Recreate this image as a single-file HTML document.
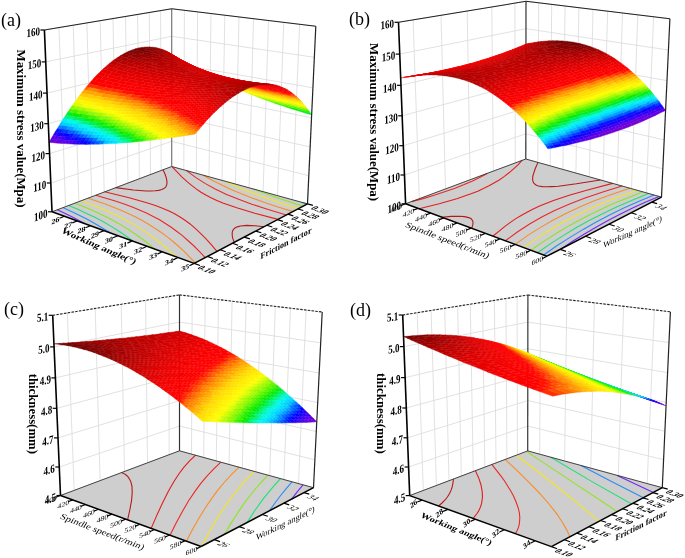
<!DOCTYPE html>
<html><head><meta charset="utf-8"><style>
html,body{margin:0;padding:0;background:#fff;width:685px;height:558px;overflow:hidden}
svg{display:block;will-change:transform}
text{font-family:"Liberation Serif",serif}
.tl{font-weight:bold}
.tt{font-weight:bold}
.tv{font-weight:bold}
.pl{}
.k0{fill:#8000c8;stroke:#8000c8}.k1{fill:#7700d0;stroke:#7700d0}.k2{fill:#6e00d8;stroke:#6e00d8}.k3{fill:#6600e0;stroke:#6600e0}.k4{fill:#5d00e8;stroke:#5d00e8}.k5{fill:#4e00ee;stroke:#4e00ee}.k6{fill:#3c00f2;stroke:#3c00f2}.k7{fill:#2a00f6;stroke:#2a00f6}.k8{fill:#1800fa;stroke:#1800fa}.k9{fill:#0600fe;stroke:#0600fe}.k10{fill:#0016ff;stroke:#0016ff}.k11{fill:#0039ff;stroke:#0039ff}.k12{fill:#005cff;stroke:#005cff}.k13{fill:#007eff;stroke:#007eff}.k14{fill:#00a1ff;stroke:#00a1ff}.k15{fill:#00c4ff;stroke:#00c4ff}.k16{fill:#00d4fd;stroke:#00d4fd}.k17{fill:#00e2fa;stroke:#00e2fa}.k18{fill:#00f0f7;stroke:#00f0f7}.k19{fill:#00f9e7;stroke:#00f9e7}.k20{fill:#00f6b7;stroke:#00f6b7}.k21{fill:#00f386;stroke:#00f386}.k22{fill:#00f056;stroke:#00f056}.k23{fill:#00ed25;stroke:#00ed25}.k24{fill:#08ec00;stroke:#08ec00}.k25{fill:#28ef00;stroke:#28ef00}.k26{fill:#49f200;stroke:#49f200}.k27{fill:#69f500;stroke:#69f500}.k28{fill:#89f800;stroke:#89f800}.k29{fill:#a4f900;stroke:#a4f900}.k30{fill:#bffb00;stroke:#bffb00}.k31{fill:#dafd00;stroke:#dafd00}.k32{fill:#f4fe00;stroke:#f4fe00}.k33{fill:#fffb00;stroke:#fffb00}.k34{fill:#fff400;stroke:#fff400}.k35{fill:#ffed00;stroke:#ffed00}.k36{fill:#ffe600;stroke:#ffe600}.k37{fill:#ffdf00;stroke:#ffdf00}.k38{fill:#ffd800;stroke:#ffd800}.k39{fill:#ffc900;stroke:#ffc900}.k40{fill:#ffb800;stroke:#ffb800}.k41{fill:#ffa700;stroke:#ffa700}.k42{fill:#ff9600;stroke:#ff9600}.k43{fill:#ff8500;stroke:#ff8500}.k44{fill:#ff6a00;stroke:#ff6a00}.k45{fill:#ff4c00;stroke:#ff4c00}.k46{fill:#ff2e00;stroke:#ff2e00}.k47{fill:#ff1000;stroke:#ff1000}.k48{fill:#fe0000;stroke:#fe0000}.k49{fill:#fd0000;stroke:#fd0000}.k50{fill:#fc0000;stroke:#fc0000}.k51{fill:#fa0000;stroke:#fa0000}.k52{fill:#f70000;stroke:#f70000}.k53{fill:#f40000;stroke:#f40000}.k54{fill:#f10000;stroke:#f10000}.k55{fill:#ed0000;stroke:#ed0000}.k56{fill:#e90000;stroke:#e90000}.k57{fill:#e40000;stroke:#e40000}.k58{fill:#de0000;stroke:#de0000}.k59{fill:#d90000;stroke:#d90000}.k60{fill:#d30000;stroke:#d30000}.k61{fill:#cc0000;stroke:#cc0000}.k62{fill:#c50000;stroke:#c50000}.k63{fill:#be0000;stroke:#be0000}.k64{fill:#b80000;stroke:#b80000}.k65{fill:#b00000;stroke:#b00000}.k66{fill:#a70000;stroke:#a70000}.k67{fill:#9e0000;stroke:#9e0000}.k68{fill:#950000;stroke:#950000}.k69{fill:#8b0000;stroke:#8b0000}.k70{fill:#810000;stroke:#810000}.k71{fill:#780000;stroke:#780000}.k72{fill:#6e0000;stroke:#6e0000}
</style></head><body>
<svg width="685" height="558" viewBox="0 0 685 558">
<g><line x1="52" y1="211.8" x2="171.7" y2="166.5" stroke="#d9d9d9" stroke-width="0.8"/><line x1="171.7" y1="166.5" x2="307.5" y2="203.9" stroke="#d9d9d9" stroke-width="0.8"/><line x1="50.8" y1="183" x2="171.7" y2="141.3" stroke="#d9d9d9" stroke-width="0.8"/><line x1="171.7" y1="141.3" x2="308.8" y2="175.7" stroke="#d9d9d9" stroke-width="0.8"/><line x1="49.5" y1="153.6" x2="171.7" y2="115.7" stroke="#d9d9d9" stroke-width="0.8"/><line x1="171.7" y1="115.7" x2="310.2" y2="147" stroke="#d9d9d9" stroke-width="0.8"/><line x1="48.3" y1="123.7" x2="171.7" y2="89.7" stroke="#d9d9d9" stroke-width="0.8"/><line x1="171.7" y1="89.7" x2="311.5" y2="117.7" stroke="#d9d9d9" stroke-width="0.8"/><line x1="47" y1="93.1" x2="171.7" y2="63.2" stroke="#d9d9d9" stroke-width="0.8"/><line x1="171.7" y1="63.2" x2="312.9" y2="87.8" stroke="#d9d9d9" stroke-width="0.8"/><line x1="45.7" y1="61.9" x2="171.7" y2="36.3" stroke="#d9d9d9" stroke-width="0.8"/><line x1="171.7" y1="36.3" x2="314.4" y2="57.3" stroke="#d9d9d9" stroke-width="0.8"/><line x1="44.4" y1="30" x2="171.7" y2="8.8" stroke="#d9d9d9" stroke-width="0.8"/><line x1="171.7" y1="8.8" x2="315.8" y2="26.2" stroke="#d9d9d9" stroke-width="0.8"/><line x1="65.6" y1="206.6" x2="59" y2="27.6" stroke="#d9d9d9" stroke-width="0.8"/><line x1="78.9" y1="201.6" x2="73.2" y2="25.2" stroke="#d9d9d9" stroke-width="0.8"/><line x1="91.7" y1="196.7" x2="86.9" y2="22.9" stroke="#d9d9d9" stroke-width="0.8"/><line x1="104.2" y1="192" x2="100.2" y2="20.7" stroke="#d9d9d9" stroke-width="0.8"/><line x1="116.3" y1="187.4" x2="113" y2="18.6" stroke="#d9d9d9" stroke-width="0.8"/><line x1="128" y1="183" x2="125.5" y2="16.5" stroke="#d9d9d9" stroke-width="0.8"/><line x1="139.4" y1="178.7" x2="137.6" y2="14.5" stroke="#d9d9d9" stroke-width="0.8"/><line x1="150.5" y1="174.5" x2="149.3" y2="12.5" stroke="#d9d9d9" stroke-width="0.8"/><line x1="161.2" y1="170.4" x2="160.6" y2="10.7" stroke="#d9d9d9" stroke-width="0.8"/><line x1="183.8" y1="169.8" x2="184.4" y2="10.4" stroke="#d9d9d9" stroke-width="0.8"/><line x1="196.3" y1="173.2" x2="197.6" y2="11.9" stroke="#d9d9d9" stroke-width="0.8"/><line x1="209" y1="176.7" x2="211" y2="13.6" stroke="#d9d9d9" stroke-width="0.8"/><line x1="222" y1="180.3" x2="224.8" y2="15.2" stroke="#d9d9d9" stroke-width="0.8"/><line x1="235.4" y1="184" x2="239" y2="17" stroke="#d9d9d9" stroke-width="0.8"/><line x1="249.1" y1="187.8" x2="253.5" y2="18.7" stroke="#d9d9d9" stroke-width="0.8"/><line x1="263.1" y1="191.7" x2="268.5" y2="20.5" stroke="#d9d9d9" stroke-width="0.8"/><line x1="277.5" y1="195.6" x2="283.8" y2="22.4" stroke="#d9d9d9" stroke-width="0.8"/><line x1="292.3" y1="199.7" x2="299.6" y2="24.3" stroke="#d9d9d9" stroke-width="0.8"/></g>
<path d="M52 211.8L194.2 263.4L307.5 203.9L171.7 166.5Z" fill="#cecece"/>
<g transform="scale(.2)" fill="none" stroke-width="5.5"><path d="M423 1118l-66-36-70-33" stroke="#7328fa"/><path d="M551 1164l-54-33-58-33-61-31-64-29" stroke="#288cfa"/><path d="M666 1206l-36-26-35-24-39-24-39-23-40-21-44-21-44-21-46-19" stroke="#1ee178"/><path d="M1509 1012l27 8" stroke="#1ee178"/><path d="M774 1246l-44-37-45-33-46-31-47-28-51-28-53-25-56-25-58-23" stroke="#8ce61e"/><path d="M1267 945l114 42 134 44" stroke="#8ce61e"/><path d="M880 1284l-51-47-51-41-53-38-55-35-59-32-64-31-67-29-74-27" stroke="#f5e61e"/><path d="M1123 905l76 35 85 33 96 34 112 37" stroke="#f5e61e"/><path d="M977 1314l-58-58-28-26-29-25-29-23-30-22-31-20-31-20-32-19-33-17-68-32-78-31-89-30" stroke="#fa8c28"/><path d="M1016 876l45 25 45 23 49 23 49 21 56 22 63 22 67 23 75 23" stroke="#fa8c28"/><path d="M1026 1288l-27-29-29-29-28-25-30-27-29-22-27-20-31-20-29-18-30-16-34-17-35-15-36-15-40-15-45-15-97-29" stroke="#eb2828"/><path d="M931 852l47 35 47 30 51 28 54 26 60 24 69 26 78 25 95 29" stroke="#eb2828"/><path d="M1085 1257l-31-36-26-29-28-28-24-22-24-21-27-20-25-16-27-16-28-14-33-14-35-13-39-13-92-26-123-30" stroke="#e11e1e"/><path d="M860 833l49 51 25 23 24 20 21 16 26 18 24 14 26 14 29 13 30 13 70 24 90 27 116 31" stroke="#e11e1e"/><path d="M815 849l10 21 6 18 3 14 1 13-2 11-5 10-9 7-10 5-15 4-18 2-22 1-24 0-63-5-89-12" stroke="#b41919"/><path d="M1171 1212l-5-14-4-14-1-11 0-9 2-9 3-6 7-8 8-5 10-3 12-3 30-3 42 2 45 5" stroke="#b41919"/></g>
<line x1="52" y1="211.8" x2="171.7" y2="166.5" stroke="#333" stroke-width="0.9"/>
<line x1="171.7" y1="166.5" x2="307.5" y2="203.9" stroke="#333" stroke-width="0.9"/>
<line x1="171.7" y1="166.5" x2="171.7" y2="8.8" stroke="#777" stroke-width="1.2"/>
<g transform="scale(.2)" stroke-width="2" stroke-linejoin="round"><path class="k58" d="M850 266l15 9 8 5-15-9zM856 270l15 9 9 5-15-9zM862 274l16 10 9 4-16-9zM869 279l16 9 9 5-16-9zM875 284l17 8 9 5-16-9zM882 288l17 9 9 4-16-9zM888 293l18 8 10 5-17-9z"/><path class="k59" d="M841 261l15 9 9 5-15-9zM847 265l15 9 9 5-15-9zM853 270l16 9 9 5-16-10zM859 275l16 9 10 4-16-9zM865 279l17 9 10 4-17-8z"/><path class="k56" d="M865 275l15 9 8 6-15-10zM871 279l16 9 8 6-15-10zM878 284l16 9 9 5-16-10zM916 306l18 8 9 5-17-9z"/><path class="k61" d="M832 256l15 9 9 5-15-9zM838 261l15 9 9 4-15-9zM844 266l15 9 10 4-16-9zM849 271l16 8 10 5-16-9zM855 276l17 8 10 4-17-9zM861 281l17 8 10 4-16-9z"/><path class="k55" d="M880 284l15 10 9 5-16-9zM887 288l16 10 8 5-16-9zM894 293l16 9 9 5-16-9zM901 297l17 9 9 5-17-9zM908 301l18 9 9 5-17-9z"/><path class="k62" d="M823 252l15 9 9 4-15-9zM828 257l16 9 9 4-15-9zM834 262l15 9 10 4-15-9zM839 267l16 9 10 3-16-8zM845 273l16 8 11 3-17-8z"/><path class="k53" d="M895 294l16 9 9 6-16-10zM903 298l16 9 9 6-17-10zM935 315l18 9 9 6-18-10zM943 319l18 9 10 5-18-9z"/><path class="k63" d="M813 248l15 9 10 4-15-9zM818 253l16 9 10 4-16-9zM824 259l15 8 10 4-15-9zM829 264l16 9 10 3-16-9zM834 270l16 8 11 3-16-8z"/><path class="k52" d="M911 303l17 10 8 5-16-9zM919 307l17 9 8 6-16-9zM927 311l17 9 9 6-17-10z"/><path class="k65" d="M804 245l14 8 10 4-15-9zM808 250l16 9 10 3-16-9zM806 260l16 8 12 2-16-8z"/><path class="k50" d="M928 313l16 9 9 6-17-10zM962 330l18 9 9 6-19-10zM971 333l18 9 9 6-18-9z"/><path class="k66" d="M793 242l15 8 10 3-14-8zM798 248l15 8 11 3-16-9zM802 254l16 8 11 2-16-8z"/><path class="k49" d="M944 322l17 10 9 6-17-10zM953 326l17 9 9 6-18-9z"/><path class="k57" d="M885 288l16 9 9 5-16-9zM892 292l16 9 10 5-17-9zM899 297l17 9 10 4-18-9z"/><path class="k54" d="M910 302l17 9 9 5-17-9zM918 306l17 9 9 5-17-9zM926 310l17 9 10 5-18-9z"/><path class="k51" d="M936 316l17 10 8 6-17-10zM944 320l18 10 8 5-17-9zM953 324l18 9 9 6-18-9z"/><path class="k67" d="M783 239l15 9 10 2-15-8zM787 245l15 9 11 2-15-8zM790 252l16 8 12 2-16-8zM778 251l16 7 12 2-16-8z"/><path class="k47" d="M961 332l18 9 8 6-17-9zM998 348l19 9 9 7-19-10z"/><path class="k68" d="M772 237l15 8 11 3-15-9zM775 244l15 8 12 2-15-9z"/><path class="k46" d="M979 341l18 10 8 6-18-10zM989 345l18 9 9 6-19-9z"/><path class="k64" d="M813 256l16 8 10 3-15-8zM818 262l16 8 11 3-16-9z"/><path class="k48" d="M970 335l19 10 8 6-18-10zM980 339l18 9 9 6-18-9z"/><path class="k45" d="M997 351l19 9 8 7-19-10zM1007 354l19 10 9 6-19-10z"/><path class="k69" d="M760 236l15 8 12 1-15-8zM763 243l15 8 12 1-15-8zM750 243l16 7 12 1-15-8z"/><path class="k43" d="M1016 360l19 10 8 7-19-10z"/><path class="k70" d="M748 235l15 8 12 1-15-8zM735 235l15 8 13 0-15-8z"/><path class="k60" d="M872 284l16 9 11 4-17-9z"/><path class="k42" d="M1035 370l19 10 8 7-19-10z"/><path class="k44" d="M1026 364l20 9 8 7-19-10z"/><path class="k41" d="M1054 380l20 10 9 6-21-9z"/><path class="k71" d="M722 236l15 7 13 0-15-8zM708 237l15 8 14-2-15-7zM693 240l15 7 15-2-15-8zM708 247l15 7 15-2-15-7zM677 244l15 7 16-4-15-7zM692 251l15 7 16-4-15-7zM660 250l15 6 17-5-15-7z"/><path class="k57" d="M906 301l17 9 11 4-18-8zM913 306l18 9 11 4-19-9zM939 319l19 8 11 4-19-8z"/><path class="k60" d="M878 289l17 9 11 3-18-8zM884 295l18 8 11 3-18-8zM891 300l18 8 11 3-18-8z"/><path class="k54" d="M934 314l18 9 9 5-18-9zM960 327l20 9 10 5-20-9zM969 331l20 9 10 5-19-9z"/><path class="k62" d="M850 278l17 8 11 3-17-8zM856 284l17 8 11 3-17-9zM861 290l18 8 12 2-18-8z"/><path class="k52" d="M961 328l19 9 9 5-18-9zM970 332l20 9 9 5-19-9zM980 336l19 9 10 5-19-9z"/><path class="k64" d="M822 268l17 8 11 2-16-8zM827 274l17 8 12 2-17-8zM831 281l17 7 13 2-17-8z"/><path class="k49" d="M989 342l19 10 9 5-19-9zM999 346l20 9 9 6-20-9zM1030 359l21 8 9 6-21-9z"/><path class="k66" d="M794 258l16 8 12 2-16-8zM798 265l16 8 13 1-17-8zM801 273l17 7 13 1-17-8zM787 273l17 8 14-1-17-7z"/><path class="k46" d="M1017 357l20 10 9 6-20-9zM1028 361l21 9 8 6-20-9zM1060 373l22 9 9 7-22-10z"/><path class="k68" d="M766 250l15 8 13 0-16-7zM768 258l16 7 14 0-17-7zM754 259l16 7 14-1-16-7z"/><path class="k43" d="M1046 373l20 10 8 7-20-10zM1057 376l21 10 9 6-21-9z"/><path class="k39" d="M1074 390l21 9 8 7-20-10zM1108 402l22 10 8 7-21-10z"/><path class="k70" d="M737 243l15 8 14-1-16-7zM723 245l15 7 14-1-15-8zM723 254l16 7 15-2-16-7zM707 258l16 7 16-4-16-7zM675 256l15 7 17-5-15-7z"/><path class="k58" d="M895 298l18 8 10 4-17-9zM920 311l19 8 11 4-19-8z"/><path class="k56" d="M923 310l19 9 10 4-18-9zM931 315l19 8 10 4-18-8z"/><path class="k61" d="M867 286l17 9 11 3-17-9zM873 292l18 8 11 3-18-8zM879 298l18 7 12 3-18-8z"/><path class="k53" d="M952 323l18 9 10 5-19-9z"/><path class="k63" d="M839 276l17 8 11 2-17-8zM844 282l17 8 12 2-17-8zM848 288l18 8 13 2-18-8z"/><path class="k50" d="M980 337l19 9 9 6-19-10zM1009 350l21 9 9 5-20-9z"/><path class="k65" d="M810 266l17 8 12 2-17-8zM814 273l17 8 13 1-17-8zM818 280l17 8 13 0-17-7z"/><path class="k47" d="M1008 352l20 9 9 6-20-10zM1039 364l21 9 9 6-20-9z"/><path class="k67" d="M781 258l17 7 12 1-16-8zM784 265l17 8 13 0-16-8zM770 266l17 7 14 0-17-8z"/><path class="k44" d="M1037 367l20 9 9 7-20-10zM1069 379l22 10 9 6-22-9z"/><path class="k41" d="M1066 383l21 9 8 7-21-9zM1100 395l22 10 8 7-22-10z"/><path class="k69" d="M752 251l16 7 13 0-15-8zM738 252l16 7 14-1-16-7zM739 261l16 7 15-2-16-7z"/><path class="k38" d="M1095 399l22 10 8 8-22-11zM1130 412l22 9 8 7-22-9z"/><path class="k55" d="M942 319l18 8 10 5-18-9zM950 323l19 8 11 5-20-9z"/><path class="k40" d="M1087 392l21 10 9 7-22-10z"/><path class="k37" d="M1117 409l21 10 8 7-21-9z"/><path class="k59" d="M902 303l18 8 11 4-18-9zM909 308l19 8 11 3-19-8z"/><path class="k51" d="M990 341l19 9 10 5-20-9zM999 345l21 8 10 6-21-9z"/><path class="k48" d="M1019 355l20 9 10 6-21-9z"/><path class="k45" d="M1049 370l20 9 9 7-21-10z"/><path class="k42" d="M1078 386l22 9 8 7-21-10z"/><path class="k36" d="M1138 419l22 9 8 8-22-10z"/><path class="k35" d="M1160 428l21 9 8 8-21-9z"/><path class="k43" d="M1091 389l22 9 9 7-22-10zM1125 400l22 8 9 7-22-8z"/><path class="k71" d="M641 257l15 7 19-8-15-6z"/><path class="k40" d="M1122 405l21 9 9 7-22-9zM1156 415l21 8 9 8-22-9z"/><path class="k37" d="M1152 421l21 9 8 7-21-9zM1186 431l21 8 8 7-21-8z"/><path class="k68" d="M755 268l17 7 15-2-17-7zM739 271l17 7 16-3-17-7zM722 276l17 7 17-5-17-7zM601 279l15 6 20-12-15-6zM688 276l16 7 18-7-16-6zM652 279l15 6 21-9-16-6zM616 285l15 5 21-11-16-6zM704 283l17 6 18-6-17-7zM667 285l17 6 20-8-16-7z"/><path class="k33" d="M1181 437l21 9 8 8-21-9zM1236 454l21 8 8 9-21-8z"/><path class="k69" d="M723 265l16 6 16-3-16-7zM706 270l16 6 17-5-16-6zM672 270l16 6 18-6-16-7zM636 273l16 6 20-9-16-6z"/><path class="k70" d="M690 263l16 7 17-5-16-7zM656 264l16 6 18-7-15-7zM621 267l15 6 20-9-15-7z"/><path class="k58" d="M928 316l19 8 11 3-19-8zM935 321l20 8 12 3-20-8z"/><path class="k56" d="M958 327l20 9 11 4-20-9zM967 332l20 8 12 4-21-8z"/><path class="k60" d="M897 305l19 8 12 3-19-8zM903 311l20 8 12 2-19-8z"/><path class="k53" d="M989 340l20 8 11 5-21-8zM1020 352l22 9 10 4-21-8z"/><path class="k62" d="M866 296l19 8 12 1-18-7zM871 302l19 8 13 1-18-7z"/><path class="k50" d="M1020 353l21 9 10 5-21-8zM1052 365l22 9 10 5-21-8z"/><path class="k64" d="M835 288l18 7 13 1-18-8zM839 295l19 7 13 0-18-7zM824 296l19 7 15-1-19-7z"/><path class="k48" d="M1051 367l21 9 10 6-22-9zM1063 371l21 8 10 6-22-9z"/><path class="k45" d="M1082 382l22 9 9 7-22-9zM1116 393l21 9 10 6-22-8z"/><path class="k66" d="M804 281l17 7 14 0-17-8zM789 282l17 7 15-1-17-7zM773 285l18 7 15-3-17-7zM791 292l18 6 15-2-18-7zM756 289l18 6 17-3-18-7z"/><path class="k42" d="M1113 398l21 9 9 7-21-9zM1147 408l21 8 9 7-21-8z"/><path class="k39" d="M1143 414l21 8 9 8-21-9zM1177 423l21 8 9 8-21-8z"/><path class="k67" d="M772 275l17 7 15-1-17-8zM756 278l17 7 16-3-17-7zM739 283l17 6 17-4-17-7zM582 291l15 6 19-12-15-6zM631 290l16 6 20-11-15-6zM721 289l17 6 18-6-17-6z"/><path class="k36" d="M1173 430l21 8 8 8-21-9zM1207 439l21 8 8 7-21-8z"/><path class="k32" d="M1202 446l21 8 8 9-21-9zM1223 454l21 9 8 8-21-8z"/><path class="k57" d="M947 324l20 8 11 4-20-9zM955 329l21 8 11 3-20-8z"/><path class="k59" d="M916 313l19 8 12 3-19-8zM923 319l20 7 12 3-20-8z"/><path class="k54" d="M978 336l21 8 10 4-20-8zM999 344l21 8 11 5-22-9z"/><path class="k61" d="M885 304l18 7 13 2-19-8zM890 310l20 7 13 2-20-8z"/><path class="k52" d="M1009 348l22 9 10 5-21-9z"/><path class="k63" d="M853 295l18 7 14 2-19-8zM858 302l18 7 14 1-19-8z"/><path class="k49" d="M1041 362l22 9 9 5-21-9z"/><path class="k47" d="M1072 376l22 9 10 6-22-9zM1084 379l22 8 10 6-22-8z"/><path class="k65" d="M821 288l18 7 14 0-18-7zM806 289l18 7 15-1-18-7z"/><path class="k44" d="M1104 391l21 9 9 7-21-9z"/><path class="k41" d="M1134 407l22 8 8 7-21-8z"/><path class="k38" d="M1164 422l22 9 8 7-21-8z"/><path class="k35" d="M1194 438l21 8 8 8-21-8z"/><path class="k51" d="M1031 357l21 8 11 6-22-9z"/><path class="k46" d="M1094 385l22 8 9 7-21-9z"/><path class="k31" d="M1244 463l21 8 7 8-20-8z"/><path class="k34" d="M1215 446l21 8 8 9-21-9z"/><path class="k55" d="M987 340l22 8 11 4-21-8z"/><path class="k30" d="M1265 471l20 7 8 9-21-8z"/><path class="k29" d="M1285 478l21 8 8 9-21-8z"/><path class="k32" d="M1257 462l20 8 8 8-20-7z"/><path class="k56" d="M976 337l21 7 12 4-22-8zM997 344l22 8 11 4-21-8zM1007 349l22 7 12 4-22-8z"/><path class="k58" d="M943 326l20 8 13 3-21-8zM963 334l22 7 12 3-21-7zM972 339l22 7 13 3-22-8z"/><path class="k54" d="M1009 348l21 8 12 5-22-9zM1041 360l22 7 11 4-22-7z"/><path class="k35" d="M1228 447l20 7 9 8-21-8z"/><path class="k60" d="M910 317l20 7 13 2-20-7zM930 324l20 8 13 2-20-8zM937 331l21 7 14 1-22-7z"/><path class="k52" d="M1042 361l22 8 10 5-22-9zM1052 364l22 7 11 5-21-7zM1074 371l22 8 11 5-22-8z"/><path class="k38" d="M1198 431l21 8 9 8-21-8z"/><path class="k49" d="M1074 374l22 8 10 5-22-8zM1107 384l21 7 11 6-22-8z"/><path class="k66" d="M597 297l15 5 19-12-15-5zM774 295l18 7 17-4-18-6zM738 295l17 6 19-6-18-6zM612 302l16 6 19-12-16-6zM700 297l17 6 21-8-17-6zM663 302l17 5 20-10-16-6zM755 301l18 6 19-5-18-7zM717 303l18 6 20-8-17-6z"/><path class="k41" d="M1168 416l21 8 9 7-21-8z"/><path class="k46" d="M1106 387l22 8 9 7-21-9zM1128 395l21 8 10 6-22-7z"/><path class="k44" d="M1137 402l22 7 9 7-21-8zM1170 410l21 7 10 7-21-7z"/><path class="k62" d="M876 309l20 7 14 1-20-7zM881 317l20 6 15 0-20-7zM578 327l15 5 17-12-16-5z"/><path class="k64" d="M843 303l19 7 14-1-18-7zM827 305l19 6 16-1-19-7zM594 315l16 5 18-12-16-6zM810 308l19 6 17-3-19-6zM610 320l17 5 17-12-16-5z"/><path class="k65" d="M564 304l15 5 18-12-15-6zM809 298l18 7 16-2-19-7zM579 309l15 6 18-13-15-5zM792 302l18 6 17-3-18-7zM628 308l16 5 19-11-16-6zM680 307l17 6 20-10-17-6zM773 307l19 6 18-5-18-6zM644 313l17 5 19-11-17-5zM735 309l18 6 20-8-18-6z"/><path class="k67" d="M684 291l16 6 21-8-17-6zM647 296l16 6 21-11-17-6z"/><path class="k28" d="M1306 486l21 7 7 9-20-7zM1327 493l20 7 8 10-21-8z"/><path class="k31" d="M1277 470l21 7 8 9-21-8zM1298 477l21 7 8 9-21-7z"/><path class="k34" d="M1248 454l21 8 8 8-20-8zM1269 462l21 7 8 8-21-7z"/><path class="k37" d="M1219 439l21 7 8 8-20-7zM1240 446l21 8 8 8-21-8z"/><path class="k40" d="M1189 424l21 7 9 8-21-8z"/><path class="k43" d="M1159 409l21 8 9 7-21-8z"/><path class="k53" d="M1030 356l22 8 12 5-22-8z"/><path class="k51" d="M1064 369l21 7 11 6-22-8z"/><path class="k48" d="M1096 382l21 7 11 6-22-8zM1117 389l22 8 10 6-21-8z"/><path class="k61" d="M896 316l20 7 14 1-20-7zM916 323l21 8 13 1-20-8zM531 331l15 5 16-14-15-5zM546 336l15 5 17-14-16-5zM901 323l21 7 15 1-21-8z"/><path class="k63" d="M862 310l19 7 15-1-20-7zM547 317l15 5 17-13-15-5zM562 322l16 5 16-12-15-6zM846 311l19 7 16-1-19-7z"/><path class="k39" d="M1210 431l21 8 9 7-21-7zM1231 439l21 7 9 8-21-8z"/><path class="k42" d="M1180 417l21 7 9 7-21-7zM1201 424l21 7 9 8-21-8z"/><path class="k45" d="M1149 403l21 7 10 7-21-8z"/><path class="k50" d="M1085 376l22 8 10 5-21-7z"/><path class="k57" d="M985 341l22 8 12 3-22-8z"/><path class="k55" d="M1019 352l22 8 11 4-22-8z"/><path class="k59" d="M950 332l22 7 13 2-22-7zM515 345l16 4 15-13-15-5z"/><path class="k27" d="M1347 500l20 7 8 10-20-7z"/><path class="k30" d="M1319 484l20 7 8 9-20-7z"/><path class="k33" d="M1290 469l21 7 8 8-21-7z"/><path class="k36" d="M1261 454l20 7 9 8-21-7z"/><path class="k47" d="M1139 397l21 7 10 6-21-7z"/><path class="k26" d="M1367 507l21 7 7 10-20-7z"/><path class="k29" d="M1339 491l21 7 7 9-20-7zM1360 498l20 7 8 9-21-7z"/><path class="k63" d="M865 318l21 7 15-2-20-6zM627 325l16 5 18-12-17-5zM849 321l20 6 17-2-21-7zM643 330l17 5 18-11-17-6zM869 327l20 6 17-2-20-6zM696 329l18 5 19-10-18-6zM830 325l20 6 19-4-20-6z"/><path class="k32" d="M1311 476l20 7 8 8-20-7zM1331 483l21 6 8 9-21-7z"/><path class="k35" d="M1281 461l21 6 9 9-21-7zM1302 467l21 7 8 9-20-7z"/><path class="k65" d="M697 313l18 5 20-9-18-6zM753 315l19 5 20-7-19-6z"/><path class="k64" d="M829 314l20 7 16-3-19-7zM661 318l17 6 19-11-17-6zM792 313l19 6 18-5-19-6zM715 318l18 6 20-9-18-6zM678 324l18 5 19-11-18-5zM811 319l19 6 19-4-20-7zM772 320l19 6 20-7-19-6zM733 324l18 5 21-9-19-5zM791 326l19 6 20-7-19-6z"/><path class="k38" d="M1252 446l21 7 8 8-20-7z"/><path class="k41" d="M1222 431l21 7 9 8-21-7z"/><path class="k44" d="M1191 417l21 7 10 7-21-7z"/><path class="k57" d="M501 359l15 4 15-14-16-4zM994 346l22 7 13 3-22-7zM516 363l15 5 15-14-15-5zM1016 353l22 7 12 3-21-7zM531 368l16 4 15-13-16-5z"/><path class="k46" d="M1160 404l21 7 10 6-21-7zM1181 411l21 7 10 6-21-7z"/><path class="k26" d="M1388 514l20 7 8 9-21-6z"/><path class="k59" d="M531 349l15 5 15-13-15-5zM958 338l22 7 14 1-22-7zM546 354l16 5 15-14-16-4zM980 345l22 6 14 2-22-7z"/><path class="k49" d="M1128 391l22 7 10 6-21-7z"/><path class="k51" d="M1096 379l21 7 11 5-21-7zM459 403l15 4 13-15-15-4z"/><path class="k61" d="M561 341l16 4 16-13-15-5zM922 330l21 7 15 1-21-7zM626 342l18 5 16-12-17-5z"/><path class="k62" d="M593 332l17 5 17-12-17-5zM886 325l20 6 16-1-21-7zM610 337l16 5 17-12-16-5zM906 331l22 6 15 0-21-7zM660 335l18 5 18-11-18-5z"/><path class="k53" d="M1063 367l21 7 12 5-22-8zM1084 374l22 7 11 5-21-7zM472 388l15 4 14-14-15-5zM487 392l16 4 14-14-16-4z"/><path class="k55" d="M1029 356l21 7 13 4-22-7zM486 373l15 5 15-15-15-4zM1050 363l22 7 12 4-21-7zM501 378l16 4 14-14-15-5z"/><path class="k37" d="M1273 453l20 6 9 8-21-6zM1293 459l21 7 9 8-21-7z"/><path class="k40" d="M1243 438l21 7 9 8-21-7zM1264 445l20 6 9 8-20-6z"/><path class="k25" d="M1408 521l21 6 7 10-20-7zM1429 527l20 7 7 10-20-7z"/><path class="k43" d="M1212 424l21 7 10 7-21-7z"/><path class="k28" d="M1380 505l21 6 7 10-20-7zM1401 511l20 7 8 9-21-6z"/><path class="k48" d="M1150 398l21 7 10 6-21-7z"/><path class="k60" d="M577 345l17 5 16-13-17-5zM943 337l22 7 15 1-22-7zM594 350l16 5 16-13-16-5z"/><path class="k50" d="M1117 386l22 6 11 6-22-7zM1139 392l21 7 11 6-21-7z"/><path class="k31" d="M1352 489l20 7 8 9-20-7zM1372 496l21 6 8 9-21-6z"/><path class="k34" d="M1323 474l20 7 9 8-21-6zM1343 481l21 6 8 9-20-7z"/><path class="k42" d="M1233 431l21 6 10 8-21-7zM1254 437l21 7 9 7-20-6z"/><path class="k45" d="M1202 418l21 6 10 7-21-7z"/><path class="k47" d="M1171 405l21 6 10 7-21-7z"/><path class="k58" d="M562 359l16 4 16-13-17-5zM1002 351l22 7 14 2-22-7z"/><path class="k52" d="M1106 381l21 6 12 5-22-6z"/><path class="k36" d="M1314 466l21 6 8 9-20-7z"/><path class="k54" d="M1072 370l22 7 12 4-22-7z"/><path class="k24" d="M1449 534l21 6 7 10-21-6z"/><path class="k56" d="M1038 360l21 7 13 3-22-7z"/><path class="k39" d="M1284 451l21 7 9 8-21-7z"/><path class="k27" d="M1421 518l21 6 7 10-20-7z"/><path class="k60" d="M965 344l22 6 15 1-22-6zM610 355l17 4 17-12-18-5zM950 344l22 6 15 0-22-6zM972 350l22 6 15 0-22-6z"/><path class="k55" d="M517 382l16 4 14-14-16-4zM1081 373l21 6 13 4-21-6z"/><path class="k64" d="M751 329l19 6 21-9-19-6z"/><path class="k61" d="M928 337l22 7 15 0-22-7zM644 347l17 5 17-12-18-5zM661 352l18 4 17-11-18-5zM933 345l22 6 17-1-22-6zM715 350l19 4 17-10-19-5z"/><path class="k30" d="M1393 502l20 6 8 10-20-7zM1413 508l21 6 8 10-21-6z"/><path class="k44" d="M1223 424l21 6 10 7-21-6zM1244 430l21 6 10 8-21-7zM420 449l15 3 13-15-15-4z"/><path class="k48" d="M446 418l15 4 13-15-15-4zM461 422l15 4 13-15-15-4zM476 426l16 3 13-14-16-4zM1202 411l21 6 11 7-21-7z"/><path class="k56" d="M547 372l16 4 15-13-16-4zM1059 367l22 6 13 4-22-7zM563 376l17 5 15-14-17-4zM580 381l17 4 15-13-17-5z"/><path class="k62" d="M889 333l22 6 17-2-22-6zM678 340l18 5 18-11-18-5zM911 339l22 6 17-1-22-7zM696 345l19 5 17-11-18-5zM871 337l22 6 18-4-22-6zM751 344l20 5 19-9-20-5z"/><path class="k47" d="M1192 411l21 6 10 7-21-6z"/><path class="k33" d="M1364 487l20 6 9 9-21-6zM1384 493l21 6 8 9-20-6z"/><path class="k63" d="M714 334l18 5 19-10-18-5zM850 331l21 6 18-4-20-6zM810 332l20 5 20-6-20-6zM770 335l20 5 20-8-19-6zM732 339l19 5 19-9-19-6zM830 337l21 6 20-6-21-6zM790 340l20 5 20-8-20-5z"/><path class="k58" d="M578 363l17 4 15-12-16-5zM595 367l17 5 15-13-17-4zM612 372l18 4 15-12-18-5z"/><path class="k49" d="M1160 399l21 6 11 6-21-6zM1181 405l21 6 11 6-21-6z"/><path class="k50" d="M474 407l15 4 14-15-16-4zM489 411l16 4 14-15-16-4zM505 415l16 3 14-14-16-4z"/><path class="k24" d="M1470 540l20 6 7 10-20-6z"/><path class="k36" d="M1335 472l20 6 9 9-21-6z"/><path class="k52" d="M1127 387l21 7 12 5-21-7zM503 396l16 4 14-14-16-4zM519 400l16 4 14-14-16-4z"/><path class="k54" d="M1094 377l21 6 12 4-21-6zM533 386l16 4 14-14-16-4zM549 390l17 4 14-13-17-5z"/><path class="k39" d="M1305 458l21 6 9 8-21-6zM396 480l15 3 12-15-15-4z"/><path class="k27" d="M1442 524l20 6 8 10-21-6z"/><path class="k46" d="M433 433l15 4 13-15-15-4zM1213 417l21 7 10 6-21-6zM448 437l15 4 13-15-15-4zM1234 424l21 5 10 7-21-6z"/><path class="k41" d="M1275 444l21 6 9 8-21-7zM1296 450l20 6 10 8-21-6zM408 464l15 4 12-16-15-3z"/><path class="k57" d="M1024 358l22 6 13 3-21-7zM1046 364l21 6 14 3-22-6z"/><path class="k59" d="M987 350l22 6 15 2-22-7zM627 359l18 5 16-12-17-5zM1009 356l22 6 15 2-22-6zM645 364l18 4 16-12-18-4z"/><path class="k23" d="M1490 546l20 6 8 11-21-7zM1510 552l21 6 7 11-20-6z"/><path class="k35" d="M1355 478l21 6 8 9-20-6zM1376 484l21 6 8 9-21-6z"/><path class="k26" d="M1462 530l20 6 8 10-20-6zM1482 536l21 6 7 10-20-6z"/><path class="k51" d="M1148 394l22 6 11 5-21-6zM1170 400l21 6 11 5-21-6z"/><path class="k38" d="M1326 464l20 6 9 8-20-6zM1346 470l21 6 9 8-21-6z"/><path class="k53" d="M1115 383l21 6 12 5-21-7z"/><path class="k29" d="M1434 514l20 6 8 10-20-6zM1454 520l21 6 7 10-20-6z"/><path class="k43" d="M1265 436l21 6 10 8-21-6zM435 452l16 4 12-15-15-4z"/><path class="k32" d="M1405 499l21 6 8 9-21-6z"/><path class="k40" d="M1316 456l21 6 9 8-20-6z"/><path class="k60" d="M679 356l19 5 17-11-19-5zM994 356l22 6 15 0-22-6zM698 361l19 4 17-11-19-4zM977 357l22 5 17 0-22-6zM717 365l19 5 17-11-19-5z"/><path class="k53" d="M1136 389l22 6 12 5-22-6z"/><path class="k23" d="M1531 558l20 6 7 10-20-5z"/><path class="k32" d="M1426 505l20 6 8 9-20-6z"/><path class="k62" d="M893 343l22 5 18-3-22-6zM851 343l22 5 20-5-22-6zM810 345l21 5 20-7-21-6zM771 349l20 5 19-9-20-5zM915 348l22 6 18-3-22-6zM873 348l22 6 20-6-22-5zM831 350l21 5 21-7-22-5zM791 354l21 5 19-9-21-5z"/><path class="k46" d="M463 441l16 3 13-15-16-3zM1255 429l21 6 10 7-21-6zM479 444l16 3 13-14-16-4zM495 447l17 4 13-15-17-3z"/><path class="k43" d="M1286 442l21 6 9 8-20-6zM451 456l16 3 12-15-16-3zM1307 448l20 6 10 8-21-6zM467 459l16 3 12-15-16-3z"/><path class="k52" d="M535 404l17 4 14-14-17-4zM1158 395l21 5 12 6-21-6zM552 408l17 4 14-14-17-4zM1179 400l21 6 12 5-21-5zM569 412l17 3 14-13-17-4z"/><path class="k55" d="M1102 379l22 6 12 4-21-6z"/><path class="k41" d="M423 468l15 3 13-15-16-4zM438 471l16 3 13-15-16-3zM454 474l16 3 13-15-16-3z"/><path class="k35" d="M1397 490l20 6 9 9-21-6z"/><path class="k26" d="M1503 542l20 6 8 10-21-6zM339 560l15 3 11-16-15-3z"/><path class="k36" d="M384 496l15 3 12-16-15-3zM399 499l15 3 12-16-15-3z"/><path class="k57" d="M1067 370l22 6 13 3-21-6zM630 376l18 4 15-12-18-4zM648 380l18 4 16-12-19-4z"/><path class="k54" d="M566 394l17 4 14-13-17-4zM1124 385l21 5 13 5-22-6zM583 398l17 4 15-13-18-4zM1145 390l21 6 13 4-21-5z"/><path class="k48" d="M492 429l16 4 13-15-16-3zM1223 417l21 6 11 6-21-5zM1244 423l21 5 11 7-21-6zM508 433l17 3 13-14-17-4z"/><path class="k37" d="M1367 476l21 5 9 9-21-6zM1388 481l20 6 9 9-20-6zM1408 487l21 5 9 9-21-5z"/><path class="k58" d="M1031 362l22 6 14 2-21-6zM1053 368l22 6 14 2-22-6z"/><path class="k29" d="M1475 526l20 6 8 10-21-6z"/><path class="k56" d="M597 385l18 4 15-13-18-4zM1089 376l21 5 14 4-22-6zM615 389l18 4 15-13-18-4zM1110 381l22 6 13 3-21-5z"/><path class="k50" d="M1191 406l21 5 11 6-21-6zM521 418l17 4 14-14-17-4zM1212 411l21 6 11 6-21-6zM538 422l17 4 14-14-17-4z"/><path class="k40" d="M1337 462l21 5 9 9-21-6zM1358 467l21 6 9 8-21-5z"/><path class="k34" d="M372 512l15 3 12-16-15-3zM1417 496l21 5 8 10-20-6zM387 515l16 3 11-16-15-3zM1438 501l20 6 9 9-21-5z"/><path class="k39" d="M411 483l15 3 12-15-15-3zM426 486l16 3 12-15-16-3z"/><path class="k31" d="M1446 511l21 5 8 10-21-6zM361 528l15 3 11-16-15-3zM1467 516l20 6 8 10-20-6zM376 531l15 2 12-15-16-3z"/><path class="k59" d="M663 368l19 4 16-11-19-5zM1016 362l22 5 15 1-22-6zM682 372l19 5 16-12-19-4z"/><path class="k61" d="M955 351l22 6 17-1-22-6zM734 354l19 5 18-10-20-5zM753 359l21 5 17-10-20-5zM937 354l22 5 18-2-22-6z"/><path class="k25" d="M1523 548l21 5 7 11-20-6z"/><path class="k45" d="M1276 435l21 6 10 7-21-6zM1297 441l20 5 10 8-20-6z"/><path class="k28" d="M1495 532l21 5 7 11-20-6zM350 544l15 3 11-16-15-3zM1516 537l20 6 8 10-21-5z"/><path class="k42" d="M1327 454l21 5 10 8-21-5z"/><path class="k47" d="M1265 428l21 6 11 7-21-6z"/><path class="k36" d="M414 502l16 3 12-16-16-3zM1429 492l21 5 8 10-20-6zM430 505l16 3 12-16-16-3zM1450 497l20 6 9 9-21-5zM1470 503l21 5 9 9-21-5z"/><path class="k31" d="M1487 522l21 5 8 10-21-5zM1508 527l21 6 7 10-20-6zM391 533l16 3 12-16-16-2z"/><path class="k39" d="M1379 473l20 5 9 9-20-6zM442 489l16 3 12-15-16-3zM1399 478l21 5 9 9-21-5zM458 492l17 3 12-15-17-3zM1420 483l21 5 9 9-21-5z"/><path class="k54" d="M600 402l18 4 15-13-18-4zM1166 396l21 5 13 5-21-6zM618 406l19 3 14-12-18-4z"/><path class="k49" d="M1233 417l21 5 11 6-21-5zM1254 422l21 5 11 7-21-6zM1275 427l21 5 11 7-21-5z"/><path class="k23" d="M328 577l15 2 11-16-15-3zM343 579l15 3 11-17-15-2z"/><path class="k48" d="M525 436l17 4 13-14-17-4zM542 440l18 3 13-14-18-3z"/><path class="k57" d="M1075 374l21 5 14 2-21-5zM666 384l19 4 16-11-19-5zM1096 379l21 5 15 3-22-6zM685 388l20 4 15-11-19-4zM1117 384l22 5 14 3-21-5z"/><path class="k34" d="M1458 507l21 5 8 10-20-6zM403 518l16 2 11-15-16-3zM419 520l16 3 11-15-16-3z"/><path class="k42" d="M1348 459l21 5 10 9-21-6zM1369 464l21 6 9 8-20-5z"/><path class="k62" d="M895 354l22 5 20-5-22-6zM852 355l23 5 20-6-22-6zM812 359l22 5 18-9-21-5zM917 359l22 5 20-5-22-5zM875 360l22 5 20-6-22-5z"/><path class="k29" d="M365 547l15 2 11-16-15-2zM380 549l16 3 11-16-16-3z"/><path class="k44" d="M483 462l16 3 13-14-17-4zM1338 451l21 5 10 8-21-5zM499 465l17 3 13-14-17-3zM1359 456l21 5 10 9-21-6z"/><path class="k56" d="M633 393l18 4 15-13-18-4zM1132 387l21 5 13 4-21-6zM651 397l19 3 15-12-19-4z"/><path class="k52" d="M1200 406l21 5 12 6-21-6zM586 415l18 4 14-13-18-4zM604 419l19 3 14-13-19-3z"/><path class="k59" d="M1038 367l21 5 16 2-22-6zM701 377l19 4 16-11-19-5zM1059 372l22 5 15 2-21-5zM720 381l21 4 16-11-21-4z"/><path class="k45" d="M1317 446l21 5 10 8-21-5z"/><path class="k21" d="M317 593l15 3 11-17-15-2zM332 596l15 2 11-16-15-3z"/><path class="k50" d="M555 426l18 3 13-14-17-3zM573 429l18 3 13-13-18-4z"/><path class="k60" d="M999 362l22 5 17 0-22-5zM736 370l21 4 17-10-21-5zM1021 367l22 5 16 0-21-5zM757 374l21 4 16-10-20-4z"/><path class="k47" d="M1286 434l21 5 10 7-20-5zM1307 439l21 5 10 7-21-5z"/><path class="k26" d="M354 563l15 2 11-16-15-2zM369 565l16 3 11-16-16-3z"/><path class="k46" d="M512 451l17 3 13-14-17-4zM529 454l18 3 13-14-18-3z"/><path class="k61" d="M774 364l20 4 18-9-21-5zM959 359l22 5 18-2-22-5zM834 364l22 4 19-8-23-5zM794 368l22 5 18-9-22-5zM981 364l22 5 18-2-22-5z"/><path class="k18" d="M306 610l15 2 11-16-15-3zM321 612l16 2 10-16-15-2z"/><path class="k41" d="M470 477l17 3 12-15-16-3zM1390 470l20 5 10 8-21-5zM487 480l17 3 12-15-17-3z"/><path class="k33" d="M1479 512l21 5 8 10-21-5zM1500 517l20 6 9 10-21-6z"/><path class="k15" d="M296 627l15 2 10-17-15-2z"/><path class="k51" d="M1221 411l21 5 12 6-21-5zM1242 416l21 5 12 6-21-5z"/><path class="k53" d="M1187 401l22 5 12 5-21-5z"/><path class="k13" d="M286 644l14 2 11-17-15-2z"/><path class="k55" d="M1153 392l21 5 13 4-21-5z"/><path class="k10" d="M275 660l15 2 10-16-14-2z"/><path class="k32" d="M407 536l16 3 12-16-16-3z"/><path class="k37" d="M446 508l17 2 12-15-17-3z"/><path class="k24" d="M358 582l16 2 11-16-16-3zM374 584l16 2 11-16-16-2z"/><path class="k7" d="M265 677l15 2 10-17-15-2z"/><path class="k54" d="M637 409l19 4 14-13-19-3zM656 413l20 3 14-12-20-4z"/><path class="k16" d="M311 629l15 2 11-17-16-2zM326 631l16 2 10-17-15-2z"/><path class="k48" d="M560 443l18 3 13-14-18-3zM578 446l18 3 13-13-18-4zM1317 437l21 5 11 7-21-5z"/><path class="k39" d="M1441 488l20 5 9 10-20-6zM475 495l17 3 12-15-17-3zM492 498l17 3 13-15-18-3z"/><path class="k29" d="M396 552l16 2 11-15-16-3zM412 554l17 3 11-16-17-2z"/><path class="k58" d="M1081 377l21 5 15 2-21-5zM1102 382l22 5 15 2-22-5z"/><path class="k46" d="M1328 444l21 5 10 7-21-5zM547 457l18 3 13-14-18-3zM1349 449l20 5 11 7-21-5zM565 460l18 3 13-14-18-3zM1369 454l21 4 11 8-21-5z"/><path class="k53" d="M1209 406l21 5 12 5-21-5zM1230 411l21 4 12 6-21-5zM1251 415l21 5 12 6-21-5z"/><path class="k61" d="M939 364l22 4 20-4-22-5zM856 368l22 5 19-8-22-5zM1003 369l22 5 18-2-22-5zM816 373l22 4 18-9-22-4zM961 368l22 5 20-4-22-5zM919 370l22 4 20-6-22-4zM878 373l22 4 19-7-22-5zM838 377l23 4 17-8-22-5z"/><path class="k44" d="M516 468l18 3 13-14-18-3zM1380 461l21 5 9 9-20-5zM534 471l18 3 13-14-18-3zM1401 466l20 5 10 9-21-5z"/><path class="k4" d="M255 694l15 2 10-17-15-2z"/><path class="k34" d="M435 523l16 3 12-16-17-2zM451 526l17 2 12-15-17-3z"/><path class="k56" d="M670 400l20 4 15-12-20-4zM690 404l20 4 15-12-20-4z"/><path class="k21" d="M347 598l16 2 11-16-16-2z"/><path class="k13" d="M300 646l16 1 10-16-15-2zM316 647l15 2 11-16-16-2z"/><path class="k41" d="M1410 475l21 5 10 8-21-5zM1431 480l21 4 9 9-20-5zM1452 484l21 5 9 9-21-5z"/><path class="k50" d="M591 432l18 4 14-14-19-3zM609 436l19 3 14-13-19-4z"/><path class="k49" d="M1296 432l21 5 11 7-21-5z"/><path class="k55" d="M1174 397l21 5 14 4-22-5zM1195 402l21 4 14 5-21-5z"/><path class="k60" d="M1043 372l21 5 17 0-22-5zM778 378l21 4 17-9-22-5zM1064 377l22 4 16 1-21-5zM1025 374l21 4 18-1-21-5zM799 382l22 4 17-9-22-4z"/><path class="k2" d="M245 712l15 1 10-17-15-2zM260 713l15 2 10-17-15-2z"/><path class="k36" d="M1491 508l21 5 8 10-20-6z"/><path class="k57" d="M705 392l20 4 16-11-21-4zM1139 389l21 4 14 4-21-5zM725 396l21 4 16-11-21-4zM1160 393l21 5 14 4-21-5z"/><path class="k62" d="M897 365l22 5 20-6-22-5z"/><path class="k27" d="M385 568l16 2 11-16-16-2zM401 570l16 2 12-15-17-3z"/><path class="k10" d="M290 662l15 2 11-17-16-1z"/><path class="k19" d="M337 614l15 2 11-16-16-2zM352 616l16 2 11-16-16-2z"/><path class="k59" d="M741 385l21 4 16-11-21-4zM762 389l21 4 16-11-21-4z"/><path class="k32" d="M423 539l17 2 11-15-16-3zM440 541l17 2 11-15-17-2z"/><path class="k51" d="M1263 421l21 5 12 6-21-5zM1284 426l21 4 12 7-21-5z"/><path class="k52" d="M623 422l19 4 14-13-19-4zM642 426l20 3 14-13-20-3z"/><path class="k42" d="M504 483l18 3 12-15-18-3zM522 486l18 3 12-15-18-3z"/><path class="k37" d="M463 510l17 3 12-15-17-3zM480 513l18 2 11-14-17-3z"/><path class="k38" d="M1461 493l21 5 9 10-21-5zM1482 498l21 5 9 10-21-5z"/><path class="k8" d="M280 679l15 2 10-17-15-2zM295 681l16 1 10-16-16-2z"/><path class="k5" d="M270 696l15 2 10-17-15-2z"/><path class="k22" d="M363 600l16 2 11-16-16-2z"/><path class="k11" d="M305 664l16 2 10-17-15-2z"/><path class="k24" d="M390 586l16 2 11-16-16-2z"/><path class="k58" d="M1124 387l21 4 15 2-21-4zM1145 391l21 4 15 3-21-5zM1166 395l21 4 15 3-21-4z"/><path class="k48" d="M1338 442l20 4 11 8-20-5zM596 449l19 3 13-13-19-3zM1358 446l21 5 11 7-21-4zM1379 451l21 4 11 8-21-5z"/><path class="k16" d="M342 633l16 1 10-16-16-2z"/><path class="k54" d="M676 416l20 4 14-12-20-4zM696 420l21 3 14-12-21-3zM1259 415l21 4 13 5-21-4z"/><path class="k43" d="M1421 471l21 5 10 8-21-4zM1442 476l21 4 10 9-21-5zM1463 480l21 4 10 10-21-5z"/><path class="k30" d="M429 557l17 2 11-16-17-2zM446 559l17 2 11-16-17-2z"/><path class="k55" d="M1216 406l22 5 13 4-21-4zM1238 411l21 4 13 5-21-5z"/><path class="k61" d="M983 373l22 4 20-3-22-5zM941 374l22 4 20-5-22-5zM900 377l23 4 18-7-22-4zM861 381l22 4 17-8-22-4zM1005 377l22 4 19-3-21-4zM963 378l22 4 20-5-22-4zM923 381l21 4 19-7-22-4zM883 385l22 4 18-8-23-4zM1027 381l21 4 20-3-22-4z"/><path class="k5" d="M285 698l16 1 10-17-16-1z"/><path class="k44" d="M552 474l19 3 12-14-18-3zM571 477l19 3 12-14-19-3z"/><path class="k35" d="M468 528l18 2 12-15-18-2zM486 530l18 3 12-15-18-3z"/><path class="k40" d="M509 501l18 2 13-14-18-3zM527 503l19 2 12-14-18-2z"/><path class="k22" d="M379 602l17 2 10-16-16-2zM396 604l17 2 10-16-17-2z"/><path class="k51" d="M1305 430l21 5 12 7-21-5zM648 442l20 3 14-13-20-3z"/><path class="k59" d="M1086 381l21 5 17 1-22-5zM783 393l22 3 16-10-22-4zM1107 386l21 4 17 1-21-4zM805 396l23 4 16-10-23-4z"/><path class="k14" d="M331 649l16 2 11-17-16-1zM347 651l17 1 10-16-16-2z"/><path class="k56" d="M710 408l21 3 15-11-21-4zM1181 398l21 4 14 4-21-4zM1202 402l22 4 14 5-22-5zM731 411l22 4 15-12-22-3z"/><path class="k46" d="M1390 458l21 5 10 8-20-5zM583 463l19 3 13-14-19-3zM1411 463l21 4 10 9-21-5zM1432 467l21 4 10 9-21-4z"/><path class="k3" d="M275 715l16 1 10-17-16-1zM291 716l16 1 10-17-16-1z"/><path class="k50" d="M628 439l20 3 14-13-20-3zM1326 435l21 4 11 7-20-4zM1347 439l21 4 11 8-21-5z"/><path class="k41" d="M1473 489l21 5 9 9-21-5z"/><path class="k27" d="M417 572l17 2 12-15-17-2z"/><path class="k53" d="M1272 420l21 4 12 6-21-4zM682 432l21 3 14-12-21-3z"/><path class="k11" d="M321 666l16 1 10-16-16-2z"/><path class="k57" d="M746 400l22 3 15-10-21-4zM768 403l22 4 15-11-22-3z"/><path class="k19" d="M368 618l17 2 11-16-17-2z"/><path class="k60" d="M1046 378l22 4 18-1-22-4zM821 386l23 4 17-9-23-4zM1068 382l21 4 18 0-21-5zM844 390l22 4 17-9-22-4z"/><path class="k32" d="M457 543l17 2 12-15-18-2z"/><path class="k37" d="M498 515l18 3 11-15-18-2z"/><path class="k42" d="M540 489l18 2 13-14-19-3zM558 491l19 2 13-13-19-3z"/><path class="k52" d="M662 429l20 3 14-12-20-4zM1293 424l21 5 12 6-21-5z"/><path class="k9" d="M311 682l16 2 10-17-16-1zM327 684l16 1 11-16-17-2z"/><path class="k25" d="M406 588l17 2 11-16-17-2zM423 590l18 2 11-16-18-2z"/><path class="k17" d="M358 634l16 2 11-16-17-2zM374 636l17 2 11-16-17-2z"/><path class="k49" d="M615 452l20 3 13-13-20-3z"/><path class="k6" d="M301 699l16 1 10-16-16-2z"/><path class="k28" d="M434 574l18 2 11-15-17-2z"/><path class="k12" d="M337 667l17 2 10-17-17-1z"/><path class="k20" d="M385 620l17 2 11-16-17-2z"/><path class="k33" d="M474 545l18 3 12-15-18-3z"/><path class="k47" d="M602 466l20 2 13-13-20-3z"/><path class="k38" d="M516 518l18 2 12-15-19-2z"/><path class="k59" d="M1128 390l22 4 16 1-21-4zM1150 394l21 3 16 2-21-4zM828 400l22 3 16-9-22-4zM1171 397l21 4 17 2-22-4zM850 403l22 3 16-9-22-3z"/><path class="k56" d="M1224 406l21 4 14 5-21-4zM753 415l22 3 15-11-22-4zM1245 410l21 4 14 5-21-4zM775 418l23 3 14-11-22-3zM1266 414l21 4 14 5-21-4z"/><path class="k31" d="M463 561l18 2 11-15-18-3zM481 563l18 1 12-15-19-1z"/><path class="k52" d="M1314 429l21 4 12 6-21-4zM1335 433l21 4 12 6-21-4zM1356 437l21 3 12 7-21-4z"/><path class="k49" d="M635 455l20 3 13-13-20-3zM655 458l21 2 13-12-21-3zM676 460l22 3 13-13-22-2z"/><path class="k7" d="M317 700l16 2 10-17-16-1zM333 702l17 1 10-17-17-1z"/><path class="k48" d="M1400 455l21 4 11 8-21-4zM1421 459l21 4 11 8-21-4zM1442 463l21 4 11 9-21-5z"/><path class="k54" d="M717 423l21 3 15-11-22-4zM1280 419l21 4 13 6-21-5zM1301 423l21 4 13 6-21-4zM1322 427l21 3 13 7-21-4z"/><path class="k36" d="M504 533l18 2 12-15-18-2zM522 535l19 2 12-15-19-2z"/><path class="k45" d="M590 480l19 2 13-14-20-2zM1453 471l21 5 10 8-21-4zM609 482l21 2 12-13-20-3z"/><path class="k23" d="M413 606l17 1 11-15-18-2zM430 607l18 2 11-16-18-1z"/><path class="k15" d="M364 652l17 2 10-16-17-2z"/><path class="k40" d="M546 505l19 3 12-15-19-2z"/><path class="k4" d="M307 717l16 1 10-16-16-2z"/><path class="k60" d="M1089 386l22 4 17 0-21-4zM866 394l22 3 17-8-22-4zM1111 390l21 3 18 1-22-4zM888 397l22 3 17-8-22-3zM1132 393l21 4 18 0-21-3z"/><path class="k61" d="M985 382l22 3 20-4-22-4zM944 385l22 3 19-6-22-4zM1048 385l22 3 19-2-21-4zM905 389l22 3 17-7-21-4zM1007 385l21 4 20-4-21-4zM966 388l22 3 19-6-22-3zM1070 388l21 3 20-1-22-4zM927 392l22 3 17-7-22-3zM1028 389l22 3 20-4-22-3z"/><path class="k58" d="M1187 399l22 4 15 3-22-4zM790 407l22 3 16-10-23-4zM1209 403l21 4 15 3-21-4zM812 410l23 3 15-10-22-3zM1230 407l21 3 15 4-21-4z"/><path class="k50" d="M1368 443l21 4 11 8-21-4zM1389 447l21 4 11 8-21-4zM1410 451l21 4 11 8-21-4z"/><path class="k28" d="M452 576l18 2 11-15-18-2z"/><path class="k51" d="M668 445l21 3 14-13-21-3zM689 448l22 2 14-12-22-3z"/><path class="k12" d="M354 669l16 1 11-16-17-2z"/><path class="k21" d="M402 622l17 1 11-16-17-1zM419 623l18 2 11-16-18-2z"/><path class="k33" d="M492 548l19 1 11-14-18-2z"/><path class="k47" d="M622 468l20 3 13-13-20-3zM642 471l21 2 13-13-21-2z"/><path class="k38" d="M534 520l19 2 12-14-19-3z"/><path class="k43" d="M577 493l20 3 12-14-19-2zM597 496l20 2 13-14-21-2z"/><path class="k10" d="M343 685l17 1 10-16-16-1z"/><path class="k26" d="M441 592l18 1 11-15-18-2zM459 593l18 2 11-15-18-2z"/><path class="k53" d="M703 435l22 3 13-12-21-3zM725 438l22 3 14-12-23-3z"/><path class="k18" d="M391 638l18 1 10-16-17-1z"/><path class="k55" d="M738 426l23 3 14-11-22-3z"/><path class="k16" d="M381 654l17 1 11-16-18-1z"/><path class="k41" d="M565 508l20 2 12-14-20-3z"/><path class="k5" d="M323 718l17 1 10-16-17-1z"/><path class="k29" d="M470 578l18 2 11-16-18-1z"/><path class="k13" d="M370 670l18 1 10-16-17-1z"/><path class="k34" d="M511 549l19 2 11-14-19-2z"/><path class="k39" d="M553 522l20 2 12-14-20-2z"/><path class="k11" d="M360 686l18 1 10-16-18-1z"/><path class="k19" d="M409 639l17 1 11-15-18-2z"/><path class="k32" d="M499 564l19 2 12-15-19-2z"/><path class="k8" d="M350 703l17 1 11-17-18-1z"/><path class="k24" d="M448 609l18 1 11-15-18-2z"/><path class="k16" d="M398 655l18 1 10-16-17-1z"/><path class="k36" d="M541 537l20 1 12-14-20-2z"/><path class="k52" d="M1377 440l21 4 12 7-21-4zM711 450l22 3 14-12-22-3zM1398 444l21 4 12 7-21-4zM1419 448l21 3 12 8-21-4zM733 453l23 2 13-12-22-2z"/><path class="k55" d="M761 429l22 3 15-11-23-3zM783 432l23 2 14-10-22-3z"/><path class="k45" d="M630 484l20 3 13-14-21-2z"/><path class="k41" d="M585 510l20 2 12-14-20-2z"/><path class="k56" d="M1287 418l21 4 14 5-21-4zM1308 422l21 3 14 5-21-3zM1329 425l21 3 14 6-21-4zM806 434l22 3 14-11-22-2zM1350 428l22 4 13 6-21-4z"/><path class="k5" d="M340 719l17 1 10-16-17-1z"/><path class="k59" d="M1192 401l22 3 16 3-21-4zM872 406l22 3 16-9-22-3zM1214 404l21 4 16 2-21-3zM894 409l22 3 16-9-22-3zM1235 408l21 3 16 3-21-4z"/><path class="k29" d="M488 580l19 1 11-15-19-2z"/><path class="k57" d="M798 421l22 3 15-11-23-3zM820 424l22 2 15-10-22-3zM842 426l22 2 15-9-22-3z"/><path class="k14" d="M388 671l18 1 10-16-18-1z"/><path class="k50" d="M1431 455l21 4 11 8-21-4zM698 463l22 2 13-12-22-3zM720 465l22 2 14-12-23-2z"/><path class="k61" d="M988 391l22 3 18-5-21-4zM1091 391l22 4 19-2-21-3zM949 395l22 3 17-7-22-3zM1113 395l21 3 19-1-21-4zM971 398l21 3 18-7-22-3zM1134 398l21 3 20-1-22-3zM1196 403l21 3 18 2-21-4zM992 401l22 3 17-7-21-3z"/><path class="k22" d="M437 625l18 1 11-16-18-1zM455 626l19 1 11-16-19-1z"/><path class="k54" d="M1343 430l21 4 13 6-21-3zM1364 434l21 4 13 6-21-4zM769 443l23 3 14-12-23-2zM1385 438l21 3 13 7-21-4z"/><path class="k34" d="M530 551l19 2 12-15-20-1z"/><path class="k58" d="M1251 410l21 4 15 4-21-4zM835 413l22 3 15-10-22-3zM1272 414l21 3 15 5-21-4zM857 416l22 3 15-10-22-3zM1293 417l21 3 15 5-21-3z"/><path class="k48" d="M663 473l22 3 13-13-22-3zM685 476l22 2 13-13-22-2z"/><path class="k39" d="M573 524l20 2 12-14-20-2z"/><path class="k44" d="M617 498l21 2 12-13-20-3zM638 500l22 2 12-13-22-2z"/><path class="k11" d="M378 687l17 1 11-16-18-1z"/><path class="k60" d="M910 400l22 3 17-8-22-3zM1153 397l22 3 17 1-21-4zM1175 400l21 3 18 1-22-3zM932 403l22 3 17-8-22-3z"/><path class="k27" d="M477 595l19 1 11-15-19-1z"/><path class="k19" d="M426 640l19 1 10-15-18-1z"/><path class="k53" d="M747 441l22 2 14-11-22-3z"/><path class="k62" d="M1050 392l21 3 20-4-21-3zM1010 394l21 3 19-5-22-3zM1071 395l22 3 20-3-22-4zM1031 397l22 3 18-5-21-3z"/><path class="k32" d="M518 566l20 2 11-15-19-2z"/><path class="k9" d="M367 704l18 0 10-16-17-1z"/><path class="k17" d="M416 656l18 1 11-16-19-1z"/><path class="k25" d="M466 610l19 1 11-15-19-1zM485 611l20 1 11-15-20-1z"/><path class="k37" d="M561 538l20 2 12-14-20-2z"/><path class="k46" d="M650 487l22 2 13-13-22-3zM672 489l22 1 13-12-22-2z"/><path class="k42" d="M605 512l21 2 12-14-21-2zM626 514l21 1 13-13-22-2z"/><path class="k6" d="M357 720l18 1 10-17-18 0z"/><path class="k30" d="M507 581l20 1 11-14-20-2z"/><path class="k15" d="M406 672l18 1 10-16-18-1z"/><path class="k35" d="M549 553l21 1 11-14-20-2z"/><path class="k40" d="M593 526l21 1 12-13-21-2z"/><path class="k12" d="M395 688l19 1 10-16-18-1z"/><path class="k28" d="M496 596l20 1 11-15-20-1z"/><path class="k20" d="M445 641l19 1 10-15-19-1z"/><path class="k10" d="M385 704l18 1 11-16-19-1z"/><path class="k33" d="M538 568l20 1 12-15-21-1z"/><path class="k18" d="M434 657l19 1 11-16-19-1z"/><path class="k38" d="M581 540l21 2 12-15-21-1z"/><path class="k7" d="M375 721l18 0 10-16-18-1z"/><path class="k31" d="M527 582l20 2 11-15-20-1zM547 584l21 1 11-15-21-1z"/><path class="k15" d="M424 673l19 1 10-16-19-1zM452 690l20 0 10-16-20 0z"/><path class="k23" d="M474 627l20 1 11-16-20-1z"/><path class="k59" d="M879 419l22 2 15-9-22-3zM1256 411l21 3 16 3-21-3zM901 421l22 2 15-9-22-2zM923 423l21 2 16-9-22-2z"/><path class="k61" d="M954 406l22 2 16-7-21-3zM1217 406l22 3 17 2-21-3zM976 408l21 3 17-7-22-3zM1239 409l21 3 17 2-21-3zM997 411l22 2 16-7-21-2zM1260 412l21 2 18 3-22-3z"/><path class="k52" d="M756 455l22 2 14-11-23-3z"/><path class="k54" d="M1406 441l22 3 12 7-21-3zM792 446l22 2 14-11-22-3z"/><path class="k62" d="M1093 398l21 3 20-3-21-3zM1155 401l22 3 19-1-21-3zM1053 400l21 3 19-5-22-3zM1014 404l21 2 18-6-22-3zM1114 401l22 2 19-2-21-3zM1177 404l21 2 19 0-21-3zM1074 403l22 2 18-4-21-3zM1035 406l22 2 17-5-21-3zM1136 403l21 3 20-2-22-3zM1198 406l21 3 20 0-22-3zM1096 405l21 2 19-4-22-2z"/><path class="k60" d="M916 412l22 2 16-8-22-3zM1277 414l22 3 15 3-21-3zM938 414l22 2 16-8-22-2zM1299 417l21 3 16 3-22-3zM960 416l21 2 16-7-21-3zM1320 420l21 2 16 4-21-3z"/><path class="k35" d="M570 554l20 2 12-14-21-2z"/><path class="k13" d="M414 689l19 0 10-15-19-1z"/><path class="k49" d="M707 478l22 2 13-13-22-2zM729 480l23 1 13-12-23-2z"/><path class="k40" d="M614 527l21 2 12-14-21-1z"/><path class="k58" d="M1314 420l22 3 14 5-21-3zM1336 423l21 3 15 6-22-4zM1357 426l21 3 15 6-21-3zM886 431l22 1 15-9-22-2zM1378 429l22 3 14 6-21-3z"/><path class="k28" d="M516 597l20 1 11-14-20-2z"/><path class="k45" d="M660 502l22 2 12-14-22-1zM682 504l22 1 13-13-23-2z"/><path class="k21" d="M464 642l19 1 11-15-20-1z"/><path class="k56" d="M1372 432l21 3 13 6-21-3zM828 437l22 2 14-11-22-2zM1393 435l21 3 14 6-22-3zM850 439l22 2 14-10-22-3z"/><path class="k10" d="M403 705l19 0 11-16-19 0z"/><path class="k33" d="M558 569l21 1 11-14-20-2z"/><path class="k18" d="M453 658l20 1 10-16-19-1z"/><path class="k51" d="M742 467l23 2 13-12-22-2zM765 469l22 2 13-12-22-2z"/><path class="k26" d="M505 612l20 1 11-15-20-1z"/><path class="k38" d="M602 542l22 1 11-14-21-2z"/><path class="k8" d="M393 721l19 0 10-16-19 0z"/><path class="k47" d="M694 490l23 2 12-12-22-2z"/><path class="k43" d="M647 515l23 2 12-13-22-2zM670 517l22 1 12-13-22-1z"/><path class="k57" d="M864 428l22 3 15-10-22-2z"/><path class="k16" d="M443 674l19 0 11-15-20-1z"/><path class="k24" d="M494 628l20 0 11-15-20-1z"/><path class="k53" d="M778 457l22 2 14-11-22-2zM800 459l22 2 14-11-22-2z"/><path class="k36" d="M590 556l22 1 12-14-22-1z"/><path class="k14" d="M433 689l19 1 10-16-19 0z"/><path class="k41" d="M635 529l23 1 12-13-23-2z"/><path class="k55" d="M814 448l22 2 14-11-22-2zM836 450l22 1 14-10-22-2z"/><path class="k29" d="M536 598l21 1 11-14-21-1z"/><path class="k22" d="M483 643l20 1 11-16-20 0z"/><path class="k11" d="M422 705l20 1 10-16-19-1z"/><path class="k34" d="M579 570l22 1 11-14-22-1z"/><path class="k19" d="M473 659l20 0 10-15-20-1z"/><path class="k27" d="M525 613l21 1 11-15-21-1z"/><path class="k39" d="M624 543l22 1 12-14-23-1z"/><path class="k9" d="M412 721l20 1 10-16-20-1z"/><path class="k48" d="M717 492l22 2 13-13-23-1z"/><path class="k32" d="M568 585l21 0 12-14-22-1z"/><path class="k17" d="M462 674l20 0 11-15-20 0z"/><path class="k25" d="M514 628l21 1 11-15-21-1z"/><path class="k37" d="M612 557l22 1 12-14-22-1z"/><path class="k50" d="M752 481l22 2 13-12-22-2z"/><path class="k42" d="M658 530l22 1 12-13-22-1z"/><path class="k46" d="M704 505l23 1 12-12-22-2z"/><path class="k30" d="M557 599l21 1 11-15-21 0zM589 615l23 0 11-14-23-1z"/><path class="k62" d="M1057 408l22 2 17-5-22-2zM1219 409l22 2 19 1-21-3zM1019 413l22 2 16-7-22-2zM1241 411l21 2 19 1-21-2zM1303 417l21 2 17 3-21-2zM1041 415l21 2 17-7-22-2zM1324 419l22 2 17 4-22-3zM1062 417l22 1 16-6-21-2zM1025 422l21 2 16-7-21-2zM1346 421l21 3 17 3-21-2z"/><path class="k23" d="M503 644l21 0 11-15-21-1zM524 644l22 0 10-15-21 0z"/><path class="k63" d="M1157 406l21 2 20-2-21-2zM1117 407l22 2 18-3-21-3zM1178 408l22 2 19-1-21-3zM1079 410l21 2 17-5-21-2zM1139 409l21 2 18-3-21-2zM1200 410l21 2 20-1-22-2zM1100 412l22 2 17-5-22-2zM1262 413l22 2 19 2-22-3zM1160 411l22 2 18-3-22-2zM1221 412l22 2 19-1-21-2zM1284 415l21 3 19 1-21-2zM1122 414l21 2 17-5-21-2z"/><path class="k57" d="M872 441l22 1 14-10-22-1zM894 442l21 2 15-10-22-2zM901 454l22 1 14-10-22-1z"/><path class="k12" d="M442 706l20 0 10-16-20 0z"/><path class="k58" d="M908 432l22 2 14-9-21-2zM915 444l22 1 14-9-21-2z"/><path class="k52" d="M787 471l22 1 13-11-22-2zM809 472l22 1 13-11-22-1z"/><path class="k35" d="M601 571l22 1 11-14-22-1z"/><path class="k61" d="M981 418l22 2 16-7-22-2zM1281 414l22 3 17 3-21-3zM1003 420l22 2 16-7-22-2zM988 429l21 1 16-8-22-2z"/><path class="k60" d="M944 425l22 2 15-9-21-2zM1341 422l22 3 15 4-21-3zM1363 425l21 2 16 5-22-3zM966 427l22 2 15-9-22-2z"/><path class="k20" d="M493 659l21 0 10-15-21 0z"/><path class="k28" d="M546 614l21 1 11-15-21-1z"/><path class="k40" d="M646 544l22 1 12-14-22-1zM668 545l23 1 11-14-22-1z"/><path class="k48" d="M739 494l22 1 13-12-22-2z"/><path class="k10" d="M432 722l20-1 10-15-20 0z"/><path class="k44" d="M692 518l22 1 13-13-23-1z"/><path class="k54" d="M822 461l22 1 14-11-22-1zM844 462l22 1 14-10-22-2z"/><path class="k33" d="M589 585l23 1 11-14-22-1z"/><path class="k18" d="M482 674l21 1 11-16-21 0z"/><path class="k26" d="M535 629l21 0 11-14-21-1z"/><path class="k56" d="M858 451l22 2 14-11-22-1zM880 453l21 1 14-10-21-2z"/><path class="k50" d="M774 483l22 1 13-12-22-1z"/><path class="k38" d="M634 558l23 1 11-14-22-1z"/><path class="k16" d="M472 690l21 0 10-15-21-1z"/><path class="k46" d="M727 506l22 1 12-12-22-1zM737 520l22 1 12-13-22-1z"/><path class="k42" d="M680 531l22 1 12-13-22-1z"/><path class="k31" d="M578 600l22 0 12-14-23-1z"/><path class="k59" d="M930 434l21 2 15-9-22-2zM951 436l22 1 15-8-22-2z"/><path class="k13" d="M462 706l21 0 10-16-21 0z"/><path class="k36" d="M623 572l22 0 12-13-23-1z"/><path class="k49" d="M761 495l22 1 13-12-22-1zM783 496l22 1 13-12-22-1z"/><path class="k21" d="M514 659l21 0 11-15-22 0z"/><path class="k29" d="M567 615l22 0 11-15-22 0z"/><path class="k45" d="M714 519l23 1 12-13-22-1z"/><path class="k11" d="M452 721l20 0 11-15-21 0z"/><path class="k34" d="M612 586l22 0 11-14-22 0z"/><path class="k19" d="M503 675l22 0 10-16-21 0z"/><path class="k51" d="M796 484l22 1 13-12-22-1z"/><path class="k27" d="M556 629l23 1 10-15-22 0z"/><path class="k39" d="M657 559l22 0 12-13-23-1z"/><path class="k47" d="M749 507l22 1 12-12-22-1z"/><path class="k43" d="M702 532l23 1 12-13-23-1z"/><path class="k17" d="M493 690l21 0 11-15-22 0z"/><path class="k53" d="M831 473l22 1 13-11-22-1z"/><path class="k32" d="M600 600l23 1 11-15-22 0z"/><path class="k24" d="M546 644l22 0 11-14-23-1z"/><path class="k15" d="M483 706l21-1 10-15-21 0z"/><path class="k37" d="M645 572l23 1 11-14-22 0z"/><path class="k55" d="M866 463l22 1 13-10-21-1z"/><path class="k41" d="M691 546l22 0 12-13-23-1z"/><path class="k22" d="M535 659l22 0 11-15-22 0z"/><path class="k63" d="M1084 418l21 2 17-6-22-2zM1305 418l22 1 19 2-22-2zM1105 420l22 1 16-5-21-2zM1089 426l22 2 16-7-22-1zM1111 428l22 1 15-6-21-2zM1074 434l22 1 15-7-22-2z"/><path class="k12" d="M472 721l22 0 10-16-21 1z"/><path class="k52" d="M818 485l22 1 13-12-22-1zM840 486l22 0 13-11-22-1zM849 498l22 0 13-11-22-1z"/><path class="k58" d="M937 445l22 1 14-9-22-1zM945 456l22 1 14-9-22-2zM967 457l21 1 14-10-21 0z"/><path class="k64" d="M1182 413l21 2 18-3-21-2zM1243 414l21 2 20-1-22-2zM1143 416l22 2 17-5-22-2zM1203 415l22 2 18-3-22-2zM1264 416l22 2 19 0-21-3zM1327 419l21 2 19 3-21-3zM1165 418l21 1 17-4-21-2zM1127 421l21 2 17-5-22-2zM1225 417l21 1 18-2-21-2zM1286 418l22 1 19 0-22-1zM1186 419l22 1 17-3-22-2zM1148 423l22 1 16-5-21-1z"/><path class="k62" d="M1046 424l22 1 16-7-22-1zM1068 425l21 1 16-6-21-2zM1053 433l21 1 15-8-21-1z"/><path class="k35" d="M634 586l22 1 12-14-23-1zM667 601l22-1 11-14-22 1z"/><path class="k60" d="M973 437l22 2 14-9-21-1zM995 439l21 1 15-9-22-1zM1002 448l22 1 14-8-22-1z"/><path class="k20" d="M525 675l22-1 10-15-22 0zM559 689l22-1 10-15-22 1z"/><path class="k61" d="M1009 430l22 1 15-7-21-2zM1031 431l22 2 15-8-22-1zM1016 440l22 1 15-8-22-2zM1038 441l22 0 14-7-21-1z"/><path class="k28" d="M579 630l22-1 11-14-23 0z"/><path class="k48" d="M771 508l22 1 12-12-22-1zM803 522l21 0 13-12-22-1z"/><path class="k39" d="M679 559l22 0 12-13-22 0z"/><path class="k44" d="M725 533l22 0 12-12-22-1z"/><path class="k54" d="M853 474l22 1 13-11-22-1zM875 475l21 1 14-11-22-1z"/><path class="k18" d="M514 690l22-1 11-15-22 1z"/><path class="k33" d="M623 601l22 0 11-14-22-1z"/><path class="k26" d="M568 644l22 0 11-15-22 1z"/><path class="k56" d="M888 464l22 1 13-10-22-1zM910 465l21 1 14-10-22-1z"/><path class="k50" d="M805 497l22 0 13-11-22-1z"/><path class="k38" d="M668 573l22 0 11-14-22 0zM690 573l22 0 11-13-22-1z"/><path class="k16" d="M504 705l22 0 10-16-22 1z"/><path class="k46" d="M759 521l22 0 12-12-22-1z"/><path class="k57" d="M923 455l22 1 14-10-22-1zM931 466l22 1 14-10-22-1z"/><path class="k42" d="M713 546l22 0 12-13-22 0z"/><path class="k31" d="M612 615l22 0 11-14-22 0z"/><path class="k59" d="M959 446l22 2 14-9-22-2zM981 448l21 0 14-8-21-1z"/><path class="k23" d="M557 659l23 0 10-15-22 0z"/><path class="k13" d="M494 721l22-1 10-15-22 0z"/><path class="k36" d="M656 587l22 0 12-14-22 0z"/><path class="k49" d="M793 509l22 0 12-12-22 0zM815 509l22 1 12-12-22-1z"/><path class="k21" d="M547 674l22 0 11-15-23 0z"/><path class="k40" d="M701 559l22 1 12-14-22 0z"/><path class="k29" d="M601 629l22 0 11-14-22 0z"/><path class="k45" d="M747 533l22 1 12-13-22 0zM769 534l22 0 12-12-22-1z"/><path class="k34" d="M645 601l22 0 11-14-22 0z"/><path class="k51" d="M827 497l22 1 13-12-22 0z"/><path class="k19" d="M536 689l23 0 10-15-22 0z"/><path class="k27" d="M590 644l22 0 11-15-22 0z"/><path class="k47" d="M781 521l22 1 12-13-22 0z"/><path class="k43" d="M735 546l22 1 12-13-22-1z"/><path class="k53" d="M862 486l22 1 12-11-21-1z"/><path class="k17" d="M526 705l22-1 11-15-23 0z"/><path class="k32" d="M634 615l22 0 11-14-22 0z"/><path class="k25" d="M580 659l22-1 10-14-22 0z"/><path class="k55" d="M896 476l22 1 13-11-21-1z"/><path class="k37" d="M678 587l22-1 12-13-22 0z"/><path class="k15" d="M516 720l22-1 10-15-22 1z"/><path class="k41" d="M723 560l22 0 12-13-22-1z"/><path class="k65" d="M1246 418l22 2 18-2-22-2zM1308 419l21 2 19 0-21-2z"/><path class="k30" d="M623 629l22 0 11-14-22 0z"/><path class="k22" d="M569 674l22-1 11-15-22 1z"/><path class="k65" d="M1208 420l21 2 17-4-21-1zM1268 420l22 1 18-2-22-1zM1170 424l21 1 17-5-22-1zM1229 422l22 1 17-3-22-2zM1191 425l22 1 16-4-21-2zM1176 430l22 1 15-5-22-1zM1161 437l22 0 15-6-22-1z"/><path class="k28" d="M612 644l23-1 10-14-22 0zM646 657l22-1 10-15-21 1z"/><path class="k39" d="M712 573l22 0 11-13-22 0zM722 586l22 0 12-14-22 1z"/><path class="k44" d="M757 547l22 0 12-13-22 0zM789 559l22-1 11-12-21 0z"/><path class="k54" d="M884 487l21 0 13-10-22-1zM905 487l22 1 13-11-22 0zM914 499l22-1 13-10-22 0z"/><path class="k33" d="M656 615l22-1 11-14-22 1zM689 627l22-1 11-13-22 0z"/><path class="k18" d="M548 704l23-1 10-15-22 1z"/><path class="k56" d="M918 477l22 0 13-10-22-1zM940 477l22 0 13-10-22 0zM949 488l21 0 13-11-21 0z"/><path class="k50" d="M837 510l21 0 13-12-22 0zM846 522l22-1 12-11-22 0zM868 521l22 0 12-11-22 0z"/><path class="k26" d="M602 658l22 0 11-15-23 1zM635 671l22-1 11-14-22 1z"/><path class="k38" d="M700 586l22 0 12-13-22 0zM733 599l22-1 11-13-22 1z"/><path class="k46" d="M791 534l21 0 12-12-21 0zM801 546l21 0 12-12-22 0zM822 546l22-1 12-12-22 1z"/><path class="k57" d="M953 467l22 0 13-9-21-1zM962 477l21 0 13-9-21-1z"/><path class="k42" d="M745 560l22-1 12-12-22 0zM777 572l22-1 12-13-22 1z"/><path class="k64" d="M1133 429l21 1 16-6-22-1zM1154 430l22 0 15-5-21-1zM1118 435l21 1 15-6-21-1zM1139 436l22 1 15-7-22 0z"/><path class="k16" d="M538 719l22-1 11-15-23 1z"/><path class="k59" d="M988 458l22 0 14-9-22-1zM996 468l22 0 14-9-22-1z"/><path class="k63" d="M1096 435l22 0 15-6-22-1zM1081 442l22 1 15-8-22 0zM1103 443l22 0 14-7-21-1z"/><path class="k31" d="M645 629l22-1 11-14-22 1z"/><path class="k52" d="M871 498l22 0 12-11-21 0zM880 510l22 0 12-11-21-1z"/><path class="k24" d="M591 673l22-1 11-14-22 0z"/><path class="k61" d="M1024 449l21 1 15-9-22 0zM1045 450l22 0 14-8-21-1z"/><path class="k62" d="M1060 441l21 1 15-7-22-1zM1067 450l22 1 14-8-22-1z"/><path class="k36" d="M689 600l22 0 11-14-22 0z"/><path class="k49" d="M824 522l22 0 12-12-21 0z"/><path class="k66" d="M1290 421l21 1 18-1-21-2zM1251 423l22 1 17-3-22-1zM1213 426l22 1 16-4-22-1zM1273 424l21 1 17-3-21-1zM1235 427l22 1 16-4-22-1zM1198 431l21 1 16-5-22-1z"/><path class="k40" d="M734 573l22-1 11-13-22 1zM744 586l22-1 11-13-21 0z"/><path class="k45" d="M779 547l22-1 11-12-21 0z"/><path class="k22" d="M581 688l22-1 10-15-22 1z"/><path class="k29" d="M635 643l22-1 10-14-22 1z"/><path class="k51" d="M858 510l22 0 13-12-22 0z"/><path class="k34" d="M678 614l22-1 11-13-22 0z"/><path class="k58" d="M975 467l21 1 14-10-22 0zM983 477l22 1 13-10-22 0z"/><path class="k19" d="M571 703l22-1 10-15-22 1zM582 717l22-2 11-15-22 2z"/><path class="k27" d="M624 658l22-1 11-15-22 1z"/><path class="k47" d="M812 534l22 0 12-12-22 0z"/><path class="k60" d="M1010 458l22 1 13-9-21-1zM1032 459l21 0 14-9-22 0z"/><path class="k43" d="M767 559l22 0 12-13-22 1z"/><path class="k53" d="M893 498l21 1 13-11-22-1z"/><path class="k17" d="M560 718l22-1 11-15-22 1z"/><path class="k32" d="M667 628l22-1 11-14-22 1z"/><path class="k25" d="M613 672l22-1 11-14-22 1z"/><path class="k55" d="M927 488l22 0 13-11-22 0z"/><path class="k37" d="M711 600l22-1 11-13-22 0z"/><path class="k41" d="M756 572l21 0 12-13-22 0z"/><path class="k30" d="M657 642l21-1 11-14-22 1z"/><path class="k23" d="M603 687l22-1 10-15-22 1z"/><path class="k35" d="M700 613l22 0 11-14-22 1z"/><path class="k48" d="M834 534l22-1 12-12-22 1z"/><path class="k21" d="M593 702l22-2 10-14-22 1z"/><path class="k60" d="M1018 468l22 0 13-9-21 0zM1040 468l22 0 13-9-22 0zM1048 477l22 0 13-9-21 0z"/><path class="k53" d="M902 510l22-1 12-11-22 1zM924 509l21 0 13-11-22 0zM933 520l22-1 12-11-22 1z"/><path class="k31" d="M678 641l22-1 11-14-22 1z"/><path class="k64" d="M1125 443l21 1 15-7-22-1zM1146 444l22 0 15-7-22 0zM1132 451l22 0 14-7-22 0z"/><path class="k61" d="M1053 459l22 0 14-8-22-1zM1062 468l21 0 14-9-22 0zM1070 477l22-1 13-8-22 0z"/><path class="k63" d="M1089 451l21 0 15-8-22 0zM1110 451l22 0 14-7-21-1zM1097 459l22 0 13-8-22 0zM1119 459l21 0 14-8-22 0z"/><path class="k24" d="M625 686l22-2 10-14-22 1z"/><path class="k67" d="M1257 428l21 0 16-3-21-1zM1241 432l22 1 15-5-21 0zM1226 438l22 0 15-5-22-1z"/><path class="k49" d="M856 533l22 0 12-12-22 0zM888 544l21-1 12-11-22 0z"/><path class="k36" d="M722 613l22-1 11-14-22 1zM755 624l21-1 11-14-21 1z"/><path class="k55" d="M936 498l22 0 12-10-21 0zM967 508l22 0 12-11-22 1z"/><path class="k45" d="M811 558l21 0 12-13-22 1zM843 569l21-1 12-12-22 1z"/><path class="k41" d="M766 585l22-1 11-13-22 1zM798 596l22-1 11-13-21 1z"/><path class="k29" d="M668 656l22-2 10-14-22 1z"/><path class="k22" d="M615 700l21-1 11-15-22 2z"/><path class="k57" d="M970 488l22 0 13-10-22-1zM1001 497l22 0 13-10-22 0z"/><path class="k66" d="M1219 432l22 0 16-4-22-1zM1204 438l22 0 15-6-22 0zM1190 444l22 0 14-6-22 0zM1212 444l22 0 14-6-22 0z"/><path class="k51" d="M890 521l21 0 13-12-22 1zM899 532l22 0 12-12-22 1z"/><path class="k34" d="M711 626l22-1 11-13-22 1z"/><path class="k59" d="M1005 478l22-1 13-9-22 0zM1027 477l21 0 14-9-22 0zM1036 487l21-1 13-9-22 0z"/><path class="k65" d="M1183 437l21 1 15-6-21-1zM1168 444l22 0 14-6-21-1zM1154 451l22 0 14-7-22 0z"/><path class="k47" d="M844 545l22 0 12-12-22 0zM854 557l22-1 12-12-22 1z"/><path class="k20" d="M604 715l22-1 10-15-21 1z"/><path class="k39" d="M755 598l22-1 11-13-22 1zM787 609l22-1 11-13-22 1z"/><path class="k27" d="M657 670l22-2 11-14-22 2zM669 683l21-2 11-14-22 1z"/><path class="k43" d="M799 571l22-1 11-12-21 0zM810 583l21-1 12-13-22 1z"/><path class="k62" d="M1075 459l22 0 13-8-21 0zM1083 468l22 0 14-9-22 0z"/><path class="k32" d="M700 640l22-1 11-14-22 1zM711 653l22-2 11-13-22 1z"/><path class="k50" d="M878 533l21-1 12-11-21 0z"/><path class="k56" d="M958 498l21 0 13-10-22 0zM979 498l22-1 13-10-22 1z"/><path class="k25" d="M647 684l22-1 10-15-22 2zM658 697l22-2 10-14-21 2z"/><path class="k37" d="M744 612l22-2 11-13-22 1z"/><path class="k46" d="M832 558l22-1 12-12-22 0z"/><path class="k42" d="M788 584l22-1 11-13-22 1z"/><path class="k58" d="M992 488l22-1 13-10-22 1zM1014 487l22 0 12-10-21 0z"/><path class="k30" d="M690 654l21-1 11-14-22 1zM701 667l22-2 10-14-22 2z"/><path class="k52" d="M911 521l22-1 12-11-21 0zM921 532l22-1 12-12-22 1z"/><path class="k23" d="M636 699l22-2 11-14-22 1zM648 712l22-2 10-15-22 2z"/><path class="k35" d="M733 625l22-1 11-14-22 2zM744 638l22-2 10-13-21 1z"/><path class="k48" d="M866 545l22-1 11-12-21 1zM876 556l22-1 11-12-21 1z"/><path class="k40" d="M777 597l21-1 12-13-22 1z"/><path class="k54" d="M945 509l22-1 12-10-21 0z"/><path class="k44" d="M821 570l22-1 11-12-22 1zM831 582l22-1 11-13-21 1z"/><path class="k28" d="M679 668l22-1 10-14-21 1zM690 681l22-2 11-14-22 2z"/><path class="k21" d="M626 714l22-2 10-15-22 2z"/><path class="k33" d="M722 639l22-1 11-14-22 1z"/><path class="k38" d="M766 610l21-1 11-13-21 1z"/><path class="k54" d="M955 519l22 0 12-11-22 0zM965 530l21-1 12-11-21 1zM997 538l21-1 12-11-22 1z"/><path class="k65" d="M1176 451l22 0 14-7-22 0zM1162 459l22-1 14-7-22 0zM1171 466l22 0 13-8-22 0z"/><path class="k63" d="M1105 468l22-1 13-8-21 0zM1127 467l22 0 13-8-22 0zM1114 476l22-1 13-8-22 0zM1136 475l22-1 13-8-22 1zM1123 484l22-1 13-9-22 1z"/><path class="k64" d="M1140 459l22 0 14-8-22 0zM1149 467l22-1 13-8-22 1zM1158 474l22 0 13-8-22 0zM1145 483l22-1 13-8-22 0z"/><path class="k33" d="M733 651l22-1 11-14-22 2zM777 673l22-2 10-14-21 2z"/><path class="k50" d="M909 543l22-1 12-11-22 1zM919 554l22-1 12-12-22 1zM930 564l22-1 11-12-22 2z"/><path class="k56" d="M989 508l22-1 12-10-22 0zM998 518l22-1 12-11-21 1zM1008 527l22-1 12-11-22 2z"/><path class="k26" d="M680 695l22-1 10-15-22 2z"/><path class="k38" d="M776 623l22-2 11-13-22 1zM809 633l22-2 11-13-22 1z"/><path class="k46" d="M864 568l22-1 12-12-22 1zM875 579l22-1 11-12-22 1zM885 590l22-1 11-13-21 2z"/><path class="k42" d="M820 595l22-2 11-12-22 1zM831 606l22-1 11-13-22 1z"/><path class="k58" d="M1023 497l22-1 12-10-21 1zM1032 506l22-1 13-10-22 1zM1042 515l22-1 12-10-22 1z"/><path class="k53" d="M943 531l22-1 12-11-22 0zM975 540l22-2 11-11-22 2z"/><path class="k31" d="M723 665l21-2 11-13-22 1z"/><path class="k60" d="M1057 486l22 0 13-10-22 1zM1067 495l22-1 12-9-22 1zM1076 504l22-1 13-10-22 1z"/><path class="k24" d="M670 710l21-2 11-14-22 1z"/><path class="k62" d="M1092 476l22 0 13-9-22 1zM1101 485l22-1 13-9-22 1zM1111 493l22-1 12-9-22 1z"/><path class="k66" d="M1198 451l22 0 14-7-22 0zM1184 458l22 0 14-7-22 0z"/><path class="k49" d="M898 555l21-1 12-12-22 1zM908 566l22-2 11-11-22 1z"/><path class="k36" d="M766 636l21-2 11-13-22 2z"/><path class="k55" d="M977 519l21-1 13-11-22 1zM986 529l22-2 12-10-22 1z"/><path class="k40" d="M809 608l22-2 11-13-22 2zM820 619l22-1 11-13-22 1zM831 631l22-2 10-13-21 2z"/><path class="k45" d="M853 581l22-2 11-12-22 1z"/><path class="k29" d="M712 679l22-2 10-14-21 2zM723 691l22-2 11-14-22 2z"/><path class="k57" d="M1011 507l21-1 13-10-22 1zM1020 517l22-2 12-10-22 1z"/><path class="k51" d="M931 542l22-1 12-11-22 1zM941 553l22-2 12-11-22 1z"/><path class="k34" d="M755 650l22-2 10-14-21 2zM766 661l22-2 10-13-21 2z"/><path class="k47" d="M886 567l22-1 11-12-21 1zM897 578l21-2 12-12-22 2z"/><path class="k59" d="M1045 496l22-1 12-9-22 0zM1054 505l22-1 13-10-22 1z"/><path class="k39" d="M798 621l22-2 11-13-22 2z"/><path class="k27" d="M702 694l21-3 11-14-22 2zM713 706l22-3 10-14-22 2z"/><path class="k43" d="M842 593l22-1 11-13-22 2zM853 605l21-2 11-13-21 2z"/><path class="k61" d="M1079 486l22-1 13-9-22 0zM1089 494l22-1 12-9-22 1z"/><path class="k32" d="M744 663l22-2 11-13-22 2zM756 675l21-2 11-14-22 2z"/><path class="k25" d="M691 708l22-2 10-15-21 3z"/><path class="k37" d="M787 634l22-1 11-14-22 2zM798 646l22-2 11-13-22 2z"/><path class="k30" d="M734 677l22-2 10-14-22 2zM745 689l22-2 10-14-21 2z"/><path class="k52" d="M953 541l22-1 11-11-21 1zM963 551l22-1 12-12-22 2z"/><path class="k35" d="M777 648l21-2 11-13-22 1zM788 659l21-2 11-13-22 2z"/><path class="k44" d="M864 592l21-2 12-12-22 1zM874 603l22-2 11-12-22 1z"/><path class="k41" d="M842 618l21-2 11-13-21 2z"/><path class="k48" d="M918 576l22-1 12-12-22 1z"/><path class="k28" d="M735 703l21-2 11-14-22 2z"/><path class="k51" d="M952 563l21-2 12-11-22 1zM995 580l22-2 11-11-22 2zM1006 590l22-3 11-11-22 2z"/><path class="k57" d="M1030 526l22-1 12-11-22 1zM1040 535l22-1 12-11-22 2z"/><path class="k38" d="M820 644l22-2 11-13-22 2zM864 663l22-3 11-13-22 3zM876 674l22-3 10-14-22 3z"/><path class="k47" d="M907 589l22-2 11-12-22 1zM951 607l22-3 11-12-22 3zM962 617l22-3 11-12-22 2z"/><path class="k42" d="M863 616l22-2 11-13-22 2zM874 626l22-2 11-13-22 3zM885 637l22-3 11-12-22 2z"/><path class="k59" d="M1064 514l22-1 12-10-22 1zM1074 523l22-2 12-10-22 2zM1085 532l22-2 11-10-22 1z"/><path class="k53" d="M985 550l22-2 11-11-21 1zM995 559l22-2 12-11-22 2zM1006 569l22-2 11-12-22 2zM1017 578l22-2 11-12-22 3z"/><path class="k31" d="M767 687l22-3 10-13-22 2zM778 698l22-2 10-14-21 2z"/><path class="k61" d="M1098 503l22-1 13-10-22 1zM1108 511l22-1 12-10-22 2z"/><path class="k36" d="M809 657l22-2 11-13-22 2zM821 668l21-2 11-14-22 3z"/><path class="k49" d="M940 575l22-2 11-12-21 2zM951 585l22-2 11-12-22 2zM962 595l22-3 11-12-22 3zM973 604l22-2 11-12-22 2z"/><path class="k63" d="M1133 492l22-1 12-9-22 1z"/><path class="k41" d="M853 629l21-3 11-12-22 2zM897 647l22-2 10-13-22 2zM908 657l22-3 11-12-22 3z"/><path class="k45" d="M896 601l22-2 11-12-22 2zM907 611l22-2 11-12-22 2zM918 622l22-3 11-12-22 2z"/><path class="k55" d="M1018 537l22-2 12-10-22 1zM1029 546l22-2 11-10-22 1zM1039 555l22-2 12-11-22 2zM1050 564l22-2 12-11-23 2z"/><path class="k29" d="M756 701l22-3 11-14-22 3z"/><path class="k52" d="M973 561l22-2 12-11-22 2zM984 571l22-2 11-12-22 2zM1028 587l22-2 11-12-22 3z"/><path class="k58" d="M1052 525l22-2 12-10-22 1zM1062 534l23-2 11-11-22 2zM1073 542l22-2 12-10-22 2z"/><path class="k34" d="M799 671l22-3 10-13-22 2zM810 682l22-3 10-13-21 2zM822 693l21-3 11-14-22 3z"/><path class="k48" d="M929 587l22-2 11-12-22 2zM940 597l22-2 11-12-22 2z"/><path class="k39" d="M842 642l22-3 10-13-21 3zM853 652l22-2 10-13-21 2z"/><path class="k44" d="M885 614l22-3 11-12-22 2zM929 632l22-3 11-12-22 2z"/><path class="k60" d="M1086 513l22-2 12-9-22 1zM1096 521l22-1 12-10-22 1z"/><path class="k54" d="M1007 548l22-2 11-11-22 2zM1017 557l22-2 12-11-22 2zM1028 567l22-3 11-11-22 2zM1039 576l22-3 11-11-22 2z"/><path class="k62" d="M1120 502l22-2 13-9-22 1z"/><path class="k33" d="M789 684l21-2 11-14-22 3z"/><path class="k50" d="M962 573l22-2 11-12-22 2zM973 583l22-3 11-11-22 2zM984 592l22-2 11-12-22 2zM995 602l22-3 11-12-22 3z"/><path class="k37" d="M831 655l22-3 11-13-22 3zM842 666l22-3 11-13-22 2zM854 676l22-2 10-14-22 3zM865 687l22-3 11-13-22 3z"/><path class="k46" d="M918 599l22-2 11-12-22 2zM929 609l22-2 11-12-22 2zM940 619l22-2 11-13-22 3zM951 629l22-3 11-12-22 3z"/><path class="k40" d="M864 639l21-2 11-13-22 2zM875 650l22-3 10-13-22 3zM886 660l22-3 11-12-22 2zM898 671l22-4 10-13-22 3z"/><path class="k43" d="M896 624l22-2 11-13-22 2zM907 634l22-2 11-13-22 3zM919 645l22-3 10-13-22 3z"/><path class="k32" d="M800 696l22-3 10-14-22 3z"/><path class="k56" d="M1051 544l22-2 12-10-23 2zM1061 553l23-2 11-11-22 2z"/><path class="k35" d="M832 679l22-3 10-13-22 3zM843 690l22-3 11-13-22 2z"/><path class="k48" d="M984 614l22-3 11-12-22 3zM995 623l23-3 10-12-22 3z"/><path class="k44" d="M941 642l22-3 10-13-22 3zM952 651l22-3 11-12-22 3zM964 661l22-3 11-13-23 3z"/><path class="k51" d="M1017 599l22-3 11-11-22 2z"/><path class="k38" d="M887 684l22-3 11-14-22 4z"/><path class="k47" d="M973 626l22-3 11-12-22 3zM985 636l22-3 11-13-23 3z"/><path class="k43" d="M930 654l22-3 11-12-22 3z"/><path class="k50" d="M1006 611l22-3 11-12-22 3z"/><path class="k41" d="M920 667l22-3 10-13-22 3zM931 677l22-3 11-13-22 3z"/><path class="k45" d="M963 639l22-3 10-13-22 3zM974 648l23-3 10-12-22 3z"/><path class="k39" d="M909 681l22-4 11-13-22 3z"/><path class="k42" d="M942 664l22-3 10-13-22 3zM953 674l23-4 10-12-22 3z"/></g>
<line x1="44.4" y1="30" x2="171.7" y2="8.8" stroke="#222" stroke-width="1.1"/>
<line x1="171.7" y1="8.8" x2="315.8" y2="26.2" stroke="#222" stroke-width="1.1"/>
<line x1="307.5" y1="203.9" x2="315.8" y2="26.2" stroke="#222" stroke-width="1.2"/>
<line x1="52" y1="211.8" x2="194.2" y2="263.4" stroke="#000" stroke-width="1.5"/>
<line x1="194.2" y1="263.4" x2="307.5" y2="203.9" stroke="#000" stroke-width="1.5"/>
<line x1="52" y1="211.8" x2="44.4" y2="30" stroke="#000" stroke-width="1.6"/>
<g><line x1="48" y1="211.8" x2="52" y2="211.8" stroke="#000" stroke-width="1.2"/><line x1="46.8" y1="183" x2="50.8" y2="183" stroke="#000" stroke-width="1.2"/><line x1="45.5" y1="153.6" x2="49.5" y2="153.6" stroke="#000" stroke-width="1.2"/><line x1="44.3" y1="123.7" x2="48.3" y2="123.7" stroke="#000" stroke-width="1.2"/><line x1="43" y1="93.1" x2="47" y2="93.1" stroke="#000" stroke-width="1.2"/><line x1="41.7" y1="61.9" x2="45.7" y2="61.9" stroke="#000" stroke-width="1.2"/><line x1="40.4" y1="30" x2="44.4" y2="30" stroke="#000" stroke-width="1.2"/><line x1="64.4" y1="216.3" x2="59.5" y2="218.2" stroke="#000" stroke-width="1.2"/><line x1="77.2" y1="221" x2="72.3" y2="222.9" stroke="#000" stroke-width="1.2"/><line x1="90.4" y1="225.7" x2="85.5" y2="227.7" stroke="#000" stroke-width="1.2"/><line x1="103.9" y1="230.6" x2="99" y2="232.7" stroke="#000" stroke-width="1.2"/><line x1="117.9" y1="235.7" x2="113" y2="237.8" stroke="#000" stroke-width="1.2"/><line x1="132.2" y1="240.9" x2="127.4" y2="243.1" stroke="#000" stroke-width="1.2"/><line x1="147" y1="246.3" x2="142.2" y2="248.5" stroke="#000" stroke-width="1.2"/><line x1="162.2" y1="251.8" x2="157.4" y2="254.1" stroke="#000" stroke-width="1.2"/><line x1="178" y1="257.5" x2="173.2" y2="259.9" stroke="#000" stroke-width="1.2"/><line x1="194.2" y1="263.4" x2="189.4" y2="265.8" stroke="#000" stroke-width="1.2"/><line x1="194.2" y1="263.4" x2="200" y2="265.5" stroke="#000" stroke-width="1.2"/><line x1="207.4" y1="256.4" x2="213.1" y2="258.5" stroke="#000" stroke-width="1.2"/><line x1="220.1" y1="249.8" x2="225.8" y2="251.7" stroke="#000" stroke-width="1.2"/><line x1="232.4" y1="243.3" x2="238.1" y2="245.2" stroke="#000" stroke-width="1.2"/><line x1="244.2" y1="237.1" x2="249.9" y2="238.9" stroke="#000" stroke-width="1.2"/><line x1="255.7" y1="231.1" x2="261.3" y2="232.8" stroke="#000" stroke-width="1.2"/><line x1="266.7" y1="225.3" x2="272.3" y2="227" stroke="#000" stroke-width="1.2"/><line x1="277.4" y1="219.7" x2="283" y2="221.3" stroke="#000" stroke-width="1.2"/><line x1="287.8" y1="214.2" x2="293.3" y2="215.8" stroke="#000" stroke-width="1.2"/><line x1="297.8" y1="209" x2="303.3" y2="210.5" stroke="#000" stroke-width="1.2"/><line x1="307.5" y1="203.9" x2="312.9" y2="205.4" stroke="#000" stroke-width="1.2"/></g>
<g><text transform="translate(47.5 216.8) skewY(-20) scale(0.75 1)" text-anchor="end" class="tl" style="font-size:12px">100</text><text transform="translate(46.3 188) skewY(-18.2) scale(0.75 1)" text-anchor="end" class="tl" style="font-size:12px">110</text><text transform="translate(45 158.6) skewY(-16.3) scale(0.75 1)" text-anchor="end" class="tl" style="font-size:12px">120</text><text transform="translate(43.8 128.7) skewY(-14.5) scale(0.75 1)" text-anchor="end" class="tl" style="font-size:12px">130</text><text transform="translate(42.5 98.1) skewY(-12.7) scale(0.75 1)" text-anchor="end" class="tl" style="font-size:12px">140</text><text transform="translate(41.2 66.9) skewY(-10.8) scale(0.75 1)" text-anchor="end" class="tl" style="font-size:12px">150</text><text transform="translate(39.9 35) skewY(-9) scale(0.75 1)" text-anchor="end" class="tl" style="font-size:12px">160</text><text transform="translate(55.4 220.8) rotate(-22) skewX(-25) scale(1.0 0.72)" text-anchor="middle" dominant-baseline="central" class="tl" style="font-size:9px;font-weight:bold">26</text><text transform="translate(68.2 225.5) rotate(-22) skewX(-25) scale(1.0 0.72)" text-anchor="middle" dominant-baseline="central" class="tl" style="font-size:9px;font-weight:bold">27</text><text transform="translate(81.4 230.2) rotate(-22) skewX(-25) scale(1.0 0.72)" text-anchor="middle" dominant-baseline="central" class="tl" style="font-size:9px;font-weight:bold">28</text><text transform="translate(94.9 235.1) rotate(-22) skewX(-25) scale(1.0 0.72)" text-anchor="middle" dominant-baseline="central" class="tl" style="font-size:9px;font-weight:bold">29</text><text transform="translate(108.9 240.2) rotate(-22) skewX(-25) scale(1.0 0.72)" text-anchor="middle" dominant-baseline="central" class="tl" style="font-size:9px;font-weight:bold">30</text><text transform="translate(123.2 245.4) rotate(-22) skewX(-25) scale(1.0 0.72)" text-anchor="middle" dominant-baseline="central" class="tl" style="font-size:9px;font-weight:bold">31</text><text transform="translate(138 250.8) rotate(-22) skewX(-25) scale(1.0 0.72)" text-anchor="middle" dominant-baseline="central" class="tl" style="font-size:9px;font-weight:bold">32</text><text transform="translate(153.2 256.3) rotate(-22) skewX(-25) scale(1.0 0.72)" text-anchor="middle" dominant-baseline="central" class="tl" style="font-size:9px;font-weight:bold">33</text><text transform="translate(169 262) rotate(-22) skewX(-25) scale(1.0 0.72)" text-anchor="middle" dominant-baseline="central" class="tl" style="font-size:9px;font-weight:bold">34</text><text transform="translate(185.2 267.9) rotate(-22) skewX(-25) scale(1.0 0.72)" text-anchor="middle" dominant-baseline="central" class="tl" style="font-size:9px;font-weight:bold">35</text><text transform="translate(199.2 266.9) rotate(20) skewX(-43) scale(1.0 0.8)" text-anchor="start" dominant-baseline="central" class="tv" style="font-size:9px;font-weight:bold">0.10</text><text transform="translate(212.4 259.9) rotate(20) skewX(-43) scale(1.0 0.8)" text-anchor="start" dominant-baseline="central" class="tv" style="font-size:9px;font-weight:bold">0.12</text><text transform="translate(225.1 253.3) rotate(20) skewX(-43) scale(1.0 0.8)" text-anchor="start" dominant-baseline="central" class="tv" style="font-size:9px;font-weight:bold">0.14</text><text transform="translate(237.4 246.8) rotate(20) skewX(-43) scale(1.0 0.8)" text-anchor="start" dominant-baseline="central" class="tv" style="font-size:9px;font-weight:bold">0.16</text><text transform="translate(249.2 240.6) rotate(20) skewX(-43) scale(1.0 0.8)" text-anchor="start" dominant-baseline="central" class="tv" style="font-size:9px;font-weight:bold">0.18</text><text transform="translate(260.7 234.6) rotate(20) skewX(-43) scale(1.0 0.8)" text-anchor="start" dominant-baseline="central" class="tv" style="font-size:9px;font-weight:bold">0.20</text><text transform="translate(271.7 228.8) rotate(20) skewX(-43) scale(1.0 0.8)" text-anchor="start" dominant-baseline="central" class="tv" style="font-size:9px;font-weight:bold">0.22</text><text transform="translate(282.4 223.2) rotate(20) skewX(-43) scale(1.0 0.8)" text-anchor="start" dominant-baseline="central" class="tv" style="font-size:9px;font-weight:bold">0.24</text><text transform="translate(292.8 217.7) rotate(20) skewX(-43) scale(1.0 0.8)" text-anchor="start" dominant-baseline="central" class="tv" style="font-size:9px;font-weight:bold">0.26</text><text transform="translate(302.8 212.5) rotate(20) skewX(-43) scale(1.0 0.8)" text-anchor="start" dominant-baseline="central" class="tv" style="font-size:9px;font-weight:bold">0.28</text><text transform="translate(312.5 207.4) rotate(20) skewX(-43) scale(1.0 0.8)" text-anchor="start" dominant-baseline="central" class="tv" style="font-size:9px;font-weight:bold">0.30</text><text transform="translate(20.6 128.5) rotate(90)" text-anchor="middle" dominant-baseline="central" class="tt" style="font-size:12.9px;font-weight:bold">Maximum stress value(Mpa)</text><text transform="translate(99 246) rotate(23.5) skewX(-12) scale(1 0.8)" text-anchor="middle" dominant-baseline="central" class="tt" style="font-size:10.9px;font-weight:bold">Working angle(°)</text><text transform="translate(286 243) rotate(-27.5) skewX(-27) scale(1 0.85)" text-anchor="middle" dominant-baseline="central" class="tv" style="font-size:9.2px;font-weight:bold">Friction factor</text><text x="1" y="25.5" class="pl" style="font-size:18px">(a)</text></g>
<g><line x1="405.6" y1="203.8" x2="525.8" y2="159" stroke="#d9d9d9" stroke-width="0.8"/><line x1="525.8" y1="159" x2="661.5" y2="197.1" stroke="#d9d9d9" stroke-width="0.8"/><line x1="404.5" y1="175" x2="525.8" y2="133.8" stroke="#d9d9d9" stroke-width="0.8"/><line x1="525.8" y1="133.8" x2="662.8" y2="168.8" stroke="#d9d9d9" stroke-width="0.8"/><line x1="403.3" y1="145.7" x2="525.8" y2="108.2" stroke="#d9d9d9" stroke-width="0.8"/><line x1="525.8" y1="108.2" x2="664.2" y2="139.9" stroke="#d9d9d9" stroke-width="0.8"/><line x1="402.2" y1="115.8" x2="525.9" y2="82.2" stroke="#d9d9d9" stroke-width="0.8"/><line x1="525.9" y1="82.2" x2="665.5" y2="110.6" stroke="#d9d9d9" stroke-width="0.8"/><line x1="401" y1="85.3" x2="525.9" y2="55.7" stroke="#d9d9d9" stroke-width="0.8"/><line x1="525.9" y1="55.7" x2="667" y2="80.6" stroke="#d9d9d9" stroke-width="0.8"/><line x1="399.7" y1="54.1" x2="525.9" y2="28.7" stroke="#d9d9d9" stroke-width="0.8"/><line x1="525.9" y1="28.7" x2="668.4" y2="50" stroke="#d9d9d9" stroke-width="0.8"/><line x1="398.5" y1="22.3" x2="526" y2="1.3" stroke="#d9d9d9" stroke-width="0.8"/><line x1="526" y1="1.3" x2="669.9" y2="18.8" stroke="#d9d9d9" stroke-width="0.8"/><line x1="419.3" y1="198.7" x2="413.1" y2="19.9" stroke="#d9d9d9" stroke-width="0.8"/><line x1="445.5" y1="188.9" x2="441" y2="15.3" stroke="#d9d9d9" stroke-width="0.8"/><line x1="470.1" y1="179.7" x2="467.2" y2="11" stroke="#d9d9d9" stroke-width="0.8"/><line x1="493.3" y1="171.1" x2="491.8" y2="7" stroke="#d9d9d9" stroke-width="0.8"/><line x1="515.3" y1="162.9" x2="514.9" y2="3.1" stroke="#d9d9d9" stroke-width="0.8"/><line x1="537.8" y1="162.4" x2="538.7" y2="2.9" stroke="#d9d9d9" stroke-width="0.8"/><line x1="550.2" y1="165.8" x2="551.7" y2="4.5" stroke="#d9d9d9" stroke-width="0.8"/><line x1="562.9" y1="169.4" x2="565.1" y2="6.1" stroke="#d9d9d9" stroke-width="0.8"/><line x1="575.9" y1="173.1" x2="578.9" y2="7.8" stroke="#d9d9d9" stroke-width="0.8"/><line x1="589.3" y1="176.8" x2="593" y2="9.5" stroke="#d9d9d9" stroke-width="0.8"/><line x1="603" y1="180.6" x2="607.6" y2="11.3" stroke="#d9d9d9" stroke-width="0.8"/><line x1="617" y1="184.6" x2="622.5" y2="13.1" stroke="#d9d9d9" stroke-width="0.8"/><line x1="631.5" y1="188.6" x2="637.8" y2="14.9" stroke="#d9d9d9" stroke-width="0.8"/><line x1="646.3" y1="192.8" x2="653.6" y2="16.9" stroke="#d9d9d9" stroke-width="0.8"/></g>
<path d="M405.6 203.8L546.9 256.2L661.5 197.1L525.8 159Z" fill="#cecece"/>
<g transform="scale(.2)" fill="none" stroke-width="5.5"><path d="M3295 982l-69 29-63 29-63 31-60 32-60 33-58 34-57 35-60 40" stroke="#7328fa"/><path d="M3270 975l-78 33-73 32-69 34-69 36-65 37-66 40-66 42-66 46" stroke="#288cfa"/><path d="M3243 967l-79 33-76 33-70 33-70 35-66 37-66 40-63 40-66 46" stroke="#1ee178"/><path d="M3215 959l-81 32-78 32-71 33-70 35-67 36-66 39-65 42-63 43" stroke="#8ce61e"/><path d="M3184 951l-86 31-77 31-72 31-72 35-67 35-63 37-65 42-65 45" stroke="#f5e61e"/><path d="M3149 941l-92 31-82 31-74 31-69 32-68 35-63 37-62 39-63 45" stroke="#fa8c28"/><path d="M2058 1008l57-15 56-17 52-17 49-17 46-18 42-18 38-19 38-20" stroke="#eb2828"/><path d="M3110 930l-96 30-89 30-77 30-72 31-65 33-63 36-63 41-58 43" stroke="#eb2828"/><path d="M2095 1044l101-25 88-25 71-25 34-13 28-13 28-14 27-15 24-14 26-18 23-18 23-20 22-20 21-23" stroke="#e11e1e"/><path d="M3063 917l-125 33-92 26-82 28-69 27-29 14-31 16-27 15-29 17-27 19-29 21-59 48" stroke="#e11e1e"/><path d="M3002 900l-120 19-90 12-34 2-25 1-21-1-20-3-12-5-10-8-5-9-2-13 1-14 5-17 8-23 13-29" stroke="#b41919"/><path d="M2209 1086l47-4 40-1 27 2 20 5 7 2 7 5 3 4 4 7 1 8-1 8-2 9-3 11" stroke="#b41919"/></g>
<line x1="405.6" y1="203.8" x2="525.8" y2="159" stroke="#333" stroke-width="0.9"/>
<line x1="525.8" y1="159" x2="661.5" y2="197.1" stroke="#333" stroke-width="0.9"/>
<line x1="525.8" y1="159" x2="526" y2="1.3" stroke="#333" stroke-width="1.2"/>
<g transform="scale(.2)" stroke-width="2" stroke-linejoin="round"><path class="k59" d="M2617 226l15-3 12-6-14 3zM2604 234l16-3 14-5-16 3zM2590 243l16-2 15-6-16 2zM2574 253l16-2 17-7-17 3zM2556 259l17-2 17-6-16 2zM2554 264l17-2 19-7-17 2z"/><path class="k61" d="M2632 223l15-3 13-5-16 2zM2634 226l16-3 13-6-16 3zM2620 231l16-2 14-6-16 3zM2621 235l17-3 14-6-16 3zM2606 241l17-3 15-6-17 3zM2607 244l17-2 16-6-17 2zM2590 251l18-2 16-7-17 2zM2590 255l18-2 18-6-18 2z"/><path class="k58" d="M2603 232l15-3 14-6-15 3zM2589 237l15-3 14-5-15 3zM2590 240l15-3 15-6-16 3zM2575 246l15-3 15-6-15 3zM2574 249l16-2 16-6-16 2zM2558 256l16-3 16-6-16 2zM2538 266l16-2 19-7-17 2z"/><path class="k62" d="M2647 220l16-3 13-5-16 3zM2636 229l16-3 14-5-16 2zM2623 238l17-2 15-6-17 2zM2608 249l18-2 16-6-18 1z"/><path class="k60" d="M2618 229l16-3 13-6-15 3zM2605 237l16-2 15-6-16 2zM2590 247l17-3 16-6-17 3zM2573 257l17-2 18-6-18 2z"/><path class="k64" d="M2663 217l16-2 13-6-16 3zM2666 221l17-2 14-6-18 2zM2652 226l17-2 14-5-17 2zM2655 230l18-1 14-6-18 1zM2642 241l19-1 16-7-19 2zM2645 246l20-1 16-6-20 1z"/><path class="k57" d="M2575 243l15-3 14-6-15 3zM2559 252l15-3 16-6-15 3zM2540 262l16-3 18-6-16 3zM2518 273l16-2 20-7-16 2z"/><path class="k63" d="M2650 223l16-2 13-6-16 2zM2638 232l17-2 14-6-17 2zM2640 236l18-1 15-6-18 1zM2624 242l18-1 16-6-18 1zM2626 247l19-1 16-6-19 1z"/><path class="k65" d="M2679 215l18-2 12-6-17 2zM2669 224l18-1 14-6-18 2zM2673 229l19-2 14-6-19 2zM2658 235l19-2 15-6-19 2zM2661 240l20-1 16-6-20 0z"/><path class="k56" d="M2560 249l15-3 15-6-15 3zM2542 258l16-2 16-7-15 3zM2525 265l15-3 18-6-16 2zM2522 269l16-3 18-7-16 3zM2502 275l16-2 20-7-16 3z"/><path class="k66" d="M2697 213l18-2 12-5-18 1zM2683 219l18-2 14-6-18 2zM2687 223l19-2 14-5-19 1zM2677 233l20 0 15-6-20 0zM2681 239l22 0 16-6-22 0z"/><path class="k55" d="M2544 255l15-3 16-6-15 3zM2527 261l15-3 17-6-15 3zM2506 271l16-2 18-7-15 3zM2481 282l16-2 21-7-16 2z"/><path class="k68" d="M2715 211l19-1 12-6-19 2zM2720 216l20-1 14-6-20 1zM2727 221l21 0 14-6-22 0zM2712 227l22 0 14-6-21 0zM2734 227l24 1 14-6-24-1z"/><path class="k67" d="M2701 217l19-1 14-6-19 1zM2706 221l21 0 13-6-20 1zM2692 227l20 0 15-6-21 0zM2697 233l22 0 15-6-22 0z"/><path class="k69" d="M2734 210l20-1 13-5-21 0zM2740 215l22 0 13-6-21 0zM2748 221l24 1 14-6-24-1z"/><path class="k54" d="M2510 268l15-3 17-7-15 3zM2486 278l16-3 20-6-16 2zM2465 285l16-3 21-7-16 3z"/><path class="k70" d="M2754 209l21 0 13-5-21 0zM2762 215l24 1 13-6-24-1zM2772 222l26 2 14-6-26-2z"/><path class="k53" d="M2491 274l15-3 19-6-15 3zM2471 281l15-3 20-7-15 3z"/><path class="k71" d="M2775 209l24 1 13-5-24-1zM2799 210l26 3 13-6-26-2zM2786 216l26 2 13-5-26-3zM2812 218l30 5 13-6-30-4z"/><path class="k52" d="M2450 288l15-3 21-7-15 3z"/><path class="k72" d="M2825 213l30 4 13-6-30-4z"/><path class="k51" d="M2427 296l15-3 23-8-15 3z"/><path class="k68" d="M2719 233l24 1 15-6-24-1zM2743 234l26 2 15-6-26-2zM2727 240l26 2 16-6-26-2zM2753 242l31 5 15-7-30-4zM2926 244l21 8 13-5-21-8zM2888 242l24 8 14-6-24-7zM2784 247l32 6 15-6-32-7zM2831 247l28 7 15-6-28-7zM2874 248l24 8 14-6-24-8z"/><path class="k63" d="M2608 253l19-1 18-6-19 1zM2609 259l20-1 18-6-20 0zM2609 265l22 0 20-7-22 0zM2588 272l22 0 21-7-22 0zM3015 272l16 9 13-6-16-9z"/><path class="k71" d="M2855 217l33 7 12-6-32-7zM2842 223l32 6 14-5-33-7zM2888 224l27 7 12-6-27-7z"/><path class="k61" d="M2571 262l19-2 18-7-18 2zM2570 267l19-1 20-7-19 1zM2549 274l19-1 21-7-19 1zM2545 280l20 0 23-8-20 1z"/><path class="k69" d="M2758 228l26 2 14-6-26-2zM2784 230l30 4 15-6-31-4zM2769 236l30 4 15-6-30-4zM2814 234l32 7 15-6-32-7zM2861 235l27 7 14-5-28-8zM2939 239l21 8 13-6-22-8zM2902 237l24 7 13-5-24-8zM2799 240l32 7 15-6-32-7zM2846 241l28 7 14-6-27-7z"/><path class="k53" d="M2442 293l16-3 23-8-16 3zM2405 306l16-3 28-8-16 3zM2373 315l16-3 32-9-16 3z"/><path class="k59" d="M2534 271l18-2 19-7-17 2zM2531 276l18-2 21-7-18 2zM2508 283l18-1 23-8-18 2zM2501 289l19-1 25-8-19 2z"/><path class="k70" d="M2798 224l31 4 13-5-30-5zM2829 228l32 7 13-6-32-6zM2874 229l28 8 13-6-27-7zM2915 231l24 8 12-6-24-8z"/><path class="k57" d="M2497 280l16-2 21-7-16 2zM2490 285l18-2 23-7-18 2zM2465 293l18-2 25-8-18 2z"/><path class="k51" d="M2402 303l15-3 25-7-15 3zM2358 318l15-3 32-9-16 3z"/><path class="k65" d="M2665 245l22 0 16-6-22 0zM2647 252l22 0 18-7-22 0zM2651 258l23 1 19-6-24-1zM2967 261l18 8 13-6-18-8z"/><path class="k64" d="M2627 252l20 0 18-7-20 1zM2629 258l22 0 18-6-22 0zM2998 263l17 9 13-6-17-8zM2631 265l24 1 19-7-23-1zM2985 269l17 9 13-6-17-9z"/><path class="k67" d="M2703 239l24 1 16-6-24-1zM2710 246l27 3 16-7-26-2zM2960 247l20 8 13-6-20-8zM2737 249l30 4 17-6-31-5zM2947 252l20 9 13-6-20-8zM2912 250l22 8 13-6-21-8zM2719 255l31 5 17-7-30-4zM2767 253l32 7 17-7-32-6zM2898 256l21 8 15-6-22-8zM2816 253l27 8 16-7-28-7zM2859 254l24 8 15-6-24-8z"/><path class="k55" d="M2458 290l16-3 23-7-16 2zM2449 295l16-2 25-8-16 2zM2421 303l16-2 28-8-16 2z"/><path class="k62" d="M2590 260l19-1 18-7-19 1zM2589 266l20-1 20-7-20 1zM2568 273l20-1 21-7-20 1z"/><path class="k60" d="M2552 269l18-2 20-7-19 2zM2526 282l19-2 23-7-19 1z"/><path class="k52" d="M2417 300l16-2 25-8-16 3zM2389 309l16-3 28-8-16 2z"/><path class="k58" d="M2513 278l18-2 21-7-18 2zM2483 291l18-2 25-7-18 1z"/><path class="k56" d="M2474 287l16-2 23-7-16 2zM2437 301l18-2 28-8-18 2z"/><path class="k66" d="M2687 245l23 1 17-6-24-1zM2669 252l24 1 17-7-23-1zM2693 253l26 2 18-6-27-3zM2980 255l18 8 13-5-18-9zM2674 259l27 3 18-7-26-2zM2934 258l19 9 14-6-20-9z"/><path class="k50" d="M2374 312l15-3 28-9-15 3zM2343 320l15-2 31-9-15 3z"/><path class="k54" d="M2433 298l16-3 25-8-16 3z"/><path class="k49" d="M2310 329l15-3 33-8-15 2z"/><path class="k61" d="M3031 281l16 9 12-6-15-9zM2520 288l20 0 25-8-20 0zM2989 284l16 9 13-6-16-9zM2975 290l16 9 14-6-16-9zM2512 296l22 0 28-8-22 0zM2927 294l18 8 15-6-17-9z"/><path class="k51" d="M2325 326l16-2 32-9-15 3zM2296 334l16-3 29-7-16 2zM3088 333l12 10 13-6-12-10zM2269 340l15-3 28-6-16 3z"/><path class="k65" d="M2953 267l19 8 13-6-18-8zM2655 266l26 3 20-7-27-3zM2919 264l20 9 14-6-19-9zM2905 270l19 9 15-6-20-9zM2634 274l26 2 21-7-26-3zM2867 268l22 9 16-7-22-8zM2851 275l22 8 16-6-22-9zM2660 276l31 4 21-7-31-4zM2810 274l24 7 17-6-24-8zM2712 273l32 7 20-7-33-7z"/><path class="k54" d="M2389 312l17-2 31-9-16 2zM3088 318l13 9 12-6-12-9zM2357 321l17-2 32-9-17 2zM3049 320l13 10 13-6-13-10zM2328 328l16-2 30-7-17 2z"/><path class="k64" d="M2610 272l24 2 21-8-24-1zM2939 273l19 8 14-6-19-8zM2889 277l20 8 15-6-19-9zM2611 281l26 2 23-7-26-2zM2873 283l20 8 16-6-20-8zM2834 281l22 9 17-7-22-8z"/><path class="k66" d="M2701 262l30 4 19-6-31-5zM2883 262l22 8 14-6-21-8zM2681 269l31 4 19-7-30-4zM2731 266l33 7 18-7-32-6zM2827 267l24 8 16-7-24-7zM2782 266l28 8 17-7-28-7zM2764 273l27 7 19-6-28-8z"/><path class="k62" d="M3002 278l16 9 13-6-16-9zM2565 280l22 0 23-8-22 0zM2958 281l17 9 14-6-17-9zM2540 288l22 0 25-8-22 0zM2943 287l17 9 15-6-17-9z"/><path class="k58" d="M2455 299l18-1 28-9-18 2zM3020 302l15 9 13-6-14-9z"/><path class="k59" d="M3047 290l14 9 13-6-15-9zM2473 298l19-1 28-9-19 1zM3034 296l14 9 13-6-14-9zM2991 299l15 9 14-6-15-9zM2441 307l19-2 32-8-19 1zM2976 305l16 9 14-6-15-9z"/><path class="k67" d="M2750 260l32 6 17-6-32-7zM2843 261l24 7 16-6-24-8zM2799 260l28 7 16-6-27-8z"/><path class="k63" d="M2972 275l17 9 13-6-17-9zM2587 280l24 1 23-7-24-2zM2924 279l19 8 15-6-19-8zM2562 288l24 1 25-8-24-1zM2909 285l18 9 16-7-19-8z"/><path class="k49" d="M2281 336l15-2 29-8-15 3zM2254 343l15-3 27-6-15 2zM3100 343l12 9 13-6-12-9zM2228 349l15-3 26-6-15 3z"/><path class="k60" d="M3018 287l16 9 13-6-16-9zM3005 293l15 9 14-6-16-9zM2492 297l20-1 28-8-20 0zM2960 296l16 9 15-6-16-9z"/><path class="k57" d="M3061 299l14 9 12-5-13-10zM3048 305l14 9 13-6-14-9zM2423 308l18-1 32-9-18 1zM3006 308l15 9 14-6-15-9zM2391 317l18-2 32-8-18 1z"/><path class="k53" d="M2341 324l16-3 32-9-16 3zM3075 324l13 9 13-6-13-9zM3062 330l13 9 13-6-13-9z"/><path class="k56" d="M2406 310l17-2 32-9-18 2zM3075 308l13 10 13-6-14-9zM3035 311l14 9 13-6-14-9zM3021 317l14 9 14-6-14-9z"/><path class="k52" d="M3101 327l12 10 13-6-13-10zM2312 331l16-3 29-7-16 3z"/><path class="k55" d="M3062 314l13 10 13-6-13-10zM2374 319l17-2 32-9-17 2z"/><path class="k50" d="M3113 337l12 9 13-6-12-9z"/><path class="k48" d="M3125 346l12 10 12-6-11-10z"/><path class="k46" d="M3137 356l11 10 12-6-11-10z"/><path class="k44" d="M3148 366l11 9 12-6-11-9z"/><path class="k42" d="M3159 375l10 10 12-6-10-10z"/><path class="k47" d="M3112 352l12 10 13-6-12-10z"/><path class="k40" d="M3169 385l10 10 13-6-11-10z"/><path class="k51" d="M3075 339l12 10 13-6-12-10zM2243 346l16-3 25-6-15 3zM3033 342l13 9 15-6-13-9zM2219 351l16-2 24-6-16 3z"/><path class="k45" d="M3124 362l11 10 13-6-11-10zM3111 368l11 10 13-6-11-10z"/><path class="k65" d="M2791 280l25 8 18-7-24-7zM2691 280l32 7 21-7-32-7zM2744 280l28 7 19-7-27-7z"/><path class="k60" d="M2460 305l21 0 31-9-20 1zM2945 302l16 9 15-6-16-9zM2894 307l17 8 17-6-17-9z"/><path class="k52" d="M2284 337l16-2 28-7-16 3zM3048 336l13 9 14-6-13-9zM2259 343l16-2 25-6-16 2z"/><path class="k64" d="M2637 283l31 5 23-8-31-4zM2816 288l21 8 19-6-22-9zM2772 287l24 8 20-7-25-8zM2723 287l28 7 21-7-28-7zM2668 288l33 7 22-8-32-7zM2612 291l31 5 25-8-31-5z"/><path class="k62" d="M2893 291l18 9 16-6-18-9zM2534 296l24 1 28-8-24-1zM2875 298l19 9 17-7-18-9zM2837 296l20 9 18-7-19-8zM2503 305l24 1 31-9-24-1z"/><path class="k38" d="M3179 395l10 10 13-6-10-10z"/><path class="k54" d="M3035 326l13 10 14-6-13-10zM2300 335l17-2 27-7-16 2zM2275 341l17-2 25-6-17 2z"/><path class="k63" d="M2586 289l26 2 25-8-26-2zM2856 290l19 8 18-7-20-8zM2558 297l27 3 27-9-26-2zM2796 295l22 8 19-7-21-8z"/><path class="k57" d="M2992 314l14 9 15-6-15-9zM2362 324l18-1 29-8-18 2zM2945 318l15 9 16-7-15-9z"/><path class="k43" d="M3135 372l11 9 13-6-11-9zM3122 378l11 9 13-6-11-9z"/><path class="k49" d="M3087 349l12 9 13-6-12-9zM2204 354l15-3 24-5-15 3zM2181 359l15-3 23-5-15 3z"/><path class="k35" d="M3189 405l10 10 12-6-9-10zM3177 411l9 10 13-6-10-10z"/><path class="k55" d="M2344 326l18-2 29-7-17 2zM3006 323l14 10 15-7-14-9zM2991 330l14 9 15-6-14-10zM2317 333l17-2 28-7-18 2z"/><path class="k41" d="M3146 381l10 10 13-6-10-10zM3133 387l10 10 13-6-10-10z"/><path class="k33" d="M3199 415l10 10 12-6-10-10zM3186 421l10 10 13-6-10-10z"/><path class="k47" d="M3099 358l12 10 13-6-12-10z"/><path class="k58" d="M2409 315l19-1 32-9-19 2zM2961 311l15 9 16-6-16-9zM2380 323l19-1 29-8-19 1z"/><path class="k61" d="M2911 300l17 9 17-7-18-8zM2481 305l22 0 31-9-22 0z"/><path class="k31" d="M3209 425l9 10 12-6-9-10zM3196 431l9 10 13-6-9-10z"/><path class="k39" d="M3156 391l11 10 12-6-10-10zM3143 397l10 10 14-6-11-10z"/><path class="k50" d="M3061 345l12 10 14-6-12-10zM3046 351l13 10 14-6-12-10z"/><path class="k29" d="M3218 435l9 10 12-6-9-10z"/><path class="k37" d="M3167 401l10 10 12-6-10-10z"/><path class="k53" d="M3020 333l13 9 15-6-13-10zM3005 339l13 9 15-6-13-9z"/><path class="k27" d="M3227 445l9 10 12-6-9-10z"/><path class="k48" d="M3073 355l12 9 14-6-12-9zM3059 361l12 10 14-7-12-9z"/><path class="k56" d="M2976 320l15 10 15-7-14-9zM2960 327l15 9 16-6-15-10z"/><path class="k59" d="M2928 309l17 9 16-7-16-9zM2428 314l21 0 32-9-21 0z"/><path class="k25" d="M3236 455l8 10 13-6-9-10z"/><path class="k22" d="M3244 465l9 10 12-6-8-10z"/><path class="k46" d="M3085 364l12 10 14-6-12-10z"/><path class="k20" d="M3253 475l8 11 12-6-8-11z"/><path class="k18" d="M3261 486l9 10 12-6-9-10z"/><path class="k44" d="M3097 374l11 10 14-6-11-10z"/><path class="k28" d="M3205 441l9 10 13-6-9-10z"/><path class="k36" d="M3153 407l10 10 14-6-10-10z"/><path class="k16" d="M3270 496l8 10 12-6-8-10z"/><path class="k26" d="M3214 451l9 10 13-6-9-10z"/><path class="k13" d="M3278 506l8 10 12-6-8-10z"/><path class="k42" d="M3108 384l11 10 14-7-11-9z"/><path class="k34" d="M3163 417l10 10 13-6-9-10z"/><path class="k11" d="M3286 516l7 11 12-6-7-11z"/><path class="k24" d="M3223 461l9 10 12-6-8-10z"/><path class="k61" d="M2857 305l19 8 18-6-19-9zM2838 312l18 8 20-7-19-8zM2471 314l23 1 33-9-24-1zM2797 311l20 8 21-7-20-9z"/><path class="k9" d="M3293 527l8 10 12-6-8-10z"/><path class="k59" d="M2911 315l17 9 17-6-17-9zM2399 322l20-1 30-7-21 0zM2856 320l18 9 19-7-17-9z"/><path class="k64" d="M2751 294l24 8 21-7-24-8zM2701 295l27 7 23-8-28-7zM2643 296l33 6 25-7-33-7z"/><path class="k32" d="M3173 427l10 10 13-6-10-10zM3159 433l10 10 14-6-10-10z"/><path class="k40" d="M3119 394l10 9 14-6-10-10zM3104 400l11 10 14-7-10-9z"/><path class="k22" d="M3232 471l8 11 13-7-9-10z"/><path class="k7" d="M3301 537l7 10 12-6-7-10z"/><path class="k51" d="M3018 348l13 10 15-7-13-9zM2196 356l16-2 23-5-16 2zM2174 361l16-3 22-4-16 2z"/><path class="k52" d="M2235 349l16-3 24-5-16 2zM2989 345l13 10 16-7-13-9zM2212 354l16-3 23-5-16 3zM2972 352l13 10 17-7-13-10z"/><path class="k46" d="M3071 371l11 9 15-6-12-10z"/><path class="k20" d="M3240 482l9 10 12-6-8-11z"/><path class="k4" d="M3308 547l8 11 12-6-8-11zM3296 554l7 10 13-6-8-11z"/><path class="k30" d="M3183 437l9 10 13-6-9-10zM3169 443l9 10 14-6-9-10z"/><path class="k38" d="M3129 403l11 10 13-6-10-10zM3115 410l10 10 15-7-11-10z"/><path class="k17" d="M3249 492l8 10 13-6-9-10zM3236 498l8 10 13-6-8-10z"/><path class="k54" d="M2975 336l14 9 16-6-14-9zM2251 346l16-2 25-5-17 2zM2958 343l14 9 17-7-14-9z"/><path class="k60" d="M2449 314l22 0 32-9-22 0zM2876 313l17 9 18-7-17-8z"/><path class="k56" d="M2334 331l19-2 27-6-18 1zM2909 331l16 9 18-6-15-10zM2309 337l18-2 26-6-19 2z"/><path class="k62" d="M2818 303l20 9 19-7-20-9z"/><path class="k28" d="M3192 447l9 10 13-6-9-10z"/><path class="k44" d="M3082 380l11 10 15-6-11-10z"/><path class="k49" d="M3031 358l12 9 16-6-13-10zM2159 363l15-2 22-5-15 3zM3015 364l12 10 16-7-12-9z"/><path class="k15" d="M3257 502l8 10 13-6-8-10zM3244 508l8 11 13-7-8-10z"/><path class="k57" d="M2928 324l15 10 17-7-15-9z"/><path class="k36" d="M3140 413l10 10 13-6-10-10z"/><path class="k63" d="M2585 300l30 4 28-8-31-5zM2775 302l22 9 21-8-22-8zM2527 306l26 3 32-9-27-3zM2728 302l25 8 22-8-24-8zM2676 302l27 8 25-8-27-7zM2615 304l33 7 28-9-33-6z"/><path class="k26" d="M3201 457l9 10 13-6-9-10z"/><path class="k13" d="M3265 512l8 11 13-7-8-10z"/><path class="k42" d="M3093 390l11 10 15-6-11-10z"/><path class="k34" d="M3150 423l9 10 14-6-10-10z"/><path class="k55" d="M2292 339l17-2 25-6-17 2zM2943 334l15 9 17-7-15-9zM2267 344l18-2 24-5-17 2z"/><path class="k11" d="M3273 523l8 10 12-6-7-11z"/><path class="k24" d="M3210 467l9 11 13-7-9-10z"/><path class="k47" d="M3043 367l12 10 16-6-12-10zM3027 374l12 10 16-7-12-10z"/><path class="k8" d="M3281 533l8 10 12-6-8-10zM3268 539l8 11 13-7-8-10z"/><path class="k21" d="M3219 478l8 10 13-6-8-11zM3205 484l9 10 13-6-8-10z"/><path class="k6" d="M3289 543l7 11 12-7-7-10zM3276 550l7 10 13-6-7-11z"/><path class="k19" d="M3227 488l9 10 13-6-9-10z"/><path class="k58" d="M2893 322l16 9 19-7-17-9zM2353 329l19-1 27-6-19 1z"/><path class="k45" d="M3055 377l12 10 15-7-11-9z"/><path class="k50" d="M3002 355l13 9 16-6-13-10zM2138 368l15-3 21-4-15 2z"/><path class="k27" d="M3178 453l10 11 13-7-9-10z"/><path class="k43" d="M3067 387l11 10 15-7-11-10z"/><path class="k35" d="M3125 420l10 10 15-7-10-10z"/><path class="k12" d="M3252 519l8 10 13-6-8-11z"/><path class="k25" d="M3188 464l8 10 14-7-9-10z"/><path class="k10" d="M3260 529l8 10 13-6-8-10z"/><path class="k33" d="M3135 430l10 10 14-7-9-10z"/><path class="k41" d="M3078 397l11 9 15-6-11-10z"/><path class="k23" d="M3196 474l9 10 14-6-9-11z"/><path class="k31" d="M3145 440l10 10 14-7-10-10zM3130 446l10 10 15-6-10-10z"/><path class="k60" d="M2419 321l22 0 30-7-22 0zM2817 319l19 9 20-8-18-8zM2392 328l22 0 27-7-22 0zM2795 327l18 8 23-7-19-9z"/><path class="k39" d="M3089 406l11 10 15-6-11-10zM3073 413l11 10 16-7-11-10z"/><path class="k3" d="M3283 560l8 10 12-6-7-10zM3270 566l7 11 14-7-8-10zM3256 573l7 11 14-7-7-11z"/><path class="k19" d="M3214 494l8 10 14-6-9-10z"/><path class="k55" d="M2925 340l15 10 18-7-15-9zM2244 349l18-2 23-5-18 2z"/><path class="k54" d="M2228 351l16-2 23-5-16 2zM2206 356l16-3 22-4-16 2zM2906 347l14 10 20-7-15-10z"/><path class="k29" d="M3155 450l9 10 14-7-9-10zM3140 456l9 10 15-6-9-10z"/><path class="k62" d="M2753 310l21 8 23-7-22-9zM2494 315l27 2 32-8-26-3zM2728 318l22 8 24-8-21-8z"/><path class="k45" d="M3039 384l12 9 16-6-12-10z"/><path class="k63" d="M2553 309l31 4 31-9-30-4zM2703 310l25 8 25-8-25-8zM2648 311l28 7 27-8-27-8zM2584 313l33 7 31-9-33-7zM2521 317l31 5 32-9-31-4z"/><path class="k17" d="M3222 504l9 11 13-7-8-10z"/><path class="k50" d="M2985 362l13 9 17-7-13-9zM2117 371l15-2 21-4-15 3zM2097 375l15-3 20-3-15 2z"/><path class="k37" d="M3100 416l10 10 15-6-10-10zM3084 423l10 10 16-7-10-10z"/><path class="k52" d="M2190 358l16-2 22-5-16 3z"/><path class="k58" d="M2874 329l16 9 19-7-16-9zM2327 335l19-1 26-6-19 1zM2303 340l19-1 24-5-19 1z"/><path class="k27" d="M3164 460l9 10 15-6-10-11zM3149 466l9 11 15-7-9-10z"/><path class="k59" d="M2372 328l20 0 27-7-20 1zM2836 328l17 9 21-8-18-9zM2346 334l21-1 25-5-20 0z"/><path class="k14" d="M3231 515l8 10 13-6-8-11zM3216 521l9 11 14-7-8-10z"/><path class="k51" d="M2153 365l15-3 22-4-16 3zM2954 359l13 9 18-6-13-10zM2132 369l16-3 20-4-15 3z"/><path class="k43" d="M3051 393l11 10 16-6-11-10z"/><path class="k12" d="M3239 525l8 10 13-6-8-10zM3225 532l8 10 14-7-8-10z"/><path class="k35" d="M3110 426l10 10 15-6-10-10zM3094 433l10 10 16-7-10-10z"/><path class="k25" d="M3173 470l9 10 14-6-8-10z"/><path class="k53" d="M2940 350l14 9 18-7-14-9zM2168 362l16-2 22-4-16 2zM2920 357l14 9 20-7-14-9z"/><path class="k48" d="M2998 371l13 10 16-7-12-10zM2980 378l13 10 18-7-13-10z"/><path class="k10" d="M3247 535l7 11 14-7-8-10z"/><path class="k23" d="M3182 480l9 10 14-6-9-10z"/><path class="k33" d="M3120 436l10 10 15-6-10-10zM3104 443l10 10 16-7-10-10z"/><path class="k8" d="M3254 546l8 10 14-6-8-11z"/><path class="k41" d="M3062 403l11 10 16-7-11-9z"/><path class="k56" d="M2890 338l16 9 19-7-16-9zM2869 346l16 9 21-8-16-9z"/><path class="k5" d="M3262 556l8 10 13-6-7-10zM3248 563l8 10 14-7-8-10z"/><path class="k57" d="M2285 342l18-2 24-5-18 2zM2853 337l16 9 21-8-16-9zM2262 347l18-2 23-5-18 2z"/><path class="k21" d="M3191 490l9 11 14-7-9-10z"/><path class="k46" d="M3011 381l12 9 16-6-12-10zM2993 388l12 9 18-7-12-9z"/><path class="k61" d="M2774 318l21 9 22-8-20-8zM2441 321l24 1 29-7-23-1z"/><path class="k18" d="M3200 501l8 10 14-7-8-10zM3185 507l8 11 15-7-8-10z"/><path class="k16" d="M3208 511l8 10 15-6-9-11z"/><path class="k44" d="M3023 390l11 10 17-7-12-9z"/><path class="k49" d="M2967 368l13 10 18-7-13-9z"/><path class="k24" d="M3158 477l9 10 15-7-9-10z"/><path class="k42" d="M3034 400l12 10 16-7-11-10z"/><path class="k9" d="M3233 542l7 10 14-6-7-11z"/><path class="k22" d="M3167 487l9 10 15-7-9-10z"/><path class="k7" d="M3240 552l8 11 14-7-8-10z"/><path class="k40" d="M3046 410l11 10 16-7-11-10z"/><path class="k20" d="M3176 497l9 10 15-6-9-11z"/><path class="k30" d="M3114 453l10 10 16-7-10-10z"/><path class="k55" d="M2222 353l18-2 22-4-18 2zM2847 353l16 9 22-7-16-9zM2144 367l16-2 20-4-16 2z"/><path class="k38" d="M3057 420l10 10 17-7-11-10zM3039 427l10 10 18-7-10-10z"/><path class="k51" d="M2934 366l14 10 19-8-13-9zM2058 382l15-3 19-3-14 2zM2040 384l15-2 18-3-15 3z"/><path class="k54" d="M2184 360l17-3 21-4-16 3zM2885 355l15 9 20-7-14-10zM2164 363l16-2 21-4-17 3z"/><path class="k62" d="M2676 318l24 8 28-8-25-8zM2465 322l27 3 29-8-27-2zM2438 329l27 2 27-6-27-3zM2645 327l24 8 31-9-24-8z"/><path class="k50" d="M2078 378l14-2 20-4-15 3zM2914 373l13 10 21-7-14-10z"/><path class="k53" d="M2148 366l16-3 20-3-16 2zM2128 370l16-3 20-4-16 3zM2863 362l14 10 23-8-15-9zM2108 373l16-3 20-3-16 3z"/><path class="k52" d="M2112 372l16-2 20-4-16 3zM2900 364l14 9 20-7-14-9zM2092 376l16-3 20-3-16 2zM2073 379l16-3 19-3-16 3z"/><path class="k28" d="M3124 463l9 10 16-7-9-10zM3107 470l10 10 16-7-9-10z"/><path class="k16" d="M3193 518l9 10 14-7-8-10z"/><path class="k58" d="M2813 335l18 9 22-7-17-9zM2280 345l19-1 23-5-19 1zM2789 343l17 9 25-8-18-9zM2258 350l19-1 22-5-19 1z"/><path class="k60" d="M2750 326l20 8 25-7-21-9zM2367 333l22 1 25-6-22 0zM2722 334l20 9 28-9-20-8zM2343 339l22 0 24-5-22-1z"/><path class="k14" d="M3202 528l8 10 15-6-9-11z"/><path class="k36" d="M3067 430l11 10 16-7-10-10zM3049 437l11 10 18-7-11-10z"/><path class="k44" d="M3005 397l11 10 18-7-11-10z"/><path class="k26" d="M3133 473l10 10 15-6-9-11zM3117 480l9 10 17-7-10-10z"/><path class="k61" d="M2414 328l24 1 27-7-24-1zM2700 326l22 8 28-8-22-8zM2389 334l24 1 25-6-24-1z"/><path class="k11" d="M3210 538l8 11 15-7-8-10zM3194 545l8 11 16-7-8-11z"/><path class="k49" d="M2948 376l13 9 19-7-13-10zM2927 383l13 9 21-7-13-9z"/><path class="k24" d="M3143 483l9 11 15-7-9-10zM3126 490l9 11 17-7-9-11z"/><path class="k9" d="M3218 549l8 10 14-7-7-10zM3202 556l8 10 16-7-8-10z"/><path class="k34" d="M3078 440l10 10 16-7-10-10zM3060 447l10 10 18-7-10-10z"/><path class="k42" d="M3016 407l12 10 18-7-12-10z"/><path class="k7" d="M3226 559l7 10 15-6-8-11zM3210 566l8 10 15-7-7-10z"/><path class="k22" d="M3152 494l8 10 16-7-9-10zM3135 501l9 10 16-7-8-10z"/><path class="k63" d="M2617 320l28 7 31-9-28-7zM2552 322l33 6 32-8-33-7zM2492 325l31 4 29-7-31-5z"/><path class="k57" d="M2831 344l16 9 22-7-16-9zM2240 351l18-1 22-5-18 2zM2218 355l19-1 21-4-18 1z"/><path class="k59" d="M2322 339l21 0 24-6-21 1zM2770 334l19 9 24-8-18-8zM2299 344l21 0 23-5-21 0z"/><path class="k32" d="M3088 450l10 10 16-7-10-10zM3070 457l10 10 18-7-10-10z"/><path class="k5" d="M3233 569l8 11 15-7-8-10z"/><path class="k47" d="M2961 385l13 10 19-7-13-10zM2940 392l13 10 21-7-13-10z"/><path class="k20" d="M3160 504l9 10 16-7-9-10z"/><path class="k2" d="M3241 580l8 10 14-6-7-11zM3226 587l7 10 16-7-8-10z"/><path class="k40" d="M3028 417l11 10 18-7-11-10z"/><path class="k30" d="M3098 460l9 10 17-7-10-10z"/><path class="k56" d="M2201 357l17-2 22-4-18 2zM2180 361l18-2 20-4-17 2z"/><path class="k18" d="M3169 514l9 10 15-6-8-11z"/><path class="k45" d="M2974 395l12 9 19-7-12-9z"/><path class="k15" d="M3178 524l8 11 16-7-9-10z"/><path class="k13" d="M3186 535l8 10 16-7-8-10z"/><path class="k43" d="M2986 404l11 10 19-7-11-10z"/><path class="k41" d="M2997 414l12 10 19-7-12-10z"/><path class="k4" d="M3218 576l8 11 15-7-8-11z"/><path class="k19" d="M3144 511l9 10 16-7-9-10z"/><path class="k39" d="M3009 424l11 10 19-7-11-10z"/><path class="k17" d="M3153 521l8 10 17-7-9-10zM3135 528l9 11 17-8-8-10z"/><path class="k30" d="M3080 467l10 10 17-7-9-10z"/><path class="k56" d="M2806 352l16 9 25-8-16-9zM2160 365l18-2 20-4-18 2zM2779 361l16 9 27-9-16-9zM2141 368l17-2 20-3-18 2z"/><path class="k52" d="M2877 372l15 9 22-8-14-9zM2055 382l15-3 19-3-16 3zM2003 390l15-3 18-3-15 3z"/><path class="k15" d="M3161 531l9 11 16-7-8-11zM3144 539l8 10 18-7-9-11z"/><path class="k28" d="M3090 477l9 10 18-7-10-10z"/><path class="k38" d="M3020 434l11 10 18-7-10-10z"/><path class="k45" d="M2953 402l12 10 21-8-12-9zM2931 410l12 10 22-8-12-10z"/><path class="k13" d="M3170 542l8 10 16-7-8-10zM3152 549l8 11 18-8-8-10z"/><path class="k62" d="M2585 328l28 8 32-9-28-7zM2465 331l31 5 27-7-31-4zM2413 335l26 2 26-6-27-2zM2613 336l24 8 32-9-24-8zM2556 336l28 7 29-7-28-8zM2389 340l26 2 24-5-26-2z"/><path class="k59" d="M2742 343l19 9 28-9-19-9zM2277 349l21-1 22-4-21 0zM2216 358l19-1 21-4-19 1zM2711 352l19 9 31-9-19-9z"/><path class="k51" d="M2021 387l15-3 19-2-15 2zM2853 380l14 9 25-8-15-9z"/><path class="k25" d="M3099 487l9 10 18-7-9-10zM3080 495l10 10 18-8-9-10z"/><path class="k11" d="M3178 552l8 11 16-7-8-11z"/><path class="k50" d="M2892 381l13 10 22-8-13-10zM2867 389l14 10 24-8-13-10z"/><path class="k61" d="M2669 335l22 8 31-9-22-8zM2365 339l24 1 24-5-24-1zM2298 348l22 0 22-4-22 0zM2342 344l24 1 23-5-24-1zM2637 344l22 8 32-9-22-8z"/><path class="k35" d="M3031 444l10 10 19-7-11-10zM3010 452l11 10 20-8-10-10z"/><path class="k55" d="M2822 361l16 9 25-8-16-9zM2124 370l17-2 19-3-16 2zM2105 374l16-3 20-3-17 2z"/><path class="k8" d="M3186 563l8 10 16-7-8-10zM3168 570l8 10 18-7-8-10z"/><path class="k54" d="M2089 376l16-2 19-4-16 3zM2070 379l16-3 19-2-16 2zM2795 370l16 9 27-9-16-9zM2052 382l16-3 18-3-16 3z"/><path class="k43" d="M2965 412l12 10 20-8-11-10zM2943 420l12 9 22-7-12-10z"/><path class="k23" d="M3108 497l9 11 18-7-9-11zM3090 505l9 10 18-7-9-11z"/><path class="k63" d="M2523 329l33 7 29-8-33-6zM2439 337l31 5 26-6-31-5zM2496 336l33 6 27-6-33-7z"/><path class="k6" d="M3194 573l8 11 16-8-8-10zM3176 580l8 11 18-7-8-11z"/><path class="k33" d="M3041 454l10 10 19-7-10-10zM3021 462l10 10 20-8-10-10z"/><path class="k57" d="M2198 359l18-1 21-4-19 1zM2761 352l18 9 27-9-17-9zM2178 363l18-2 20-3-18 1z"/><path class="k21" d="M3117 508l9 10 18-7-9-10zM3099 515l9 10 18-7-9-10z"/><path class="k58" d="M2237 354l19-1 21-4-19 1z"/><path class="k60" d="M2320 344l22 0 23-5-22 0zM2691 343l20 9 31-9-20-9zM2256 353l20-1 22-4-21 1z"/><path class="k4" d="M3202 584l7 10 17-7-8-11zM3184 591l8 10 17-7-7-10z"/><path class="k48" d="M2905 391l13 9 22-8-13-9z"/><path class="k41" d="M2977 422l11 10 21-8-12-10z"/><path class="k2" d="M3209 594l8 11 16-8-7-10zM3192 601l7 11 18-7-8-11z"/><path class="k19" d="M3126 518l9 10 18-7-9-10zM3108 525l8 11 19-8-9-10z"/><path class="k31" d="M3051 464l10 10 19-7-10-10zM3031 472l10 10 20-8-10-10z"/><path class="k53" d="M2838 370l15 10 24-8-14-10zM2036 384l16-2 18-3-15 3zM2018 387l16-3 18-2-16 2z"/><path class="k29" d="M3061 474l10 10 19-7-10-10z"/><path class="k39" d="M2988 432l11 10 21-8-11-10z"/><path class="k46" d="M2918 400l13 10 22-8-13-10z"/><path class="k27" d="M3071 484l9 11 19-8-9-10z"/><path class="k37" d="M2999 442l11 10 21-8-11-10z"/><path class="k10" d="M3160 560l8 10 18-7-8-11z"/><path class="k41" d="M2955 429l11 10 22-7-11-10zM2931 438l11 10 24-9-11-10z"/><path class="k56" d="M2086 376l17-2 18-3-16 3zM2068 379l16-2 19-3-17 2zM2748 370l16 9 31-9-16-9zM2050 382l16-2 18-3-16 2z"/><path class="k48" d="M2881 399l13 9 24-8-13-9zM2854 407l13 10 27-9-13-9z"/><path class="k17" d="M3116 536l9 10 19-7-9-11z"/><path class="k57" d="M2121 371l18-2 19-3-17 2zM2730 361l18 9 31-9-18-9zM2103 374l17-2 19-3-18 2zM2084 377l18-2 18-3-17 2zM2698 369l18 9 32-8-18-9z"/><path class="k29" d="M3041 482l10 10 20-8-10-10zM3019 490l10 10 22-8-10-10z"/><path class="k15" d="M3125 546l8 11 19-8-8-10z"/><path class="k58" d="M2158 366l18-1 20-4-18 2zM2139 369l18-1 19-3-18 1zM2680 361l18 8 32-8-19-9zM2120 372l18-1 19-3-18 1zM2066 380l18-2 18-3-18 2z"/><path class="k39" d="M2966 439l11 10 22-7-11-10zM2942 448l11 10 24-9-11-10z"/><path class="k53" d="M2811 379l15 9 27-8-15-10zM2780 388l15 9 31-9-15-9z"/><path class="k12" d="M3133 557l9 10 18-7-8-11zM3113 564l9 11 20-8-9-10z"/><path class="k59" d="M2196 361l19-1 20-3-19 1zM2176 365l19-2 20-3-19 1zM2157 368l19-1 19-4-19 2z"/><path class="k46" d="M2894 408l13 10 24-8-13-10zM2867 417l13 10 27-9-13-10z"/><path class="k27" d="M3051 492l9 10 20-7-9-11zM3029 500l9 10 22-8-9-10z"/><path class="k60" d="M2235 357l21-1 20-4-20 1zM2659 352l21 9 31-9-20-9zM2215 360l20 0 21-4-21 1zM2195 363l21 0 19-3-20 0zM2630 360l21 8 29-7-21-9z"/><path class="k10" d="M3142 567l8 11 18-8-8-10zM3122 575l8 10 20-7-8-11z"/><path class="k37" d="M2977 449l11 10 22-7-11-10zM2953 458l11 10 24-9-11-10z"/><path class="k61" d="M2276 352l22 0 22-4-22 0zM2256 356l22 0 20-4-22 0zM2608 351l22 9 29-8-22-8zM2235 360l22 0 21-4-22 0z"/><path class="k55" d="M2034 384l16-2 18-3-16 3z"/><path class="k25" d="M3060 502l10 11 20-8-10-10zM3038 510l10 11 22-8-10-11z"/><path class="k8" d="M3150 578l8 10 18-8-8-10zM3130 585l8 11 20-8-8-10z"/><path class="k62" d="M2584 343l24 8 29-7-24-8zM2320 348l24 1 22-4-24-1zM2366 345l26 2 23-5-26-2zM2529 342l28 8 27-7-28-7zM2298 352l24 1 22-4-24-1zM2344 349l26 3 22-5-26-2zM2557 350l24 8 27-7-24-8zM2503 348l28 8 26-6-28-8z"/><path class="k51" d="M2826 388l14 10 27-9-14-9zM2795 397l14 10 31-9-14-10z"/><path class="k44" d="M2907 418l12 10 24-8-12-10zM2880 427l12 9 27-8-12-10z"/><path class="k6" d="M3158 588l8 11 18-8-8-11zM3138 596l8 11 20-8-8-11z"/><path class="k23" d="M3070 513l9 10 20-8-9-10zM3048 521l9 10 22-8-9-10z"/><path class="k35" d="M2988 459l11 10 22-7-11-10zM2964 468l11 10 24-9-11-10z"/><path class="k4" d="M3166 599l7 10 19-8-8-10z"/><path class="k21" d="M3079 523l9 10 20-8-9-10zM3057 531l9 10 22-8-9-10z"/><path class="k63" d="M2415 342l31 5 24-5-31-5zM2470 342l33 6 26-6-33-6zM2392 347l31 5 23-5-31-5zM2446 347l33 7 24-6-33-6z"/><path class="k1" d="M3173 609l8 11 18-8-7-11zM3154 617l7 11 20-8-8-11z"/><path class="k33" d="M2999 469l10 11 22-8-10-10zM2975 478l10 10 24-8-10-11z"/><path class="k42" d="M2919 428l12 10 24-9-12-9z"/><path class="k19" d="M3088 533l8 11 20-8-8-11z"/><path class="k49" d="M2840 398l14 9 27-8-14-10z"/><path class="k31" d="M3009 480l10 10 22-8-10-10z"/><path class="k16" d="M3096 544l9 10 20-8-9-10z"/><path class="k54" d="M2764 379l16 9 31-9-16-9z"/><path class="k14" d="M3105 554l8 10 20-7-8-11z"/><path class="k3" d="M3146 607l8 10 19-8-7-10z"/><path class="k18" d="M3066 541l9 11 21-8-8-11zM3042 550l9 10 24-8-9-11z"/><path class="k42" d="M2892 436l12 10 27-8-12-10zM2861 446l12 10 31-10-12-10z"/><path class="k62" d="M2278 356l24 1 20-4-24-1zM2216 363l22 0 19-3-22 0zM2531 356l25 8 25-6-24-8zM2257 360l24 1 21-4-24-1zM2197 366l22 0 19-3-22 0zM2507 361l25 8 24-5-25-8zM2178 369l22 0 19-3-22 0zM2121 375l21-1 18-2-21 0z"/><path class="k16" d="M3075 552l8 10 22-8-9-10zM3051 560l9 11 23-9-8-10z"/><path class="k59" d="M2102 375l18-2 18-2-18 1zM2084 378l18-2 18-3-18 2z"/><path class="k56" d="M2716 378l17 10 31-9-16-9zM2687 386l17 9 29-7-17-10z"/><path class="k31" d="M2985 488l10 10 24-8-10-10zM2958 497l10 10 27-9-10-10z"/><path class="k14" d="M3083 562l9 11 21-9-8-10zM3060 571l8 10 24-8-9-11z"/><path class="k49" d="M2809 407l14 9 31-9-14-9zM2778 416l14 9 31-9-14-9z"/><path class="k60" d="M2138 371l19-2 19-2-19 1zM2120 373l19-1 18-3-19 2zM2603 366l21 9 27-7-21-8zM2102 376l19-1 18-3-19 1zM2578 372l21 9 25-6-21-9z"/><path class="k63" d="M2322 353l27 3 21-4-26-3zM2370 352l31 4 22-4-31-5zM2423 352l33 6 23-4-33-7zM2479 354l28 7 24-5-28-8zM2302 357l26 3 21-4-27-3zM2349 356l31 4 21-4-31-4zM2238 363l24 1 19-3-24-1zM2401 356l33 7 22-5-33-6zM2281 361l27 2 20-3-26-3zM2456 358l29 8 22-5-28-7zM2328 360l31 4 21-4-31-4zM2219 366l24 1 19-3-24-1z"/><path class="k40" d="M2904 446l11 10 27-8-11-10zM2873 456l12 10 30-10-11-10z"/><path class="k29" d="M2995 498l10 10 24-8-10-10zM2968 507l10 10 27-9-10-10z"/><path class="k12" d="M3092 573l8 10 22-8-9-11zM3068 581l9 11 23-9-8-10z"/><path class="k61" d="M2581 358l22 8 27-6-22-9zM2176 367l21-1 19-3-21 0zM2157 369l21 0 19-3-21 1zM2556 364l22 8 25-6-22-8zM2139 372l21 0 18-3-21 0z"/><path class="k58" d="M2651 368l18 9 29-8-18-8zM2624 375l19 9 26-7-18-9z"/><path class="k10" d="M3100 583l8 11 22-9-8-10zM3077 592l8 10 23-8-8-11z"/><path class="k27" d="M3005 508l9 11 24-9-9-10zM2978 517l10 11 26-9-9-11z"/><path class="k54" d="M2733 388l15 9 32-9-16-9zM2704 395l16 9 28-7-15-9z"/><path class="k38" d="M2915 456l11 10 27-8-11-10zM2885 466l11 10 30-10-11-10z"/><path class="k48" d="M2823 416l13 10 31-9-13-10zM2792 425l13 10 31-9-13-10z"/><path class="k8" d="M3108 594l8 10 22-8-8-11zM3085 602l8 11 23-9-8-10z"/><path class="k25" d="M3014 519l10 10 24-8-10-11zM2988 528l9 10 27-9-10-10z"/><path class="k6" d="M3116 604l8 11 22-8-8-11z"/><path class="k3" d="M3124 615l8 10 22-8-8-10zM3101 624l8 10 23-9-8-10z"/><path class="k37" d="M2926 466l11 10 27-8-11-10zM2896 476l11 10 30-10-11-10z"/><path class="k23" d="M3024 529l9 10 24-8-9-10z"/><path class="k46" d="M2836 426l13 10 31-9-13-10zM2805 435l13 10 31-9-13-10z"/><path class="k1" d="M3132 625l8 11 21-8-7-11zM3109 634l7 11 24-9-8-11z"/><path class="k53" d="M2748 397l15 9 32-9-15-9zM2720 404l15 10 28-8-15-9z"/><path class="k57" d="M2669 377l18 9 29-8-18-9zM2643 384l17 9 27-7-18-9z"/><path class="k20" d="M3033 539l9 11 24-9-9-10zM3007 548l9 11 26-9-9-11z"/><path class="k35" d="M2937 476l11 11 27-9-11-10z"/><path class="k44" d="M2849 436l12 10 31-10-12-9z"/><path class="k33" d="M2948 487l10 10 27-9-10-10z"/><path class="k51" d="M2763 406l15 10 31-9-14-10z"/><path class="k5" d="M3093 613l8 11 23-9-8-11z"/><path class="k22" d="M2997 538l10 10 26-9-9-10z"/><path class="k35" d="M2907 486l11 10 30-9-11-11zM2876 495l11 10 31-9-11-10z"/><path class="k18" d="M3016 559l9 10 26-9-9-10zM2986 568l9 11 30-10-9-10z"/><path class="k63" d="M2380 360l33 7 21-4-33-7zM2262 364l27 2 19-3-27-2zM2160 372l22 0 18-3-22 0zM2434 363l29 7 22-4-29-8zM2200 369l24 1 19-3-24-1zM2142 374l22 0 18-2-22 0zM2413 367l28 7 22-4-29-7zM2441 374l25 8 21-4-24-8z"/><path class="k61" d="M2532 369l22 8 24-5-22-8zM2509 374l23 8 22-5-22-8z"/><path class="k16" d="M3025 569l8 11 27-9-9-11zM2995 579l8 11 30-10-8-11z"/><path class="k33" d="M2918 496l10 10 30-9-10-10zM2887 505l10 10 31-9-10-10z"/><path class="k44" d="M2818 445l12 10 31-9-12-10zM2789 453l12 9 29-7-12-10z"/><path class="k56" d="M2660 393l17 9 27-7-17-9zM2635 399l17 9 25-6-17-9zM2612 404l16 9 24-5-17-9z"/><path class="k14" d="M3033 580l9 10 26-9-8-10zM3003 590l9 10 30-10-9-10z"/><path class="k51" d="M2735 414l14 9 29-7-15-10zM2708 421l15 9 26-7-14-9z"/><path class="k62" d="M2485 366l24 8 23-5-25-8zM2463 370l24 8 22-4-24-8zM2487 378l23 9 22-5-23-8z"/><path class="k59" d="M2599 381l19 8 25-5-19-9zM2575 386l19 9 24-6-19-8zM2552 391l19 9 23-5-19-9z"/><path class="k31" d="M2928 506l10 10 30-9-10-10zM2897 515l10 11 31-10-10-10z"/><path class="k12" d="M3042 590l8 11 27-9-9-11zM3012 600l8 11 30-10-8-11z"/><path class="k42" d="M2830 455l12 10 31-9-12-10zM2801 462l12 10 29-7-12-10z"/><path class="k64" d="M2308 363l31 4 20-3-31-4zM2243 367l27 2 19-3-27-2zM2359 364l34 7 20-4-33-7zM2182 372l24 1 18-3-24-1zM2289 366l31 5 19-4-31-4zM2224 370l27 2 19-3-27-2zM2339 367l33 7 21-3-34-7zM2164 374l24 1 18-2-24-1zM2270 369l31 5 19-3-31-5zM2393 371l28 7 20-4-28-7zM2320 371l33 6 19-3-33-7z"/><path class="k10" d="M3050 601l9 10 26-9-8-10zM3020 611l9 10 30-10-9-10z"/><path class="k29" d="M2938 516l10 11 30-10-10-10zM2907 526l10 10 31-9-10-11z"/><path class="k8" d="M3059 611l8 11 26-9-8-11zM3029 621l8 11 30-10-8-11z"/><path class="k49" d="M2749 423l14 10 29-8-14-9z"/><path class="k54" d="M2677 402l16 9 27-7-16-9z"/><path class="k6" d="M3067 622l8 11 26-9-8-11zM3037 632l8 11 30-10-8-11z"/><path class="k40" d="M2842 465l12 10 31-9-12-10z"/><path class="k27" d="M2948 527l10 10 30-9-10-11zM2917 536l10 10 31-9-10-10z"/><path class="k60" d="M2554 377l21 9 24-5-21-9zM2532 382l20 9 23-5-21-9z"/><path class="k3" d="M3075 633l8 10 26-9-8-10z"/><path class="k57" d="M2618 389l17 10 25-6-17-9z"/><path class="k25" d="M2958 537l9 11 30-10-9-10zM2927 546l9 11 31-9-9-11z"/><path class="k1" d="M3083 643l7 11 26-9-7-11zM3053 654l8 10 29-10-7-11z"/><path class="k48" d="M2763 433l13 10 29-8-13-10zM2736 440l14 9 26-6-13-10z"/><path class="k39" d="M2854 475l11 10 31-9-11-10zM2825 482l11 11 29-8-11-10z"/><path class="k23" d="M2967 548l10 10 30-10-10-10zM2936 557l10 10 31-9-10-10z"/><path class="k53" d="M2693 411l15 10 27-7-15-10zM2668 417l15 9 25-5-15-10z"/><path class="k37" d="M2865 485l11 10 31-9-11-10z"/><path class="k21" d="M2977 558l9 10 30-9-9-11z"/><path class="k46" d="M2776 443l13 10 29-8-13-10zM2750 449l13 10 26-6-13-10z"/><path class="k55" d="M2652 408l16 9 25-6-16-9z"/><path class="k50" d="M2723 430l13 10 27-7-14-10z"/><path class="k58" d="M2594 395l18 9 23-5-17-10z"/><path class="k41" d="M2813 472l12 10 29-7-12-10z"/><path class="k65" d="M2206 373l27 2 18-3-27-2zM2251 372l31 5 19-3-31-5z"/><path class="k4" d="M3045 643l8 11 30-11-8-10z"/><path class="k37" d="M2836 493l12 10 28-8-11-10zM2810 499l11 11 27-7-12-10zM2786 506l11 10 24-6-11-11z"/><path class="k51" d="M2683 426l15 10 25-6-15-9z"/><path class="k61" d="M2510 387l20 8 22-4-20-9zM2488 391l21 8 21-4-20-8zM2468 394l21 9 20-4-21-8z"/><path class="k64" d="M2372 374l29 8 20-4-28-7zM2353 377l28 8 20-3-29-8zM2381 385l25 8 20-3-25-8zM2362 388l25 8 19-3-25-8z"/><path class="k21" d="M2946 567l9 11 31-10-9-10zM2918 575l9 11 28-8-9-11z"/><path class="k65" d="M2188 375l27 3 18-3-27-2zM2301 374l33 7 19-4-33-6zM2233 375l31 4 18-2-31-5zM2282 377l33 6 19-2-33-7zM2334 381l28 7 19-3-28-8zM2315 383l28 8 19-3-28-7z"/><path class="k62" d="M2466 382l22 9 22-4-23-9zM2446 386l22 8 20-3-22-9zM2448 398l21 9 20-4-21-9z"/><path class="k44" d="M2763 459l12 10 26-7-12-9z"/><path class="k35" d="M2848 503l10 10 29-8-11-10zM2821 510l11 10 26-7-10-10z"/><path class="k55" d="M2628 413l16 9 24-5-16-9zM2606 418l16 9 22-5-16-9zM2584 422l16 10 22-5-16-9z"/><path class="k63" d="M2421 378l25 8 20-4-25-8zM2401 382l25 8 20-4-25-8zM2426 390l22 8 20-4-22-8zM2406 393l23 8 19-3-22-8z"/><path class="k58" d="M2571 400l18 9 23-5-18-9zM2549 404l18 9 22-4-18-9zM2528 408l18 9 21-4-18-9z"/><path class="k19" d="M2955 578l9 10 31-9-9-11zM2927 586l9 11 28-9-9-10z"/><path class="k50" d="M2698 436l14 10 24-6-13-10zM2674 441l14 10 24-5-14-10zM2651 446l14 10 23-5-14-10z"/><path class="k17" d="M2964 588l9 11 30-9-8-11zM2936 597l9 10 28-8-9-11z"/><path class="k33" d="M2858 513l11 10 28-8-10-10zM2832 520l11 10 26-7-11-10z"/><path class="k43" d="M2775 469l12 10 26-7-12-10zM2750 475l12 10 25-6-12-10z"/><path class="k15" d="M2973 599l8 11 31-10-9-10zM2945 607l9 11 27-8-8-11z"/><path class="k59" d="M2530 395l19 9 22-4-19-9z"/><path class="k31" d="M2869 523l10 11 28-8-10-11zM2843 530l10 11 26-7-10-11z"/><path class="k53" d="M2644 422l15 10 24-6-15-9z"/><path class="k12" d="M2981 610l9 10 30-9-8-11z"/><path class="k48" d="M2712 446l13 9 25-6-14-9zM2688 451l13 10 24-6-13-9z"/><path class="k56" d="M2589 409l17 9 22-5-16-9z"/><path class="k41" d="M2787 479l12 10 26-7-12-10zM2762 485l12 10 25-6-12-10z"/><path class="k10" d="M2990 620l8 11 31-10-9-10z"/><path class="k29" d="M2879 534l10 10 28-8-10-10zM2853 541l10 10 26-7-10-10z"/><path class="k8" d="M2998 631l8 11 31-10-8-11z"/><path class="k39" d="M2799 489l11 10 26-6-11-11zM2774 495l12 11 24-7-11-10z"/><path class="k27" d="M2889 544l10 10 28-8-10-10zM2863 551l10 10 26-7-10-10z"/><path class="k46" d="M2725 455l13 10 25-6-13-10z"/><path class="k6" d="M3006 642l9 11 30-10-8-11z"/><path class="k52" d="M2659 432l15 9 24-5-15-10zM2637 437l14 9 23-5-15-9z"/><path class="k4" d="M3015 653l8 10 30-9-8-11z"/><path class="k25" d="M2899 554l9 11 28-8-9-11zM2873 561l9 11 26-7-9-11z"/><path class="k2" d="M3023 663l7 11 31-10-8-10z"/><path class="k66" d="M2215 378l31 4 18-3-31-4zM2264 379l33 7 18-3-33-6zM2246 382l33 7 18-3-33-7z"/><path class="k45" d="M2738 465l12 10 25-6-12-10zM2714 471l13 10 23-6-12-10z"/><path class="k23" d="M2908 565l10 10 28-8-10-10z"/><path class="k60" d="M2509 399l19 9 21-4-19-9zM2489 403l19 9 20-4-19-9z"/><path class="k54" d="M2622 427l15 10 22-5-15-10z"/><path class="k57" d="M2567 413l17 9 22-4-17-9zM2546 417l17 9 21-4-17-9z"/><path class="k47" d="M2701 461l13 10 24-6-13-10z"/><path class="k13" d="M2954 618l8 11 28-9-9-10z"/><path class="k11" d="M2962 629l9 10 27-8-8-11z"/><path class="k9" d="M2971 639l8 11 27-8-8-11z"/><path class="k7" d="M2979 650l8 11 28-8-9-11z"/><path class="k54" d="M2600 432l15 9 22-4-15-10zM2579 436l15 9 21-4-15-9z"/><path class="k4" d="M2987 661l8 11 28-9-8-10z"/><path class="k36" d="M2797 516l11 10 24-6-11-10zM2773 521l11 11 24-6-11-10zM2751 526l11 11 22-5-11-11z"/><path class="k23" d="M2882 572l10 11 26-8-10-10z"/><path class="k2" d="M2995 672l8 11 27-9-7-11z"/><path class="k43" d="M2727 481l12 10 23-6-12-10z"/><path class="k49" d="M2665 456l14 10 22-5-13-10zM2644 461l13 9 22-4-14-10z"/><path class="k21" d="M2892 583l9 10 26-7-9-11z"/><path class="k34" d="M2808 526l10 10 25-6-11-10zM2784 532l11 10 23-6-10-10z"/><path class="k59" d="M2508 412l18 9 20-4-18-9zM2488 415l18 10 20-4-18-9z"/><path class="k65" d="M2297 386l28 8 18-3-28-8zM2325 394l25 7 18-2-25-8zM2307 396l25 8 18-3-25-7z"/><path class="k52" d="M2615 441l15 10 21-5-14-9zM2588 459l14 10 21-4-14-10z"/><path class="k42" d="M2739 491l12 10 23-6-12-10zM2717 496l11 10 23-5-12-10zM2695 500l12 11 21-5-11-10z"/><path class="k19" d="M2901 593l9 11 26-7-9-11z"/><path class="k56" d="M2563 426l16 10 21-4-16-10zM2542 430l16 10 21-4-16-10z"/><path class="k32" d="M2818 536l10 11 25-6-10-11zM2795 542l10 10 23-5-10-11z"/><path class="k47" d="M2679 466l13 10 22-5-13-10z"/><path class="k60" d="M2469 407l19 8 20-3-19-9zM2468 419l18 9 20-3-18-10z"/><path class="k17" d="M2910 604l9 10 26-7-9-10z"/><path class="k64" d="M2343 391l25 8 19-3-25-8zM2368 399l23 8 18-3-22-8zM2350 401l23 9 18-3-23-8z"/><path class="k40" d="M2751 501l11 10 24-5-12-11zM2728 506l12 10 22-5-11-10z"/><path class="k62" d="M2429 401l20 9 20-3-21-9zM2409 404l21 9 19-3-20-9z"/><path class="k15" d="M2919 614l9 11 26-7-9-11z"/><path class="k30" d="M2828 547l10 10 25-6-10-10zM2805 552l10 11 23-6-10-10z"/><path class="k63" d="M2387 396l22 8 20-3-23-8zM2391 407l21 9 18-3-21-9z"/><path class="k51" d="M2630 451l14 10 21-5-14-10zM2609 455l14 10 21-4-14-10z"/><path class="k58" d="M2526 421l16 9 21-4-17-9zM2506 425l17 9 19-4-16-9zM2486 428l17 9 20-3-17-9z"/><path class="k13" d="M2928 625l8 11 26-7-8-11z"/><path class="k45" d="M2692 476l12 10 23-5-13-10z"/><path class="k28" d="M2838 557l10 11 25-7-10-10zM2815 563l10 10 23-5-10-11z"/><path class="k38" d="M2762 511l11 10 24-5-11-10zM2740 516l11 10 22-5-11-10z"/><path class="k11" d="M2936 636l9 11 26-8-9-10z"/><path class="k66" d="M2279 389l28 7 18-2-28-8z"/><path class="k26" d="M2848 568l10 10 24-6-9-11zM2825 573l10 11 23-6-10-10z"/><path class="k9" d="M2945 647l8 10 26-7-8-11z"/><path class="k44" d="M2704 486l13 10 22-5-12-10zM2683 490l12 10 22-4-13-10z"/><path class="k7" d="M2953 657l8 11 26-7-8-11z"/><path class="k24" d="M2858 578l9 11 25-6-10-11zM2835 584l9 11 23-6-9-11z"/><path class="k53" d="M2594 445l15 10 21-4-15-10zM2574 449l14 10 21-4-15-10z"/><path class="k61" d="M2449 410l19 9 20-4-19-8zM2430 413l19 9 19-3-19-9z"/><path class="k5" d="M2961 668l8 11 26-7-8-11zM2937 675l8 11 24-7-8-11z"/><path class="k3" d="M2969 679l8 11 26-7-8-11z"/><path class="k22" d="M2867 589l10 11 24-7-9-10zM2844 595l10 10 23-5-10-11z"/><path class="k48" d="M2657 470l13 10 22-4-13-10zM2636 475l13 9 21-4-13-10z"/><path class="k20" d="M2877 600l9 10 24-6-9-11z"/><path class="k55" d="M2558 440l16 9 20-4-15-9zM2539 443l15 10 20-4-16-9z"/><path class="k18" d="M2886 610l9 11 24-7-9-10z"/><path class="k46" d="M2670 480l13 10 21-4-12-10z"/><path class="k16" d="M2895 621l9 11 24-7-9-11z"/><path class="k14" d="M2904 632l8 10 24-6-8-11z"/><path class="k50" d="M2623 465l13 10 21-5-13-9z"/><path class="k57" d="M2523 434l16 9 19-3-16-10z"/><path class="k12" d="M2912 642l9 11 24-6-9-11z"/><path class="k10" d="M2921 653l8 11 24-7-8-10z"/><path class="k35" d="M2762 537l11 10 22-5-11-10z"/><path class="k8" d="M2929 664l8 11 24-7-8-11z"/><path class="k33" d="M2773 547l10 11 22-6-10-10zM2751 552l11 10 21-4-10-11z"/><path class="k60" d="M2449 422l18 9 19-3-18-9zM2431 436l17 10 18-3-17-9z"/><path class="k3" d="M2945 686l8 11 24-7-8-11z"/><path class="k41" d="M2707 511l11 10 22-5-12-10zM2686 515l12 10 20-4-11-10z"/><path class="k46" d="M2649 484l13 10 21-4-13-10zM2622 502l12 10 20-3-12-11z"/><path class="k20" d="M2854 605l9 11 23-6-9-10zM2820 626l9 11 21-5-9-11z"/><path class="k62" d="M2412 416l19 9 18-3-19-9zM2393 418l20 9 18-2-19-9zM2395 430l18 9 18-3-18-9z"/><path class="k65" d="M2332 404l23 8 18-2-23-9z"/><path class="k63" d="M2373 410l20 8 19-2-21-9zM2375 421l20 9 18-3-20-9z"/><path class="k31" d="M2783 558l10 10 22-5-10-11zM2762 562l10 11 21-5-10-10z"/><path class="k18" d="M2863 616l9 11 23-6-9-11zM2829 637l8 11 22-5-9-11z"/><path class="k57" d="M2503 437l16 9 20-3-16-9zM2482 452l15 10 19-3-16-9z"/><path class="k50" d="M2602 469l14 9 20-3-13-10z"/><path class="k39" d="M2718 521l12 10 21-5-11-10zM2698 525l11 10 21-4-12-10z"/><path class="k54" d="M2554 453l15 9 19-3-14-10zM2535 456l14 10 20-4-15-9z"/><path class="k45" d="M2662 494l12 11 21-5-12-10zM2642 498l12 11 20-4-12-11z"/><path class="k16" d="M2872 627l9 10 23-5-9-11z"/><path class="k29" d="M2793 568l10 11 22-6-10-10zM2772 573l10 10 21-4-10-11z"/><path class="k14" d="M2881 637l8 11 23-6-8-10z"/><path class="k37" d="M2730 531l10 10 22-4-11-11zM2709 535l11 11 20-5-10-10z"/><path class="k59" d="M2467 431l17 9 19-3-17-9zM2449 434l17 9 18-3-17-9zM2448 446l16 9 18-3-16-9z"/><path class="k27" d="M2803 579l10 10 22-5-10-11zM2782 583l9 11 22-5-10-10z"/><path class="k48" d="M2616 478l13 10 20-4-13-9z"/><path class="k12" d="M2889 648l9 11 23-6-9-11z"/><path class="k43" d="M2674 505l12 10 21-4-12-11zM2654 509l12 10 20-4-12-10z"/><path class="k56" d="M2519 446l16 10 19-3-15-10zM2500 450l16 9 19-3-16-10z"/><path class="k61" d="M2431 425l18 9 18-3-18-9zM2413 427l18 9 18-2-18-9z"/><path class="k52" d="M2569 462l14 10 19-3-14-10z"/><path class="k35" d="M2740 541l11 11 22-5-11-10z"/><path class="k25" d="M2813 589l9 11 22-5-9-11zM2791 594l10 11 21-5-9-11z"/><path class="k10" d="M2898 659l8 11 23-6-8-11z"/><path class="k64" d="M2355 412l20 9 18-3-20-8z"/><path class="k8" d="M2906 670l8 11 23-6-8-11z"/><path class="k47" d="M2629 488l13 10 20-4-13-10zM2609 492l13 10 20-4-13-10z"/><path class="k23" d="M2822 600l10 11 22-6-10-10zM2801 605l9 10 22-4-10-11z"/><path class="k58" d="M2484 440l16 10 19-4-16-9zM2466 443l16 9 18-2-16-10z"/><path class="k6" d="M2914 681l8 11 23-6-8-11z"/><path class="k51" d="M2583 472l13 10 20-4-14-9zM2563 475l14 10 19-3-13-10z"/><path class="k21" d="M2832 611l9 10 22-5-9-11z"/><path class="k4" d="M2922 692l8 11 23-6-8-11z"/><path class="k19" d="M2841 621l9 11 22-5-9-11z"/><path class="k17" d="M2850 632l9 11 22-6-9-10z"/><path class="k49" d="M2596 482l13 10 20-4-13-10zM2577 485l13 10 19-3-13-10z"/><path class="k53" d="M2549 466l14 9 20-3-14-10zM2530 469l15 10 18-4-14-9z"/><path class="k15" d="M2859 643l8 11 22-6-8-11z"/><path class="k36" d="M2720 546l10 10 21-4-11-11z"/><path class="k13" d="M2867 654l9 11 22-6-9-11z"/><path class="k42" d="M2666 519l11 10 21-4-12-10z"/><path class="k11" d="M2876 665l8 10 22-5-8-11z"/><path class="k55" d="M2516 459l14 10 19-3-14-10z"/><path class="k34" d="M2730 556l11 11 21-5-11-10z"/><path class="k9" d="M2884 675l8 11 22-5-8-11z"/><path class="k40" d="M2677 529l12 10 20-4-11-10z"/><path class="k7" d="M2892 686l9 11 21-5-8-11z"/><path class="k22" d="M2810 615l10 11 21-5-9-10z"/><path class="k32" d="M2741 567l10 10 21-4-10-11z"/><path class="k5" d="M2901 697l8 11 21-5-8-11z"/><path class="k30" d="M2751 577l10 11 21-5-10-10z"/><path class="k38" d="M2689 539l11 11 20-4-11-11z"/><path class="k44" d="M2634 512l12 10 20-3-12-10z"/><path class="k28" d="M2761 588l10 10 20-4-9-11z"/><path class="k15" d="M2837 648l9 11 21-5-8-11zM2806 667l9 11 19-4-8-11z"/><path class="k36" d="M2700 550l10 10 20-4-10-10zM2653 571l11 10 18-3-10-11z"/><path class="k48" d="M2590 495l13 10 19-3-13-10zM2571 498l13 11 19-4-13-10zM2548 514l12 10 18-2-12-11z"/><path class="k55" d="M2497 462l15 10 18-3-14-10zM2476 477l14 10 18-3-14-10z"/><path class="k60" d="M2413 439l17 9 18-2-17-10z"/><path class="k42" d="M2646 522l12 11 19-4-11-10zM2602 542l11 11 18-3-11-11z"/><path class="k52" d="M2545 479l13 9 19-3-14-10zM2526 481l14 10 18-3-13-9zM2504 497l13 10 18-3-13-10z"/><path class="k26" d="M2771 598l9 11 21-4-10-11z"/><path class="k13" d="M2846 659l9 11 21-5-9-11zM2815 678l8 11 20-4-9-11z"/><path class="k34" d="M2710 560l11 11 20-4-11-11zM2682 578l11 11 19-4-11-11z"/><path class="k11" d="M2855 670l8 10 21-5-8-10zM2823 689l8 11 20-4-8-11z"/><path class="k24" d="M2780 609l10 11 20-5-9-10z"/><path class="k46" d="M2603 505l12 11 19-4-12-10z"/><path class="k40" d="M2658 533l11 10 20-4-12-10zM2631 550l11 10 19-3-11-11z"/><path class="k57" d="M2464 455l15 10 18-3-15-10z"/><path class="k9" d="M2863 680l8 11 21-5-8-11zM2831 700l9 11 19-4-8-11z"/><path class="k32" d="M2721 571l10 10 20-4-10-10zM2693 589l10 10 19-3-10-11z"/><path class="k50" d="M2558 488l13 10 19-3-13-10zM2540 491l13 10 18-3-13-10z"/><path class="k54" d="M2512 472l14 9 19-2-15-10zM2494 474l14 10 18-3-14-9z"/><path class="k22" d="M2790 620l9 11 21-5-10-11z"/><path class="k7" d="M2871 691l9 11 21-5-9-11zM2840 711l8 12 19-5-8-11z"/><path class="k59" d="M2430 448l16 10 18-3-16-9z"/><path class="k38" d="M2669 543l11 10 20-3-11-11zM2642 560l11 11 19-4-11-10z"/><path class="k44" d="M2615 516l12 10 19-4-12-10zM2590 532l12 10 18-3-12-10z"/><path class="k5" d="M2880 702l8 11 21-5-8-11z"/><path class="k20" d="M2799 631l9 10 21-4-9-11z"/><path class="k30" d="M2731 581l10 11 20-4-10-11zM2703 599l10 11 18-4-9-10z"/><path class="k56" d="M2479 465l15 9 18-2-15-10zM2461 467l15 10 18-3-15-9z"/><path class="k18" d="M2808 641l9 11 20-4-8-11z"/><path class="k29" d="M2741 592l10 11 20-5-10-10zM2722 596l9 10 20-3-10-11z"/><path class="k37" d="M2680 553l11 11 19-4-10-10zM2661 557l11 10 19-3-11-11z"/><path class="k43" d="M2627 526l12 10 19-3-12-11zM2608 529l12 10 19-3-12-10z"/><path class="k16" d="M2817 652l9 11 20-4-9-11z"/><path class="k27" d="M2751 603l9 10 20-4-9-11zM2731 606l10 11 19-4-9-10z"/><path class="k58" d="M2446 458l15 9 18-2-15-10z"/><path class="k35" d="M2691 564l10 10 20-3-11-11zM2672 567l10 11 19-4-10-10z"/><path class="k14" d="M2826 663l8 11 21-4-9-11z"/><path class="k47" d="M2584 509l12 10 19-3-12-11zM2566 511l12 11 18-3-12-10z"/><path class="k41" d="M2639 536l11 10 19-3-11-10zM2620 539l11 11 19-4-11-10z"/><path class="k25" d="M2760 613l10 11 20-4-10-11zM2741 617l10 11 19-4-10-11z"/><path class="k12" d="M2834 674l9 11 20-5-8-10z"/><path class="k33" d="M2701 574l11 11 19-4-10-10z"/><path class="k10" d="M2843 685l8 11 20-5-8-11z"/><path class="k23" d="M2770 624l9 11 20-4-9-11zM2751 628l9 11 19-4-9-11z"/><path class="k45" d="M2596 519l12 10 19-3-12-10zM2578 522l12 10 18-3-12-10z"/><path class="k39" d="M2650 546l11 11 19-4-11-10z"/><path class="k8" d="M2851 696l8 11 21-5-9-11z"/><path class="k31" d="M2712 585l10 11 19-4-10-11z"/><path class="k49" d="M2553 501l13 10 18-2-13-11zM2535 504l13 10 18-3-13-10z"/><path class="k21" d="M2779 635l9 11 20-5-9-10zM2760 639l9 11 19-4-9-11z"/><path class="k53" d="M2508 484l14 10 18-3-14-10zM2490 487l14 10 18-3-14-10z"/><path class="k6" d="M2859 707l8 11 21-5-8-11z"/><path class="k19" d="M2788 646l9 11 20-5-9-11zM2769 650l9 10 19-3-9-11z"/><path class="k17" d="M2797 657l9 10 20-4-9-11z"/><path class="k51" d="M2522 494l13 10 18-3-13-10z"/><path class="k17" d="M2778 660l9 11 19-4-9-10zM2750 679l8 11 19-4-9-11zM2732 682l8 11 18-3-8-11zM2705 699l9 11 17-3-8-11z"/><path class="k28" d="M2713 610l9 11 19-4-10-11zM2694 613l10 11 18-3-9-11zM2668 630l9 11 18-3-9-11z"/><path class="k15" d="M2787 671l8 11 20-4-9-11zM2758 690l9 11 18-4-8-11zM2740 693l9 11 18-3-9-11zM2714 710l9 11 17-3-9-11z"/><path class="k46" d="M2560 524l12 11 18-3-12-10z"/><path class="k26" d="M2722 621l10 10 19-3-10-11zM2677 641l10 11 18-3-10-11z"/><path class="k34" d="M2664 581l10 11 19-3-11-11zM2638 598l10 11 18-3-10-11zM2621 601l10 10 17-2-10-11z"/><path class="k50" d="M2517 507l13 10 18-3-13-10z"/><path class="k40" d="M2613 553l11 10 18-3-11-10zM2589 569l11 10 17-2-11-11z"/><path class="k13" d="M2795 682l9 11 19-4-8-11zM2767 701l8 11 19-4-9-11zM2749 704l8 11 18-3-8-11zM2723 721l8 11 17-3-8-11z"/><path class="k24" d="M2732 631l9 11 19-3-9-11zM2687 652l9 11 18-3-9-11z"/><path class="k32" d="M2674 592l10 11 19-4-10-10zM2648 609l10 10 18-3-10-10zM2631 611l10 11 17-3-10-10z"/><path class="k11" d="M2804 693l8 11 19-4-8-11zM2775 712l9 11 18-4-8-11zM2757 715l9 11 18-3-9-11zM2731 732l8 12 17-3-8-12z"/><path class="k44" d="M2572 535l12 10 18-3-12-10z"/><path class="k38" d="M2624 563l11 11 18-3-11-11zM2600 579l10 11 18-3-11-10z"/><path class="k22" d="M2741 642l9 11 19-3-9-11zM2696 663l9 11 18-3-9-11z"/><path class="k9" d="M2812 704l9 12 19-5-9-11zM2784 723l8 11 18-4-8-11zM2766 726l8 12 18-4-8-11z"/><path class="k48" d="M2530 517l12 10 18-3-12-10z"/><path class="k30" d="M2684 603l10 10 19-3-10-11zM2658 619l10 11 18-3-10-11zM2641 622l9 11 18-3-10-11z"/><path class="k7" d="M2821 716l8 11 19-4-8-12z"/><path class="k20" d="M2750 653l9 11 19-4-9-10zM2705 674l9 11 18-3-9-11z"/><path class="k43" d="M2584 545l11 11 18-3-11-11zM2566 548l12 10 17-2-11-11z"/><path class="k37" d="M2635 574l11 10 18-3-11-10zM2617 577l11 10 18-3-11-10z"/><path class="k18" d="M2759 664l9 11 19-4-9-11zM2714 685l9 11 17-3-8-11z"/><path class="k47" d="M2542 527l12 10 18-2-12-11z"/><path class="k35" d="M2646 584l10 11 18-3-10-11zM2628 587l10 11 18-3-10-11z"/><path class="k16" d="M2768 675l9 11 18-4-8-11zM2723 696l8 11 18-3-9-11z"/><path class="k27" d="M2704 624l9 11 19-4-10-10zM2686 627l9 11 18-3-9-11zM2660 644l9 11 18-3-10-11z"/><path class="k41" d="M2595 556l11 10 18-3-11-10zM2578 558l11 11 17-3-11-10z"/><path class="k14" d="M2777 686l8 11 19-4-9-11zM2731 707l9 11 17-3-8-11z"/><path class="k25" d="M2713 635l10 11 18-4-9-11zM2695 638l10 11 18-3-10-11zM2669 655l10 11 17-3-9-11z"/><path class="k45" d="M2554 537l12 11 18-3-12-10z"/><path class="k33" d="M2656 595l10 11 18-3-10-11z"/><path class="k39" d="M2606 566l11 11 18-3-11-11z"/><path class="k12" d="M2785 697l9 11 18-4-8-11zM2740 718l8 11 18-3-9-11z"/><path class="k23" d="M2723 646l9 11 18-4-9-11zM2705 649l9 11 18-3-9-11zM2679 666l9 11 17-3-9-11z"/><path class="k31" d="M2666 606l10 10 18-3-10-10z"/><path class="k10" d="M2794 708l8 11 19-3-9-12zM2748 729l8 12 18-3-8-12z"/><path class="k21" d="M2732 657l9 11 18-4-9-11zM2714 660l9 11 18-3-9-11zM2688 677l9 11 17-3-9-11z"/><path class="k8" d="M2802 719l8 11 19-3-8-11z"/><path class="k29" d="M2676 616l10 11 18-3-10-11zM2650 633l10 11 17-3-9-11z"/><path class="k19" d="M2741 668l9 11 18-4-9-11zM2723 671l9 11 18-3-9-11zM2697 688l8 11 18-3-9-11z"/><path class="k36" d="M2610 590l11 11 17-3-10-11z"/></g>
<line x1="398.5" y1="22.3" x2="526" y2="1.3" stroke="#222" stroke-width="1.1"/>
<line x1="526" y1="1.3" x2="669.9" y2="18.8" stroke="#222" stroke-width="1.1"/>
<line x1="661.5" y1="197.1" x2="669.9" y2="18.8" stroke="#222" stroke-width="1.2"/>
<line x1="405.6" y1="203.8" x2="546.9" y2="256.2" stroke="#000" stroke-width="1.5"/>
<line x1="546.9" y1="256.2" x2="661.5" y2="197.1" stroke="#000" stroke-width="1.5"/>
<line x1="405.6" y1="203.8" x2="398.5" y2="22.3" stroke="#000" stroke-width="1.6"/>
<g><line x1="401.6" y1="203.8" x2="405.6" y2="203.8" stroke="#000" stroke-width="1.2"/><line x1="400.5" y1="175" x2="404.5" y2="175" stroke="#000" stroke-width="1.2"/><line x1="399.3" y1="145.7" x2="403.3" y2="145.7" stroke="#000" stroke-width="1.2"/><line x1="398.2" y1="115.8" x2="402.2" y2="115.8" stroke="#000" stroke-width="1.2"/><line x1="397" y1="85.3" x2="401" y2="85.3" stroke="#000" stroke-width="1.2"/><line x1="395.7" y1="54.1" x2="399.7" y2="54.1" stroke="#000" stroke-width="1.2"/><line x1="394.5" y1="22.3" x2="398.5" y2="22.3" stroke="#000" stroke-width="1.2"/><line x1="405.6" y1="203.8" x2="400.7" y2="205.6" stroke="#000" stroke-width="1.2"/><line x1="418" y1="208.4" x2="413.1" y2="210.3" stroke="#000" stroke-width="1.2"/><line x1="430.6" y1="213.1" x2="425.7" y2="215" stroke="#000" stroke-width="1.2"/><line x1="443.7" y1="217.9" x2="438.8" y2="219.9" stroke="#000" stroke-width="1.2"/><line x1="457.1" y1="222.9" x2="452.2" y2="225" stroke="#000" stroke-width="1.2"/><line x1="471" y1="228.1" x2="466.1" y2="230.2" stroke="#000" stroke-width="1.2"/><line x1="485.2" y1="233.4" x2="480.4" y2="235.5" stroke="#000" stroke-width="1.2"/><line x1="499.9" y1="238.8" x2="495.1" y2="241.1" stroke="#000" stroke-width="1.2"/><line x1="515.1" y1="244.4" x2="510.3" y2="246.8" stroke="#000" stroke-width="1.2"/><line x1="530.8" y1="250.2" x2="526" y2="252.6" stroke="#000" stroke-width="1.2"/><line x1="546.9" y1="256.2" x2="542.1" y2="258.7" stroke="#000" stroke-width="1.2"/><line x1="560.2" y1="249.4" x2="566" y2="251.4" stroke="#000" stroke-width="1.2"/><line x1="585.5" y1="236.3" x2="591.2" y2="238.2" stroke="#000" stroke-width="1.2"/><line x1="609" y1="224.2" x2="614.7" y2="226" stroke="#000" stroke-width="1.2"/><line x1="631.1" y1="212.8" x2="636.6" y2="214.5" stroke="#000" stroke-width="1.2"/><line x1="651.7" y1="202.2" x2="657.1" y2="203.7" stroke="#000" stroke-width="1.2"/></g>
<g><text transform="translate(401.1 208.8) skewY(-20) scale(0.75 1)" text-anchor="end" class="tl" style="font-size:12px">100</text><text transform="translate(400 180) skewY(-18.2) scale(0.75 1)" text-anchor="end" class="tl" style="font-size:12px">110</text><text transform="translate(398.8 150.7) skewY(-16.3) scale(0.75 1)" text-anchor="end" class="tl" style="font-size:12px">120</text><text transform="translate(397.7 120.8) skewY(-14.5) scale(0.75 1)" text-anchor="end" class="tl" style="font-size:12px">130</text><text transform="translate(396.5 90.3) skewY(-12.7) scale(0.75 1)" text-anchor="end" class="tl" style="font-size:12px">140</text><text transform="translate(395.2 59.1) skewY(-10.8) scale(0.75 1)" text-anchor="end" class="tl" style="font-size:12px">150</text><text transform="translate(394 27.3) skewY(-9) scale(0.75 1)" text-anchor="end" class="tl" style="font-size:12px">160</text><text transform="translate(396.1 208.3) rotate(-22) skewX(-25) scale(1.0 0.72)" text-anchor="middle" dominant-baseline="central" class="tl" style="font-size:8.5px;font-weight:normal">400</text><text transform="translate(408.5 212.9) rotate(-22) skewX(-25) scale(1.0 0.72)" text-anchor="middle" dominant-baseline="central" class="tl" style="font-size:8.5px;font-weight:normal">420</text><text transform="translate(421.1 217.6) rotate(-22) skewX(-25) scale(1.0 0.72)" text-anchor="middle" dominant-baseline="central" class="tl" style="font-size:8.5px;font-weight:normal">440</text><text transform="translate(434.2 222.4) rotate(-22) skewX(-25) scale(1.0 0.72)" text-anchor="middle" dominant-baseline="central" class="tl" style="font-size:8.5px;font-weight:normal">460</text><text transform="translate(447.6 227.4) rotate(-22) skewX(-25) scale(1.0 0.72)" text-anchor="middle" dominant-baseline="central" class="tl" style="font-size:8.5px;font-weight:normal">480</text><text transform="translate(461.5 232.6) rotate(-22) skewX(-25) scale(1.0 0.72)" text-anchor="middle" dominant-baseline="central" class="tl" style="font-size:8.5px;font-weight:normal">500</text><text transform="translate(475.7 237.9) rotate(-22) skewX(-25) scale(1.0 0.72)" text-anchor="middle" dominant-baseline="central" class="tl" style="font-size:8.5px;font-weight:normal">520</text><text transform="translate(490.4 243.3) rotate(-22) skewX(-25) scale(1.0 0.72)" text-anchor="middle" dominant-baseline="central" class="tl" style="font-size:8.5px;font-weight:normal">540</text><text transform="translate(505.6 248.9) rotate(-22) skewX(-25) scale(1.0 0.72)" text-anchor="middle" dominant-baseline="central" class="tl" style="font-size:8.5px;font-weight:normal">560</text><text transform="translate(521.3 254.7) rotate(-22) skewX(-25) scale(1.0 0.72)" text-anchor="middle" dominant-baseline="central" class="tl" style="font-size:8.5px;font-weight:normal">580</text><text transform="translate(537.4 260.7) rotate(-22) skewX(-25) scale(1.0 0.72)" text-anchor="middle" dominant-baseline="central" class="tl" style="font-size:8.5px;font-weight:normal">600</text><text transform="translate(565.2 252.9) rotate(20) skewX(-43) scale(1.0 0.8)" text-anchor="start" dominant-baseline="central" class="tv" style="font-size:9px;font-weight:normal">26</text><text transform="translate(590.5 239.8) rotate(20) skewX(-43) scale(1.0 0.8)" text-anchor="start" dominant-baseline="central" class="tv" style="font-size:9px;font-weight:normal">28</text><text transform="translate(614 227.7) rotate(20) skewX(-43) scale(1.0 0.8)" text-anchor="start" dominant-baseline="central" class="tv" style="font-size:9px;font-weight:normal">30</text><text transform="translate(636.1 216.3) rotate(20) skewX(-43) scale(1.0 0.8)" text-anchor="start" dominant-baseline="central" class="tv" style="font-size:9px;font-weight:normal">32</text><text transform="translate(656.7 205.7) rotate(20) skewX(-43) scale(1.0 0.8)" text-anchor="start" dominant-baseline="central" class="tv" style="font-size:9px;font-weight:normal">34</text><text transform="translate(374.2 122.1) rotate(90)" text-anchor="middle" dominant-baseline="central" class="tt" style="font-size:12.9px;font-weight:bold">Maximum stress value(Mpa)</text><text transform="translate(447.7 240) rotate(21) skewX(-12) scale(1 0.8)" text-anchor="middle" dominant-baseline="central" class="tt" style="font-size:10.6px;font-weight:normal">Spindle speed(r/min)</text><text transform="translate(632.6 231.8) rotate(-24.5) skewX(-27) scale(1 0.85)" text-anchor="middle" dominant-baseline="central" class="tv" style="font-size:9.3px;font-weight:normal">Working angle(°)</text><text x="349" y="25" class="pl" style="font-size:18px">(b)</text></g>
<g><line x1="60.5" y1="495.5" x2="179.5" y2="450.8" stroke="#d9d9d9" stroke-width="0.8"/><line x1="179.5" y1="450.8" x2="313.5" y2="487.7" stroke="#d9d9d9" stroke-width="0.8"/><line x1="59.3" y1="467" x2="179.5" y2="426" stroke="#d9d9d9" stroke-width="0.8"/><line x1="179.5" y1="426" x2="314.9" y2="459.9" stroke="#d9d9d9" stroke-width="0.8"/><line x1="58" y1="437.9" x2="179.5" y2="400.7" stroke="#d9d9d9" stroke-width="0.8"/><line x1="179.5" y1="400.7" x2="316.3" y2="431.5" stroke="#d9d9d9" stroke-width="0.8"/><line x1="56.7" y1="408.3" x2="179.5" y2="375" stroke="#d9d9d9" stroke-width="0.8"/><line x1="179.5" y1="375" x2="317.7" y2="402.6" stroke="#d9d9d9" stroke-width="0.8"/><line x1="55.4" y1="377.9" x2="179.5" y2="348.8" stroke="#d9d9d9" stroke-width="0.8"/><line x1="179.5" y1="348.8" x2="319.2" y2="373" stroke="#d9d9d9" stroke-width="0.8"/><line x1="54.1" y1="346.9" x2="179.5" y2="322.1" stroke="#d9d9d9" stroke-width="0.8"/><line x1="179.5" y1="322.1" x2="320.7" y2="342.8" stroke="#d9d9d9" stroke-width="0.8"/><line x1="52.7" y1="315.3" x2="179.5" y2="294.9" stroke="#d9d9d9" stroke-width="0.8"/><line x1="179.5" y1="294.9" x2="322.2" y2="312" stroke="#d9d9d9" stroke-width="0.8"/><line x1="74.2" y1="490.4" x2="67.3" y2="312.9" stroke="#d9d9d9" stroke-width="0.8"/><line x1="100.1" y1="480.6" x2="95.2" y2="308.5" stroke="#d9d9d9" stroke-width="0.8"/><line x1="124.5" y1="471.4" x2="121.2" y2="304.3" stroke="#d9d9d9" stroke-width="0.8"/><line x1="147.5" y1="462.8" x2="145.6" y2="300.4" stroke="#d9d9d9" stroke-width="0.8"/><line x1="169.2" y1="454.7" x2="168.6" y2="296.7" stroke="#d9d9d9" stroke-width="0.8"/><line x1="191.5" y1="454.1" x2="192.2" y2="296.5" stroke="#d9d9d9" stroke-width="0.8"/><line x1="203.7" y1="457.5" x2="205.2" y2="298" stroke="#d9d9d9" stroke-width="0.8"/><line x1="216.3" y1="460.9" x2="218.5" y2="299.6" stroke="#d9d9d9" stroke-width="0.8"/><line x1="229.1" y1="464.4" x2="232.1" y2="301.2" stroke="#d9d9d9" stroke-width="0.8"/><line x1="242.3" y1="468.1" x2="246.1" y2="302.9" stroke="#d9d9d9" stroke-width="0.8"/><line x1="255.9" y1="471.8" x2="260.5" y2="304.6" stroke="#d9d9d9" stroke-width="0.8"/><line x1="269.7" y1="475.6" x2="275.3" y2="306.4" stroke="#d9d9d9" stroke-width="0.8"/><line x1="283.9" y1="479.5" x2="290.5" y2="308.2" stroke="#d9d9d9" stroke-width="0.8"/><line x1="298.5" y1="483.5" x2="306.1" y2="310.1" stroke="#d9d9d9" stroke-width="0.8"/></g>
<path d="M60.5 495.5L201.1 546.5L313.5 487.7L179.5 450.8Z" fill="#cecece"/>
<g transform="scale(.2)" fill="none" stroke-width="5.5"><path d="M1515 2424l-28 34-29 38" stroke="#7328fa"/><path d="M1460 2409l-30 35-29 36-27 36-26 37" stroke="#288cfa"/><path d="M1402 2393l-44 50-43 53-39 54-40 62" stroke="#1ee178"/><path d="M1340 2376l-31 32-28 32-29 35-26 35-26 37-26 39-26 42-25 43" stroke="#8ce61e"/><path d="M1272 2357l-36 36-36 40-33 42-33 44-34 50-30 50-32 56-30 56" stroke="#f5e61e"/><path d="M1195 2336l-37 36-35 38-34 41-31 42-31 46-31 50-33 57-31 60" stroke="#fa8c28"/><path d="M1104 2311l-35 33-33 35-32 38-30 41-31 46-29 50-32 59-32 63" stroke="#eb2828"/><path d="M978 2276l-30 28-28 32-26 34-25 39-27 47-27 54-29 62-30 70" stroke="#e11e1e"/><path d="M608 2363l10 4 11 7 7 6 7 8 5 8 6 12 3 12 3 13 1 30-3 38-8 44-12 54" stroke="#b41919"/></g>
<line x1="60.5" y1="495.5" x2="179.5" y2="450.8" stroke="#333" stroke-width="0.9"/>
<line x1="179.5" y1="450.8" x2="313.5" y2="487.7" stroke="#333" stroke-width="0.9"/>
<line x1="179.5" y1="450.8" x2="179.5" y2="294.9" stroke="#333" stroke-width="1.2"/>
<g transform="scale(.2)" stroke-width="2" stroke-linejoin="round"><path class="k60" d="M878 1658l32 9 19-3-31-9zM858 1661l32 8 20-2-32-9zM871 1672l29 9 20-2-30-10zM851 1675l29 9 20-3-29-9zM831 1677l30 9 19-2-29-9zM861 1686l28 10 19-3-28-9zM841 1689l28 9 20-2-28-10zM821 1691l28 9 20-2-28-9zM829 1702l27 9 20-1-27-10zM809 1704l27 9 20-2-27-9z"/><path class="k59" d="M910 1667l29 9 20-2-30-10zM890 1669l30 10 19-3-29-9zM900 1681l28 10 20-2-28-10zM880 1684l28 9 20-2-28-10zM889 1696l26 9 20-2-27-10zM869 1698l27 10 19-3-26-9zM849 1700l27 10 20-2-27-10zM856 1711l25 10 20-2-25-9z"/><path class="k61" d="M839 1663l32 9 19-3-32-8zM819 1666l32 9 20-3-32-9zM799 1669l32 8 20-2-32-9zM779 1672l32 8 20-3-32-8zM811 1680l30 9 20-3-30-9zM791 1682l30 9 20-2-30-9zM771 1685l30 8 20-2-30-9zM801 1693l28 9 20-2-28-9zM781 1695l28 9 20-2-28-9z"/><path class="k58" d="M939 1676l28 10 19-2-27-10zM920 1679l28 10 19-3-28-10zM928 1691l27 10 19-2-26-10zM908 1693l27 10 20-2-27-10zM896 1708l25 10 20-2-26-11zM876 1710l25 9 20-1-25-10z"/><path class="k57" d="M967 1686l26 11 20-3-27-10zM948 1689l26 10 19-2-26-11zM955 1701l25 11 19-3-25-10zM935 1703l25 11 20-2-25-11zM915 1705l26 11 19-2-25-11zM921 1718l24 10 20-2-24-10zM901 1719l25 11 19-2-24-10z"/><path class="k56" d="M993 1697l26 10 19-2-25-11zM974 1699l25 10 20-2-26-10zM960 1714l25 10 19-2-24-10zM941 1716l24 10 20-2-25-10zM945 1728l24 11 20-2-24-11z"/><path class="k54" d="M1019 1707l24 11 19-2-24-11zM1023 1720l24 11 19-2-23-11zM1004 1722l23 11 20-2-24-11zM989 1737l22 11 20-2-23-11z"/><path class="k53" d="M1043 1718l23 11 19-2-23-11zM1027 1733l23 11 19-1-22-12zM1008 1735l23 11 19-2-23-11z"/><path class="k55" d="M999 1709l24 11 20-2-24-11zM980 1712l24 10 19-2-24-11zM985 1724l23 11 19-2-23-11zM965 1726l24 11 19-2-23-11z"/><path class="k62" d="M759 1674l32 8 20-2-32-8zM739 1677l32 8 20-3-32-8zM719 1679l32 8 20-2-32-8zM751 1687l30 8 20-2-30-8zM731 1689l29 8 21-2-30-8zM760 1697l29 9 20-2-28-9z"/><path class="k52" d="M1066 1729l23 12 19-2-23-12zM1047 1731l22 12 20-2-23-12zM1031 1746l22 12 19-2-22-12zM1011 1748l22 11 20-1-22-12z"/><path class="k50" d="M1089 1741l21 11 19-2-21-11zM1072 1756l21 11 19-1-21-12zM1053 1758l21 11 19-2-21-11z"/><path class="k49" d="M1110 1752l22 12 19-2-22-12zM1091 1754l21 12 20-2-22-12z"/><path class="k51" d="M1069 1743l22 11 19-2-21-11zM1050 1744l22 12 19-2-22-11z"/><path class="k47" d="M1132 1764l20 12 19-2-20-12zM1114 1779l20 12 19-1-20-12z"/><path class="k46" d="M1152 1776l20 12 19-2-20-12zM1133 1778l20 12 19-2-20-12z"/><path class="k63" d="M698 1682l33 7 20-2-32-8zM678 1684l32 7 21-2-33-7zM658 1686l32 7 20-2-32-7zM710 1691l30 8 20-2-29-8z"/><path class="k48" d="M1112 1766l21 12 19-2-20-12zM1093 1767l21 12 19-1-21-12z"/><path class="k44" d="M1172 1788l20 12 19-1-20-13z"/><path class="k42" d="M1192 1800l19 13 19-2-19-12z"/><path class="k41" d="M1211 1813l19 12 19-1-19-13z"/><path class="k45" d="M1153 1790l20 12 19-2-20-12z"/><path class="k39" d="M1230 1825l18 13 19-2-18-12z"/><path class="k43" d="M1173 1802l19 12 19-1-19-13z"/><path class="k37" d="M1248 1838l19 13 18-2-18-13z"/><path class="k49" d="M1074 1769l21 12 19-2-21-12zM1056 1784l21 11 19-1-20-12z"/><path class="k41" d="M1192 1814l19 13 19-2-19-12zM1173 1829l19 13 19-2-19-12z"/><path class="k54" d="M969 1739l23 10 19-1-22-11zM972 1751l22 11 20-1-22-12zM952 1753l23 10 19-1-22-11z"/><path class="k45" d="M1134 1791l20 12 19-1-20-12zM1116 1806l19 12 19-1-19-12z"/><path class="k64" d="M637 1689l32 7 21-3-32-7zM616 1691l32 7 21-2-32-7zM648 1698l31 7 20-2-30-7zM628 1700l30 7 21-2-31-7z"/><path class="k36" d="M1267 1851l17 12 19-1-18-13zM1248 1852l18 13 18-2-17-12z"/><path class="k56" d="M926 1730l23 10 20-1-24-11zM910 1743l22 11 20-1-23-11z"/><path class="k51" d="M1033 1759l22 12 19-2-21-11zM1016 1773l21 12 19-1-21-12z"/><path class="k63" d="M690 1693l30 8 20-2-30-8zM669 1696l30 7 21-2-30-8zM699 1703l29 8 20-1-28-9zM679 1705l28 8 21-2-29-8z"/><path class="k58" d="M881 1721l25 10 20-1-25-11zM861 1723l25 10 20-2-25-10zM866 1735l24 10 20-2-24-10z"/><path class="k40" d="M1211 1827l19 12 18-1-18-13zM1192 1828l19 12 19-1-19-12zM1192 1842l18 12 19-1-18-13z"/><path class="k48" d="M1095 1781l20 12 19-2-20-12zM1076 1782l20 12 19-1-20-12z"/><path class="k62" d="M740 1699l28 9 21-2-29-9zM720 1701l28 9 20-2-28-9zM748 1710l27 9 20-2-27-9zM728 1711l27 9 20-1-27-9z"/><path class="k44" d="M1154 1803l19 13 19-2-19-12zM1135 1805l19 12 19-1-19-13zM1135 1818l19 12 19-1-19-12z"/><path class="k59" d="M836 1713l25 10 20-2-25-10zM841 1725l25 10 20-2-25-10zM821 1726l25 10 20-1-25-10z"/><path class="k61" d="M789 1706l27 9 20-2-27-9zM768 1708l27 9 21-2-27-9zM775 1719l26 9 20-2-26-9z"/><path class="k34" d="M1284 1863l18 13 18-1-17-13zM1265 1879l17 13 19-1-18-13z"/><path class="k53" d="M992 1749l22 12 19-2-22-11zM975 1763l21 12 20-2-22-11z"/><path class="k38" d="M1230 1839l18 13 19-1-19-13zM1210 1854l18 13 19-1-18-13z"/><path class="k50" d="M1055 1771l21 11 19-1-21-12zM1035 1772l21 12 20-2-21-11zM1037 1785l20 11 20-1-21-11z"/><path class="k55" d="M949 1740l23 11 20-2-23-10zM929 1742l23 11 20-2-23-11zM932 1754l23 11 20-2-23-10z"/><path class="k42" d="M1173 1816l19 12 19-1-19-13zM1154 1830l19 13 19-1-19-13z"/><path class="k46" d="M1115 1793l20 12 19-2-20-12zM1097 1807l19 12 19-1-19-12z"/><path class="k32" d="M1302 1876l17 13 19-1-18-13zM1282 1892l17 13 19-1-17-13z"/><path class="k57" d="M906 1731l23 11 20-2-23-10zM886 1733l24 10 19-1-23-11z"/><path class="k52" d="M1014 1761l21 11 20-1-22-12zM994 1762l22 11 19-1-21-11z"/><path class="k30" d="M1319 1889l17 14 18-2-16-13z"/><path class="k60" d="M816 1715l25 10 20-2-25-10zM795 1717l26 9 20-1-25-10z"/><path class="k35" d="M1266 1865l17 13 19-2-18-13zM1247 1866l18 13 18-1-17-13z"/><path class="k65" d="M595 1693l33 7 20-2-32-7zM574 1695l33 7 21-2-33-7zM553 1697l33 6 21-1-33-7z"/><path class="k28" d="M1336 1903l17 13 18-1-17-14z"/><path class="k39" d="M1211 1840l18 13 19-1-18-13z"/><path class="k47" d="M1096 1794l20 12 19-1-20-12zM1077 1795l20 12 19-1-20-12z"/><path class="k43" d="M1154 1817l19 12 19-1-19-12z"/><path class="k33" d="M1283 1878l18 13 18-2-17-13z"/><path class="k27" d="M1353 1916l16 13 19-1-17-13zM1335 1917l16 13 18-1-16-13z"/><path class="k37" d="M1229 1853l18 13 19-1-18-13z"/><path class="k25" d="M1369 1929l17 14 18-1-16-14z"/><path class="k31" d="M1301 1891l17 13 18-1-17-14z"/><path class="k23" d="M1386 1943l16 13 18-1-16-13z"/><path class="k29" d="M1318 1904l17 13 18-1-17-13z"/><path class="k21" d="M1402 1956l15 14 18-1-15-14z"/><path class="k19" d="M1417 1970l16 14 18-1-16-14z"/><path class="k26" d="M1351 1930l16 14 19-1-17-14z"/><path class="k17" d="M1433 1984l16 13 17-1-15-13zM1413 1999l15 14 18-1-15-14z"/><path class="k65" d="M607 1702l30 7 21-2-30-7zM586 1703l30 7 21-1-30-7zM616 1710l29 8 20-2-28-7z"/><path class="k57" d="M890 1745l23 10 19-1-22-11zM869 1746l24 11 20-2-23-10z"/><path class="k36" d="M1228 1867l18 13 19-1-18-13zM1208 1882l18 13 19-1-18-13z"/><path class="k24" d="M1367 1944l17 13 18-1-16-13z"/><path class="k52" d="M996 1775l21 11 20-1-21-12zM976 1776l21 11 20-1-21-11z"/><path class="k30" d="M1299 1905l17 13 19-1-17-13z"/><path class="k15" d="M1449 1997l15 14 18-1-16-14z"/><path class="k58" d="M846 1736l23 10 21-1-24-10zM849 1748l23 10 21-1-24-11z"/><path class="k40" d="M1173 1843l18 12 19-1-18-12z"/><path class="k64" d="M658 1707l28 8 21-2-28-8zM637 1709l28 7 21-1-28-8zM665 1716l28 9 20-2-27-8z"/><path class="k48" d="M1057 1796l20 12 20-1-20-12z"/><path class="k44" d="M1116 1819l19 12 19-1-19-12z"/><path class="k60" d="M801 1728l24 10 21-2-25-10zM780 1729l25 10 20-1-24-10z"/><path class="k63" d="M707 1713l27 9 21-2-27-9zM686 1715l27 8 21-1-27-9z"/><path class="k61" d="M755 1720l25 9 21-1-26-9zM760 1731l25 9 20-1-25-10z"/><path class="k22" d="M1384 1957l15 14 18-1-15-14z"/><path class="k13" d="M1464 2011l15 14 18-1-15-14z"/><path class="k54" d="M955 1765l21 11 20-1-21-12zM935 1766l22 11 19-1-21-11z"/><path class="k66" d="M532 1699l33 6 21-2-33-6zM511 1701l33 6 21-2-33-6zM565 1705l30 7 21-2-30-7zM544 1707l30 7 21-2-30-7z"/><path class="k34" d="M1246 1880l17 13 19-1-17-13zM1245 1894l17 13 19-1-18-13z"/><path class="k28" d="M1316 1918l17 13 18-1-16-13z"/><path class="k39" d="M1191 1855l19 13 18-1-18-13zM1172 1856l19 13 19-1-19-13z"/><path class="k11" d="M1479 2025l15 14 18-1-15-14zM1476 2040l15 14 18-1-15-14z"/><path class="k50" d="M1017 1786l21 12 19-2-20-11z"/><path class="k20" d="M1399 1971l16 13 18 0-16-14z"/><path class="k55" d="M913 1755l22 11 20-1-23-11zM915 1767l22 11 20-1-22-11z"/><path class="k43" d="M1135 1831l19 13 19-1-19-13zM1116 1832l19 13 19-1-19-13z"/><path class="k47" d="M1077 1808l20 12 19-1-19-12zM1058 1809l19 12 20-1-20-12z"/><path class="k33" d="M1263 1893l18 13 18-1-17-13z"/><path class="k27" d="M1333 1931l16 14 18-1-16-14zM1314 1932l17 14 18-1-16-14z"/><path class="k9" d="M1494 2039l15 14 17-1-14-14zM1491 2054l15 14 17-1-14-14z"/><path class="k18" d="M1415 1984l16 14 18-1-16-13z"/><path class="k37" d="M1210 1868l17 13 19-1-18-13z"/><path class="k59" d="M825 1738l24 10 20-2-23-10zM805 1739l24 10 20-1-24-10z"/><path class="k7" d="M1509 2053l14 14 18-1-15-14zM1506 2068l14 14 18-1-15-14z"/><path class="k25" d="M1349 1945l16 13 19-1-17-13z"/><path class="k31" d="M1281 1906l17 13 18-1-17-13z"/><path class="k49" d="M1038 1798l20 11 19-1-20-12zM1018 1799l20 11 20-1-20-11z"/><path class="k41" d="M1154 1844l18 12 19-1-18-12z"/><path class="k16" d="M1431 1998l15 14 18-1-15-14z"/><path class="k62" d="M734 1722l26 9 20-2-25-9zM713 1723l26 9 21-1-26-9z"/><path class="k45" d="M1097 1820l19 12 19-1-19-12z"/><path class="k6" d="M1523 2067l15 14 17-1-14-14z"/><path class="k23" d="M1365 1958l16 14 18-1-15-14z"/><path class="k35" d="M1227 1881l18 13 18-1-17-13z"/><path class="k14" d="M1446 2012l15 14 18-1-15-14z"/><path class="k29" d="M1298 1919l16 13 19-1-17-13z"/><path class="k4" d="M1538 2081l14 15 18-1-15-15z"/><path class="k51" d="M997 1787l21 12 20-1-21-12z"/><path class="k56" d="M893 1757l22 10 20-1-22-11z"/><path class="k12" d="M1461 2026l15 14 18-1-15-14z"/><path class="k21" d="M1381 1972l16 13 18-1-16-13z"/><path class="k2" d="M1552 2096l15 14 17-1-14-14z"/><path class="k53" d="M957 1777l21 11 19-1-21-11z"/><path class="k67" d="M490 1703l32 6 22-2-33-6z"/><path class="k19" d="M1397 1985l16 14 18-1-16-14z"/><path class="k38" d="M1191 1869l17 13 19-1-17-13z"/><path class="k26" d="M1331 1946l16 13 18-1-16-13z"/><path class="k42" d="M1135 1845l18 12 19-1-18-12z"/><path class="k32" d="M1262 1907l17 13 19-1-17-13z"/><path class="k46" d="M1077 1821l20 12 19-1-19-12z"/><path class="k24" d="M1347 1959l16 14 18-1-16-14z"/><path class="k57" d="M872 1758l23 10 20-1-22-10zM852 1759l23 11 20-2-23-10z"/><path class="k52" d="M978 1788l20 12 20-1-21-12zM958 1789l20 12 20-1-20-12z"/><path class="k30" d="M1279 1920l17 13 18-1-16-13z"/><path class="k15" d="M1428 2013l15 14 18-1-15-14zM1425 2028l15 13 18 0-15-14z"/><path class="k40" d="M1153 1857l18 13 20-1-19-13zM1152 1871l18 12 19-1-18-12z"/><path class="k5" d="M1520 2082l15 15 17-1-14-15z"/><path class="k48" d="M1038 1810l20 12 19-1-19-12z"/><path class="k65" d="M595 1712l29 7 21-1-29-8zM624 1719l27 8 21-1-27-8zM602 1721l28 8 21-2-27-8z"/><path class="k44" d="M1097 1833l18 13 20-1-19-13zM1096 1847l19 12 19-1-19-12z"/><path class="k58" d="M829 1749l23 10 20-1-23-10zM832 1760l22 11 21-1-23-11z"/><path class="k67" d="M468 1705l33 5 21-1-32-6zM447 1707l32 5 22-2-33-5zM501 1710l30 7 21-2-30-6zM479 1712l31 6 21-1-30-7z"/><path class="k22" d="M1363 1973l16 13 18-1-16-13z"/><path class="k13" d="M1443 2027l15 14 18-1-15-14zM1440 2041l15 15 18-1-15-14z"/><path class="k34" d="M1226 1895l17 12 19 0-17-13zM1224 1908l17 13 19 0-17-14z"/><path class="k3" d="M1535 2097l14 14 18-1-15-14z"/><path class="k60" d="M785 1740l24 10 20-1-24-10zM788 1751l23 10 21-1-23-10z"/><path class="k64" d="M645 1718l27 8 21-1-28-9zM672 1726l26 9 20-1-25-9zM651 1727l26 9 21-1-26-9z"/><path class="k54" d="M937 1778l21 11 20-1-21-11zM917 1779l21 11 20-1-21-11z"/><path class="k28" d="M1296 1933l16 13 19 0-17-14zM1294 1947l16 13 18 0-16-14z"/><path class="k62" d="M739 1732l25 10 21-2-25-9zM718 1734l25 9 21-1-25-10z"/><path class="k63" d="M693 1725l25 9 21-2-26-9zM698 1735l25 9 20-1-25-9z"/><path class="k39" d="M1171 1870l18 12 19 0-17-13z"/><path class="k12" d="M1458 2041l15 14 18-1-15-14z"/><path class="k20" d="M1379 1986l15 14 19-1-16-14z"/><path class="k50" d="M998 1800l20 11 20-1-20-11zM999 1812l19 12 20-1-20-12z"/><path class="k56" d="M895 1768l22 11 20-1-22-11zM875 1770l21 10 21-1-22-11z"/><path class="k43" d="M1115 1846l19 12 19-1-18-12z"/><path class="k47" d="M1058 1822l19 12 20-1-20-12zM1038 1823l20 12 19-1-19-12z"/><path class="k66" d="M522 1709l30 6 22-1-30-7zM574 1714l28 7 22-2-29-7zM552 1715l29 7 21-1-28-7z"/><path class="k33" d="M1243 1907l17 14 19-1-17-13z"/><path class="k27" d="M1312 1946l16 14 19-1-16-13z"/><path class="k10" d="M1473 2055l15 14 18-1-15-14z"/><path class="k18" d="M1394 2000l16 14 18-1-15-14z"/><path class="k37" d="M1189 1882l18 13 19 0-18-13z"/><path class="k8" d="M1488 2069l15 14 17-1-14-14z"/><path class="k25" d="M1328 1960l17 13 18 0-16-14z"/><path class="k31" d="M1260 1921l17 13 19-1-17-13z"/><path class="k59" d="M809 1750l23 10 20-1-23-10z"/><path class="k41" d="M1134 1858l18 13 19-1-18-13z"/><path class="k16" d="M1410 2014l15 14 18-1-15-14z"/><path class="k49" d="M1018 1811l20 12 20-1-20-12z"/><path class="k45" d="M1077 1834l19 13 19-1-18-13z"/><path class="k61" d="M764 1742l24 9 21-1-24-10zM743 1743l24 9 21-1-24-9z"/><path class="k6" d="M1503 2083l14 14 18 0-15-15z"/><path class="k23" d="M1345 1973l15 14 19-1-16-13z"/><path class="k35" d="M1207 1895l17 13 19-1-17-12z"/><path class="k29" d="M1277 1934l17 13 18-1-16-13z"/><path class="k4" d="M1517 2097l15 15 17-1-14-14z"/><path class="k51" d="M978 1801l21 11 19-1-20-11z"/><path class="k21" d="M1360 1987l16 14 18-1-15-14z"/><path class="k68" d="M425 1708l33 5 21-1-32-5z"/><path class="k11" d="M1455 2056l15 14 18-1-15-14z"/><path class="k53" d="M938 1790l21 12 19-1-20-12z"/><path class="k19" d="M1376 2001l16 13 18 0-16-14z"/><path class="k38" d="M1170 1883l18 13 19-1-18-13z"/><path class="k26" d="M1310 1960l16 14 19-1-17-13z"/><path class="k32" d="M1241 1921l17 13 19 0-17-13z"/><path class="k42" d="M1115 1859l18 12 19 0-18-13z"/><path class="k9" d="M1470 2070l15 14 18-1-15-14z"/><path class="k46" d="M1058 1835l19 12 19 0-19-13z"/><path class="k17" d="M1392 2014l15 14 18 0-15-14z"/><path class="k55" d="M896 1780l22 11 20-1-21-11z"/><path class="k7" d="M1485 2084l14 14 18-1-14-14z"/><path class="k36" d="M1188 1896l17 13 19-1-17-13z"/><path class="k24" d="M1326 1974l16 14 18-1-15-14z"/><path class="k30" d="M1258 1934l17 14 19-1-17-13z"/><path class="k16" d="M1407 2028l15 14 18-1-15-13z"/><path class="k52" d="M959 1802l20 11 20-1-21-11zM938 1803l21 11 20-1-20-11z"/><path class="k57" d="M854 1771l22 10 20-1-21-10z"/><path class="k40" d="M1133 1871l18 13 19-1-18-12zM1132 1885l17 12 20 0-18-13z"/><path class="k5" d="M1499 2098l15 14 18 0-15-15z"/><path class="k68" d="M403 1710l33 5 22-2-33-5zM458 1713l30 6 22-1-31-6zM436 1715l30 6 22-2-30-6zM488 1719l29 7 21-1-28-7z"/><path class="k67" d="M531 1717l29 7 21-2-29-7zM510 1718l28 7 22-1-29-7zM538 1725l27 7 22-1-27-7z"/><path class="k48" d="M1018 1824l20 12 20-1-20-12z"/><path class="k44" d="M1077 1847l18 13 20-1-19-12zM1076 1860l18 13 20-1-19-12z"/><path class="k59" d="M811 1761l23 11 20-1-22-11zM791 1762l22 10 21 0-23-11z"/><path class="k22" d="M1342 1988l16 13 18 0-16-14z"/><path class="k14" d="M1422 2042l15 14 18 0-15-15z"/><path class="k35" d="M1205 1909l17 13 19-1-17-13zM1186 1910l17 13 19-1-17-13z"/><path class="k28" d="M1275 1948l16 13 19-1-16-13zM1272 1962l17 13 18 0-16-14z"/><path class="k66" d="M581 1722l27 8 22-1-28-8zM560 1724l27 7 21-1-27-8zM587 1731l26 8 21-1-26-8z"/><path class="k54" d="M918 1791l20 12 21-1-21-12zM897 1792l21 11 20 0-20-12z"/><path class="k60" d="M767 1752l24 10 20-1-23-10zM770 1763l23 10 20-1-22-10z"/><path class="k65" d="M630 1729l26 8 21-1-26-9zM608 1730l26 8 22-1-26-8z"/><path class="k62" d="M723 1744l24 9 20-1-24-9zM726 1754l23 10 21-1-23-10z"/><path class="k39" d="M1151 1884l18 13 19-1-18-13z"/><path class="k12" d="M1437 2056l15 14 18 0-15-14z"/><path class="k63" d="M677 1736l25 9 21-1-25-9zM702 1745l24 9 21-1-24-9zM681 1746l24 9 21-1-24-9z"/><path class="k20" d="M1358 2001l15 14 19-1-16-13zM1355 2016l15 13 19 0-16-14z"/><path class="k50" d="M979 1813l20 12 19-1-19-12zM979 1826l19 11 20 0-19-12z"/><path class="k43" d="M1095 1860l19 12 19-1-18-12z"/><path class="k47" d="M1038 1836l19 12 20-1-19-12zM1018 1837l19 12 20-1-19-12z"/><path class="k33" d="M1222 1922l17 13 19-1-17-13z"/><path class="k27" d="M1291 1961l16 14 19-1-16-14z"/><path class="k56" d="M876 1781l21 11 21-1-22-11zM856 1782l21 11 20-1-21-11z"/><path class="k10" d="M1452 2070l15 14 18 0-15-14z"/><path class="k19" d="M1373 2015l16 14 18-1-15-14z"/><path class="k69" d="M381 1712l33 4 22-1-33-5zM359 1713l33 5 22-2-33-4zM414 1716l30 6 22-1-30-6z"/><path class="k37" d="M1169 1897l17 13 19-1-17-13z"/><path class="k58" d="M834 1772l22 10 20-1-22-10zM813 1772l22 11 21-1-22-10z"/><path class="k8" d="M1467 2084l15 15 17-1-14-14z"/><path class="k25" d="M1307 1975l16 13 19 0-16-14z"/><path class="k31" d="M1239 1935l17 13 19 0-17-14z"/><path class="k41" d="M1114 1872l18 13 19-1-18-13z"/><path class="k17" d="M1389 2029l15 14 18-1-15-14z"/><path class="k49" d="M999 1825l19 12 20-1-20-12z"/><path class="k45" d="M1057 1848l19 12 19 0-18-13z"/><path class="k6" d="M1482 2099l14 14 18-1-15-14z"/><path class="k61" d="M747 1753l23 10 21-1-24-10z"/><path class="k23" d="M1323 1988l16 14 19-1-16-13z"/><path class="k15" d="M1404 2043l15 14 18-1-15-14z"/><path class="k29" d="M1256 1948l16 14 19-1-16-13z"/><path class="k64" d="M656 1737l25 9 21-1-25-9z"/><path class="k51" d="M959 1814l20 12 20-1-20-12z"/><path class="k21" d="M1339 2002l16 14 18-1-15-14z"/><path class="k13" d="M1419 2057l15 14 18-1-15-14z"/><path class="k34" d="M1203 1923l17 13 19-1-17-13z"/><path class="k11" d="M1434 2071l15 14 18-1-15-14z"/><path class="k53" d="M918 1803l21 12 20-1-21-11z"/><path class="k38" d="M1149 1897l18 13 19 0-17-13z"/><path class="k26" d="M1289 1975l16 14 18-1-16-13z"/><path class="k32" d="M1220 1936l17 13 19-1-17-13z"/><path class="k42" d="M1094 1873l18 12 20 0-18-13z"/><path class="k9" d="M1449 2085l15 14 18 0-15-15z"/><path class="k46" d="M1037 1849l19 12 20-1-19-12z"/><path class="k18" d="M1370 2029l16 14 18 0-15-14z"/><path class="k55" d="M877 1793l21 11 20-1-21-11z"/><path class="k65" d="M634 1738l25 9 22-1-25-9zM613 1739l25 9 21-1-25-9z"/><path class="k7" d="M1464 2099l14 15 18-1-14-14z"/><path class="k36" d="M1167 1910l17 13 19 0-17-13zM1165 1924l17 13 19-1-17-13z"/><path class="k24" d="M1305 1989l16 13 18 0-16-14z"/><path class="k70" d="M337 1715l33 4 22-1-33-5zM315 1716l32 4 23-1-33-4zM370 1719l30 5 22-1-30-5z"/><path class="k30" d="M1237 1949l17 13 18 0-16-14zM1235 1963l16 13 19 0-16-14z"/><path class="k16" d="M1386 2043l15 14 18 0-15-14z"/><path class="k52" d="M939 1815l20 11 20 0-20-12z"/><path class="k57" d="M835 1783l22 11 20-1-21-11zM836 1794l21 11 21 0-21-11z"/><path class="k41" d="M1112 1885l18 13 19-1-17-12zM1093 1886l17 12 20 0-18-13z"/><path class="k68" d="M466 1721l29 6 22-1-29-7zM495 1727l27 7 22-1-27-7zM522 1734l26 8 22-1-26-8z"/><path class="k48" d="M998 1837l19 12 20 0-19-12zM997 1850l19 12 20-1-19-12z"/><path class="k44" d="M1056 1861l18 12 20 0-18-13zM1055 1874l18 12 20 0-19-13z"/><path class="k22" d="M1321 2002l15 14 19 0-16-14zM1318 2016l15 14 19 0-16-14z"/><path class="k14" d="M1401 2057l15 14 18 0-15-14z"/><path class="k35" d="M1184 1923l17 13 19 0-17-13z"/><path class="k59" d="M793 1773l22 11 20-1-22-11zM794 1784l21 11 21-1-21-10z"/><path class="k29" d="M1254 1962l16 14 19-1-17-13z"/><path class="k67" d="M517 1726l27 7 21-1-27-7zM544 1733l26 8 22-1-27-8z"/><path class="k54" d="M898 1804l20 11 21 0-21-12z"/><path class="k61" d="M749 1764l23 10 21-1-23-10zM728 1765l23 10 21-1-23-10z"/><path class="k39" d="M1130 1898l18 13 19-1-18-13z"/><path class="k69" d="M392 1718l30 5 22-1-30-6zM444 1722l29 6 22-1-29-6zM422 1723l29 6 22-1-29-6zM473 1728l27 7 22-1-27-7z"/><path class="k12" d="M1416 2071l15 15 18-1-15-14z"/><path class="k21" d="M1336 2016l16 14 18-1-15-13z"/><path class="k66" d="M565 1732l27 8 21-1-26-8zM592 1740l25 9 21-1-25-9z"/><path class="k50" d="M959 1826l19 12 20-1-19-11zM958 1838l19 12 20 0-19-12z"/><path class="k62" d="M705 1755l23 10 21-1-23-10z"/><path class="k43" d="M1074 1873l19 13 19-1-18-12z"/><path class="k64" d="M659 1747l25 9 21-1-24-9zM638 1748l24 9 22-1-25-9z"/><path class="k47" d="M1017 1849l19 12 20 0-19-12z"/><path class="k33" d="M1201 1936l17 13 19 0-17-13z"/><path class="k27" d="M1270 1976l16 13 19 0-16-14z"/><path class="k56" d="M857 1794l21 11 20-1-21-11z"/><path class="k10" d="M1431 2086l15 14 18-1-15-14zM1428 2100l14 14 18 0-14-14z"/><path class="k19" d="M1352 2030l15 14 19-1-16-14z"/><path class="k37" d="M1148 1911l17 13 19-1-17-13z"/><path class="k53" d="M918 1815l20 12 21-1-20-11zM898 1816l20 11 20 0-20-12z"/><path class="k58" d="M815 1784l21 10 21 0-22-11z"/><path class="k25" d="M1286 1989l16 14 19-1-16-13z"/><path class="k8" d="M1446 2100l14 14 18 0-14-15z"/><path class="k31" d="M1218 1949l17 14 19-1-17-13z"/><path class="k17" d="M1367 2044l16 14 18-1-15-14z"/><path class="k49" d="M978 1838l19 12 20-1-19-12z"/><path class="k45" d="M1036 1861l19 13 19-1-18-12z"/><path class="k60" d="M772 1774l22 10 21 0-22-11zM751 1775l22 10 21-1-22-10z"/><path class="k23" d="M1302 2003l16 13 18 0-15-14z"/><path class="k55" d="M878 1805l20 11 20-1-20-11z"/><path class="k15" d="M1383 2058l15 14 18-1-15-14z"/><path class="k63" d="M684 1756l23 10 21-1-23-10z"/><path class="k71" d="M292 1718l33 4 22-2-32-4zM347 1720l31 5 22-1-30-5zM270 1719l32 4 23-1-33-4z"/><path class="k40" d="M1110 1898l18 13 20 0-18-13z"/><path class="k51" d="M938 1827l20 11 20 0-19-12z"/><path class="k13" d="M1398 2072l15 14 18 0-15-15z"/><path class="k34" d="M1182 1937l17 13 19-1-17-13z"/><path class="k28" d="M1251 1976l16 14 19-1-16-13z"/><path class="k11" d="M1413 2086l15 14 18 0-15-14z"/><path class="k20" d="M1333 2030l16 14 18 0-15-14z"/><path class="k38" d="M1128 1911l17 13 20 0-17-13z"/><path class="k26" d="M1267 1990l16 13 19 0-16-14z"/><path class="k32" d="M1199 1950l17 13 19 0-17-14z"/><path class="k42" d="M1073 1886l18 13 19-1-17-12z"/><path class="k46" d="M1016 1862l19 12 20 0-19-13z"/><path class="k18" d="M1349 2044l15 14 19 0-16-14z"/><path class="k62" d="M707 1766l23 9 21 0-23-10zM709 1776l22 10 21 0-22-11zM687 1777l23 9 21 0-22-10z"/><path class="k55" d="M857 1805l21 11 20 0-20-11zM857 1817l20 11 21 0-20-12z"/><path class="k66" d="M570 1741l25 9 22-1-25-9zM595 1750l24 8 22 0-24-9zM573 1750l25 9 21-1-24-8z"/><path class="k37" d="M1145 1924l18 13 19 0-17-13z"/><path class="k64" d="M662 1757l24 9 21 0-23-10zM641 1758l23 9 22-1-24-9z"/><path class="k25" d="M1283 2003l16 14 19-1-16-13z"/><path class="k65" d="M617 1749l24 9 21-1-24-9zM619 1758l24 10 21-1-23-9z"/><path class="k31" d="M1216 1963l16 13 19 0-16-13z"/><path class="k16" d="M1364 2058l15 14 19 0-15-14zM1361 2072l15 15 18-1-15-14z"/><path class="k70" d="M400 1724l29 6 22-1-29-6zM429 1730l27 7 22-1-27-7zM406 1731l28 7 22-1-27-7z"/><path class="k52" d="M918 1827l20 12 20-1-20-11zM917 1839l20 12 20 0-19-12z"/><path class="k41" d="M1091 1899l18 12 19 0-18-13z"/><path class="k57" d="M815 1795l21 11 21-1-21-11zM816 1806l20 11 21 0-21-11z"/><path class="k48" d="M977 1850l19 12 20 0-19-12zM976 1863l19 12 20-1-19-12z"/><path class="k45" d="M1035 1874l18 12 20 0-18-12z"/><path class="k23" d="M1299 2017l16 14 18-1-15-14z"/><path class="k14" d="M1379 2072l15 14 19 0-15-14zM1376 2087l15 14 18 0-15-15z"/><path class="k35" d="M1163 1937l17 13 19 0-17-13z"/><path class="k29" d="M1232 1976l16 14 19 0-16-14z"/><path class="k59" d="M773 1785l21 10 21 0-21-11zM774 1796l21 11 21-1-22-11z"/><path class="k69" d="M451 1729l27 7 22-1-27-7zM478 1736l26 8 22-1-26-8zM456 1737l26 7 22 0-26-8z"/><path class="k71" d="M325 1722l30 4 23-1-31-5zM378 1725l28 6 23-1-29-6zM355 1726l29 6 22-1-28-6z"/><path class="k54" d="M878 1816l20 12 20-1-20-11zM877 1828l20 12 20-1-19-11z"/><path class="k39" d="M1109 1911l17 13 19 0-17-13zM1106 1925l18 12 19 0-17-13z"/><path class="k13" d="M1394 2086l15 15 19-1-15-14z"/><path class="k21" d="M1315 2031l15 13 19 0-16-14z"/><path class="k61" d="M730 1775l22 11 21-1-22-10zM731 1786l21 10 22 0-22-10z"/><path class="k68" d="M500 1735l26 8 22-1-26-8zM526 1743l26 8 21-1-25-8z"/><path class="k51" d="M938 1839l19 12 20-1-19-12z"/><path class="k43" d="M1053 1886l18 13 20 0-18-13zM1051 1899l18 13 20 0-18-13z"/><path class="k33" d="M1180 1950l16 13 20 0-17-13zM1177 1964l17 13 19 0-17-14z"/><path class="k27" d="M1248 1990l16 13 19 0-16-13zM1245 2004l16 13 19 0-16-14z"/><path class="k47" d="M996 1862l19 12 20 0-19-12zM995 1875l18 12 20 0-18-13z"/><path class="k63" d="M686 1766l23 10 21-1-23-9zM664 1767l23 10 22-1-23-10z"/><path class="k67" d="M548 1742l25 8 22 0-25-9z"/><path class="k56" d="M836 1806l21 11 21-1-21-11zM836 1817l20 11 21 0-20-11z"/><path class="k11" d="M1409 2101l15 14 18-1-14-14z"/><path class="k19" d="M1330 2044l16 14 18 0-15-14zM1327 2059l15 14 19-1-15-14z"/><path class="k38" d="M1126 1924l17 13 20 0-18-13z"/><path class="k26" d="M1264 2003l16 14 19 0-16-14z"/><path class="k53" d="M898 1828l19 11 21 0-20-12z"/><path class="k58" d="M794 1795l22 11 20 0-21-11z"/><path class="k32" d="M1196 1963l17 14 19-1-16-13z"/><path class="k42" d="M1071 1899l18 13 20-1-18-12z"/><path class="k17" d="M1346 2058l15 14 18 0-15-14z"/><path class="k49" d="M957 1851l19 12 20-1-19-12z"/><path class="k72" d="M302 1723l31 4 22-1-30-4z"/><path class="k46" d="M1015 1874l18 13 20-1-18-12z"/><path class="k60" d="M752 1786l22 10 20-1-21-10z"/><path class="k24" d="M1280 2017l16 14 19 0-16-14z"/><path class="k36" d="M1143 1937l17 13 20 0-17-13z"/><path class="k30" d="M1213 1977l16 13 19 0-16-14z"/><path class="k40" d="M1089 1912l17 13 20-1-17-13z"/><path class="k22" d="M1296 2031l16 14 18-1-15-13z"/><path class="k44" d="M1033 1887l18 12 20 0-18-13z"/><path class="k34" d="M1160 1950l17 14 19-1-16-13z"/><path class="k28" d="M1229 1990l16 14 19-1-16-13z"/><path class="k12" d="M1391 2101l15 14 18 0-15-14z"/><path class="k20" d="M1312 2045l15 14 19-1-16-14z"/><path class="k50" d="M937 1851l19 12 20 0-19-12z"/><path class="k37" d="M1124 1937l17 13 19 0-17-13zM1101 1951l17 13 20 0-17-13z"/><path class="k25" d="M1261 2017l16 14 19 0-16-14zM1239 2031l16 14 19 0-16-14z"/><path class="k68" d="M504 1744l26 8 22-1-26-8zM530 1752l24 8 22 0-24-9zM508 1752l24 8 22 0-24-8z"/><path class="k72" d="M333 1727l28 6 23-1-29-6zM361 1733l28 6 22-1-27-6z"/><path class="k31" d="M1194 1977l16 13 19 0-16-13z"/><path class="k64" d="M643 1768l23 9 21 0-23-10zM644 1777l23 10 21 0-22-10z"/><path class="k17" d="M1342 2073l15 14 19 0-15-15zM1320 2087l15 14 19 0-15-14z"/><path class="k67" d="M552 1751l24 9 22-1-25-9zM554 1760l24 9 22-1-24-8z"/><path class="k66" d="M598 1759l23 9 22 0-24-10zM576 1760l24 8 21 0-23-9zM600 1768l23 10 21-1-23-9z"/><path class="k52" d="M897 1840l19 11 21 0-20-12zM896 1851l19 12 20 0-19-12z"/><path class="k41" d="M1069 1912l18 13 19 0-17-13zM1067 1925l17 13 20 0-17-13z"/><path class="k58" d="M795 1807l20 11 21-1-20-11z"/><path class="k45" d="M1013 1887l18 12 20 0-18-12zM1011 1900l18 12 20 0-18-13z"/><path class="k49" d="M956 1863l18 12 21 0-19-12z"/><path class="k23" d="M1277 2031l16 14 19 0-16-14zM1274 2045l15 14 19 0-15-14z"/><path class="k15" d="M1357 2087l15 14 19 0-15-14z"/><path class="k35" d="M1141 1950l16 14 20 0-17-14zM1138 1964l17 13 19 0-17-13z"/><path class="k71" d="M384 1732l27 6 23 0-28-7zM411 1738l27 8 22-1-26-7zM389 1739l26 7 23 0-27-8z"/><path class="k29" d="M1210 1990l16 14 19 0-16-14zM1207 2004l16 13 19 0-16-13z"/><path class="k60" d="M752 1796l22 11 21 0-21-11zM731 1797l21 10 22 0-22-11z"/><path class="k55" d="M856 1828l20 12 21 0-20-12zM836 1829l19 11 21 0-20-12z"/><path class="k40" d="M1087 1925l17 13 20-1-18-12z"/><path class="k13" d="M1372 2101l15 14 19 0-15-14z"/><path class="k21" d="M1293 2045l15 14 19 0-15-14zM1289 2059l16 14 19 0-16-14z"/><path class="k70" d="M434 1738l26 7 22-1-26-7zM460 1745l25 8 23-1-26-8zM438 1746l25 7 22 0-25-8z"/><path class="k62" d="M710 1786l21 11 21-1-21-10zM688 1787l22 10 21 0-21-11z"/><path class="k51" d="M916 1851l19 12 21 0-19-12zM915 1863l19 12 20 0-19-12z"/><path class="k44" d="M1031 1899l18 13 20 0-18-13z"/><path class="k34" d="M1157 1964l17 13 20 0-17-13z"/><path class="k28" d="M1226 2004l16 13 19 0-16-13z"/><path class="k47" d="M974 1875l19 12 20 0-18-12zM973 1887l18 13 20 0-18-13z"/><path class="k63" d="M666 1777l22 10 22-1-23-9zM667 1787l21 10 22 0-22-10z"/><path class="k69" d="M482 1744l26 8 22 0-26-8z"/><path class="k57" d="M815 1818l21 11 20-1-20-11zM794 1818l21 11 21 0-21-11z"/><path class="k20" d="M1308 2059l16 14 18 0-15-14z"/><path class="k65" d="M621 1768l23 9 22 0-23-9zM623 1778l22 9 22 0-23-10z"/><path class="k38" d="M1104 1938l17 13 20-1-17-13z"/><path class="k26" d="M1242 2017l16 14 19 0-16-14z"/><path class="k53" d="M876 1840l20 11 20 0-19-11z"/><path class="k32" d="M1174 1977l17 13 19 0-16-13zM1171 1990l16 14 20 0-16-14z"/><path class="k59" d="M774 1807l20 11 21 0-20-11zM752 1807l21 11 21 0-20-11z"/><path class="k42" d="M1049 1912l18 13 20 0-18-13z"/><path class="k18" d="M1324 2073l15 14 18 0-15-14z"/><path class="k50" d="M935 1863l19 12 20 0-18-12z"/><path class="k46" d="M993 1887l18 13 20-1-18-12z"/><path class="k24" d="M1258 2031l16 14 19 0-16-14z"/><path class="k36" d="M1121 1951l17 13 19 0-16-14z"/><path class="k16" d="M1339 2087l15 14 18 0-15-14z"/><path class="k30" d="M1191 1990l16 14 19 0-16-14z"/><path class="k14" d="M1354 2101l15 14 18 0-15-14z"/><path class="k48" d="M954 1875l19 12 20 0-19-12z"/><path class="k39" d="M1084 1938l17 13 20 0-17-13z"/><path class="k54" d="M855 1840l20 12 21-1-20-11z"/><path class="k27" d="M1223 2017l16 14 19 0-16-14z"/><path class="k33" d="M1155 1977l16 13 20 0-17-13z"/><path class="k43" d="M1029 1912l18 13 20 0-18-13z"/><path class="k19" d="M1305 2073l15 14 19 0-15-14z"/><path class="k61" d="M710 1797l21 10 21 0-21-10z"/><path class="k56" d="M815 1829l20 11 20 0-19-11z"/><path class="k42" d="M1047 1925l17 13 20 0-17-13zM1026 1925l18 13 20 0-17-13zM1024 1937l17 13 20 1-17-13z"/><path class="k53" d="M875 1852l19 11 21 0-19-12zM852 1863l19 12 21 0-19-12z"/><path class="k69" d="M485 1753l25 8 22-1-24-8zM487 1761l24 9 22-1-23-8zM511 1770l23 9 22-1-23-9z"/><path class="k66" d="M578 1769l23 9 22 0-23-10zM579 1778l22 10 22 0-22-10z"/><path class="k68" d="M532 1760l24 9 22 0-24-9zM510 1761l23 8 23 0-24-9zM533 1769l23 9 23 0-23-9z"/><path class="k45" d="M991 1900l18 12 20 0-18-12zM988 1912l18 13 20 0-17-13z"/><path class="k58" d="M773 1818l20 11 22 0-21-11zM772 1829l20 11 21 0-20-11z"/><path class="k49" d="M934 1875l18 12 21 0-19-12zM932 1887l18 13 20 0-18-13z"/><path class="k24" d="M1255 2045l15 14 19 0-15-14zM1232 2059l15 14 20 0-16-14z"/><path class="k36" d="M1118 1964l17 13 20 0-17-13zM1095 1977l17 13 20 0-17-13z"/><path class="k15" d="M1335 2101l15 14 19 0-15-14z"/><path class="k30" d="M1187 2004l17 13 19 0-16-13zM1164 2017l17 14 19 0-16-14z"/><path class="k60" d="M731 1807l21 11 21 0-21-11zM730 1818l21 11 21 0-20-11z"/><path class="k55" d="M835 1840l19 12 21 0-20-12zM833 1852l19 11 21 0-19-11z"/><path class="k40" d="M1064 1938l17 13 20 0-17-13z"/><path class="k22" d="M1270 2059l16 14 19 0-16-14z"/><path class="k52" d="M894 1863l19 12 21 0-19-12zM873 1863l19 12 21 0-19-12z"/><path class="k44" d="M1009 1912l17 13 21 0-18-13z"/><path class="k62" d="M688 1797l22 11 21-1-21-10zM688 1808l21 10 21 0-20-10z"/><path class="k34" d="M1135 1977l16 13 20 0-16-13zM1132 1990l16 14 20 0-17-14z"/><path class="k28" d="M1204 2017l16 14 19 0-16-14zM1200 2031l16 14 19 0-15-14z"/><path class="k48" d="M952 1887l18 13 21 0-18-13z"/><path class="k71" d="M415 1746l25 7 23 0-25-7zM440 1753l25 8 22 0-24-8z"/><path class="k57" d="M793 1829l20 11 22 0-20-11zM792 1840l20 12 21 0-20-12z"/><path class="k64" d="M645 1787l22 10 21 0-21-10zM645 1797l21 11 22 0-21-11z"/><path class="k20" d="M1286 2073l15 14 19 0-15-14zM1282 2087l15 14 19 0-15-14z"/><path class="k70" d="M463 1753l24 8 23 0-25-8zM465 1761l24 9 22 0-24-9z"/><path class="k38" d="M1081 1951l17 13 20 0-17-13zM1078 1964l17 13 20 0-17-13z"/><path class="k65" d="M601 1778l22 10 22-1-22-9zM623 1788l22 9 22 0-22-10zM601 1788l22 10 22-1-22-9z"/><path class="k67" d="M556 1769l23 9 22 0-23-9zM556 1778l23 10 22 0-22-10z"/><path class="k26" d="M1220 2031l15 14 20 0-16-14zM1216 2045l16 14 19 0-16-14z"/><path class="k33" d="M1151 1990l17 14 19 0-16-14z"/><path class="k54" d="M854 1852l19 11 21 0-19-11z"/><path class="k59" d="M752 1818l20 11 21 0-20-11zM751 1829l20 11 21 0-20-11z"/><path class="k18" d="M1301 2087l15 14 19 0-15-14zM1297 2101l15 14 19 0-15-14z"/><path class="k50" d="M913 1875l19 12 20 0-18-12zM911 1887l18 12 21 1-18-13z"/><path class="k46" d="M970 1900l18 12 21 0-18-12zM968 1912l18 13 20 0-18-13z"/><path class="k25" d="M1235 2045l16 14 19 0-15-14z"/><path class="k37" d="M1098 1964l17 13 20 0-17-13z"/><path class="k61" d="M710 1808l20 10 22 0-21-11zM709 1818l20 11 22 0-21-11z"/><path class="k17" d="M1316 2101l15 14 19 0-15-14z"/><path class="k31" d="M1168 2004l16 13 20 0-17-13z"/><path class="k56" d="M813 1840l20 12 21 0-19-12zM812 1852l19 11 21 0-19-11z"/><path class="k41" d="M1044 1938l17 13 20 0-17-13z"/><path class="k63" d="M667 1797l21 11 22 0-22-11z"/><path class="k23" d="M1251 2059l16 14 19 0-16-14z"/><path class="k35" d="M1115 1977l17 13 19 0-16-13z"/><path class="k29" d="M1184 2017l16 14 20 0-16-14z"/><path class="k21" d="M1267 2073l15 14 19 0-15-14z"/><path class="k39" d="M1061 1951l17 13 20 0-17-13z"/><path class="k43" d="M1006 1925l18 12 20 1-18-13z"/><path class="k51" d="M892 1875l19 12 21 0-19-12z"/><path class="k47" d="M950 1900l18 12 20 0-18-12z"/><path class="k32" d="M1148 2004l16 13 20 0-16-13z"/><path class="k40" d="M1041 1950l17 13 20 1-17-13zM1038 1963l17 13 20 1-17-14zM1035 1976l16 13 21 1-17-14z"/><path class="k23" d="M1247 2073l16 14 19 0-15-14zM1224 2086l15 14 20 1-16-14z"/><path class="k52" d="M871 1875l19 12 21 0-19-12zM869 1887l18 12 21 0-18-12z"/><path class="k44" d="M986 1925l17 12 21 0-18-12zM983 1937l17 13 21 0-18-13zM980 1949l17 13 21 1-18-13z"/><path class="k35" d="M1112 1990l16 14 20 0-16-14zM1088 2003l17 13 20 1-17-14z"/><path class="k29" d="M1181 2031l15 14 20 0-16-14zM1157 2044l16 14 20 0-16-14z"/><path class="k48" d="M929 1899l18 13 21 0-18-12zM927 1912l18 12 20 0-18-12zM924 1924l17 12 21 1-17-13z"/><path class="k63" d="M666 1808l21 10 22 0-21-10zM644 1808l21 10 22 0-21-10zM643 1818l21 10 22 1-21-11z"/><path class="k58" d="M771 1840l20 11 21 1-20-12zM749 1840l20 11 22 0-20-11zM748 1851l19 11 22 1-20-12z"/><path class="k21" d="M1263 2087l15 14 19 0-15-14zM1239 2100l16 15 19 0-15-14z"/><path class="k64" d="M623 1798l21 10 22 0-21-11zM622 1807l21 11 22 0-21-10z"/><path class="k39" d="M1058 1963l17 14 20 0-17-13z"/><path class="k27" d="M1196 2045l16 14 20 0-16-14zM1193 2058l15 14 20 1-16-14z"/><path class="k66" d="M579 1788l22 10 22 0-22-10zM579 1797l21 10 22 0-21-9z"/><path class="k33" d="M1128 2004l17 13 19 0-16-13zM1125 2017l16 13 20 1-16-14z"/><path class="k54" d="M831 1863l19 12 21 0-19-12zM829 1875l19 11 21 1-19-12z"/><path class="k68" d="M534 1779l23 9 22 0-23-10zM534 1788l22 9 23 0-22-9z"/><path class="k43" d="M1003 1937l18 13 20 0-17-13zM1000 1950l18 13 20 0-17-13z"/><path class="k69" d="M489 1770l23 9 22 0-23-9zM512 1779l22 9 23 0-23-9z"/><path class="k19" d="M1278 2101l15 14 19 0-15-14z"/><path class="k60" d="M729 1829l20 11 22 0-20-11zM706 1839l20 12 22 0-20-11z"/><path class="k51" d="M890 1887l18 12 21 0-18-12zM866 1899l19 12 21 0-19-12z"/><path class="k47" d="M947 1912l18 12 21 1-18-13z"/><path class="k37" d="M1075 1977l17 13 20 0-17-13zM1072 1990l16 13 20 0-16-13z"/><path class="k25" d="M1212 2059l16 14 19 0-15-14zM1208 2072l16 14 19 1-15-14z"/><path class="k62" d="M687 1818l21 11 21 0-20-11zM665 1818l21 11 22 0-21-11z"/><path class="k32" d="M1145 2017l16 14 20 0-17-14z"/><path class="k56" d="M791 1851l19 12 21 0-19-11zM789 1863l19 11 21 1-19-12z"/><path class="k42" d="M1021 1950l17 13 20 0-17-13z"/><path class="k53" d="M850 1875l19 12 21 0-19-12zM848 1886l18 13 21 0-18-12z"/><path class="k24" d="M1228 2073l15 14 20 0-16-14z"/><path class="k45" d="M965 1924l18 13 20 0-17-12zM962 1937l18 12 20 1-17-13z"/><path class="k49" d="M908 1899l19 13 20 0-18-13zM906 1911l18 13 21 0-18-12z"/><path class="k36" d="M1092 1990l16 13 20 1-16-14z"/><path class="k30" d="M1161 2031l16 13 19 1-15-14z"/><path class="k65" d="M601 1798l21 9 22 1-21-10zM600 1807l21 11 22 0-21-11z"/><path class="k67" d="M557 1788l22 9 22 1-22-10zM556 1797l22 10 22 0-21-10z"/><path class="k22" d="M1243 2087l16 14 19 0-15-14z"/><path class="k55" d="M810 1863l19 12 21 0-19-12zM808 1874l19 12 21 0-19-11z"/><path class="k61" d="M708 1829l20 11 21 0-20-11zM686 1829l20 10 22 1-20-11z"/><path class="k28" d="M1177 2044l16 14 19 1-16-14zM1173 2058l16 14 19 0-15-14z"/><path class="k34" d="M1108 2003l17 14 20 0-17-13zM1105 2016l16 14 20 0-16-13z"/><path class="k20" d="M1259 2101l15 14 19 0-15-14z"/><path class="k38" d="M1055 1976l17 14 20 0-17-13zM1051 1989l17 13 20 1-16-13z"/><path class="k57" d="M769 1851l20 12 21 0-19-12z"/><path class="k46" d="M945 1924l17 13 21 0-18-13z"/><path class="k50" d="M887 1899l19 12 21 1-19-13z"/><path class="k59" d="M728 1840l20 11 21 0-20-11z"/><path class="k31" d="M1141 2030l16 14 20 0-16-13z"/><path class="k41" d="M1018 1963l17 13 20 0-17-13z"/><path class="k26" d="M1189 2072l15 14 20 0-16-14z"/><path class="k32" d="M1121 2030l16 14 20 0-16-14zM1117 2043l16 14 20 1-16-14zM1093 2056l16 14 20 0-16-13z"/><path class="k62" d="M664 1828l20 11 22 0-20-10zM662 1839l20 11 22 0-20-11zM660 1849l19 11 22 1-19-11z"/><path class="k57" d="M767 1862l19 12 22 0-19-11zM765 1873l18 12 22 1-19-12zM740 1884l19 12 21 0-18-11z"/><path class="k42" d="M997 1962l17 13 21 1-17-13zM993 1975l17 13 21 1-17-14zM969 1987l17 13 20 1-16-13z"/><path class="k54" d="M827 1886l18 12 21 1-18-13zM802 1897l19 12 21 1-18-12z"/><path class="k64" d="M621 1818l21 10 22 0-21-10zM619 1828l21 10 22 1-20-11z"/><path class="k24" d="M1204 2086l16 14 19 0-15-14zM1200 2100l16 14 19 0-15-14z"/><path class="k46" d="M941 1936l18 13 21 0-18-12zM938 1949l17 12 21 1-17-13z"/><path class="k50" d="M885 1911l18 12 21 1-18-13zM881 1923l18 12 21 1-17-13z"/><path class="k36" d="M1068 2002l17 14 20 0-17-13zM1064 2015l17 14 20 1-16-14zM1060 2028l16 14 21 1-16-14z"/><path class="k31" d="M1137 2044l16 14 20 0-16-14zM1113 2057l16 13 20 1-16-14z"/><path class="k59" d="M726 1851l19 11 22 0-19-11zM723 1861l20 12 22 0-20-11zM721 1872l19 12 22 1-19-12z"/><path class="k66" d="M578 1807l21 10 22 1-21-11z"/><path class="k23" d="M1220 2100l15 14 20 1-16-15z"/><path class="k41" d="M1014 1975l17 14 20 0-16-13zM990 1988l16 13 21 0-17-13z"/><path class="k56" d="M786 1874l19 12 22 0-19-12zM783 1885l19 12 22 1-19-12zM762 1885l18 11 22 1-19-12z"/><path class="k61" d="M684 1839l20 11 22 1-20-12zM682 1850l19 11 22 0-19-11zM679 1860l20 12 22 0-20-11z"/><path class="k29" d="M1153 2058l16 14 20 0-16-14z"/><path class="k35" d="M1085 2016l16 14 20 0-16-14z"/><path class="k45" d="M959 1949l17 13 21 0-17-13zM934 1961l18 13 21 0-18-13z"/><path class="k52" d="M845 1898l18 12 22 1-19-12zM842 1910l18 12 21 1-18-13zM839 1921l18 13 21 1-18-13z"/><path class="k49" d="M903 1923l17 13 21 0-17-12zM878 1935l18 12 21 1-18-13z"/><path class="k63" d="M642 1828l20 11 22 0-20-11zM640 1838l20 11 22 1-20-11z"/><path class="k39" d="M1031 1989l17 13 20 0-17-13zM1027 2001l17 14 20 0-16-13z"/><path class="k58" d="M745 1862l20 11 21 1-19-12zM743 1873l19 12 21 0-18-12z"/><path class="k27" d="M1169 2072l16 14 19 0-15-14zM1165 2085l15 14 20 1-15-14z"/><path class="k33" d="M1101 2030l16 13 20 1-16-14zM1097 2043l16 14 20 0-16-14z"/><path class="k65" d="M599 1817l20 11 23 0-21-10z"/><path class="k43" d="M976 1962l17 13 21 0-17-13zM973 1974l17 14 20 0-17-13z"/><path class="k55" d="M805 1886l19 12 21 0-18-12zM780 1896l19 13 22 0-19-12z"/><path class="k47" d="M920 1936l18 13 21 0-18-13zM917 1948l17 13 21 0-17-12z"/><path class="k51" d="M863 1910l18 13 22 0-18-12zM860 1922l18 13 21 0-18-12z"/><path class="k60" d="M704 1850l19 11 22 1-19-11zM701 1861l20 11 22 1-20-12z"/><path class="k26" d="M1185 2086l15 14 20 0-16-14zM1160 2099l16 14 20 0-16-14z"/><path class="k38" d="M1048 2002l16 13 21 1-17-14zM1023 2014l17 14 20 0-16-13z"/><path class="k53" d="M824 1898l18 12 21 0-18-12zM821 1909l18 12 21 1-18-12z"/><path class="k30" d="M1133 2057l16 14 20 1-16-14zM1129 2070l16 14 20 1-16-14z"/><path class="k40" d="M1010 1988l17 13 21 1-17-13zM1006 2001l17 13 21 1-17-14z"/><path class="k28" d="M1149 2071l16 14 20 1-16-14zM1145 2084l15 15 20 0-15-14z"/><path class="k34" d="M1081 2029l16 14 20 0-16-13zM1076 2042l17 14 20 1-16-14z"/><path class="k44" d="M955 1961l18 13 20 1-17-13zM952 1974l17 13 21 1-17-14z"/><path class="k48" d="M899 1935l18 13 21 1-18-13zM896 1947l17 13 21 1-17-13z"/><path class="k25" d="M1180 2099l16 14 20 1-16-14z"/><path class="k37" d="M1044 2015l16 13 21 1-17-14z"/><path class="k46" d="M913 1960l18 13 21 1-18-13zM909 1972l17 13 22 1-17-13zM905 1984l17 14 21 1-17-14z"/><path class="k54" d="M799 1909l18 12 22 0-18-12zM795 1920l18 12 22 1-18-12z"/><path class="k37" d="M1040 2028l16 13 20 1-16-14zM1010 2053l16 14 21 0-16-13zM1005 2066l16 14 21 1-16-14zM1000 2078l16 14 21 2-16-14z"/><path class="k50" d="M857 1934l17 13 22 0-18-12zM853 1946l17 12 22 1-18-12zM849 1958l17 12 22 1-18-13z"/><path class="k31" d="M1109 2070l15 14 21 0-16-14zM1079 2096l16 14 20 1-16-15z"/><path class="k60" d="M699 1872l19 11 22 1-19-12z"/><path class="k41" d="M986 2000l16 14 21 0-17-13zM981 2013l17 13 21 1-17-13zM956 2024l16 14 21 1-16-14zM951 2037l16 14 22 1-17-14zM946 2049l16 14 22 1-17-13z"/><path class="k29" d="M1124 2084l16 14 20 1-15-15zM1120 2097l16 14 20 1-16-14z"/><path class="k35" d="M1056 2041l16 14 21 1-17-14zM1052 2054l16 14 20 1-16-14zM1021 2080l16 14 21 1-16-14zM1016 2092l16 15 21 1-16-14z"/><path class="k56" d="M759 1896l18 12 22 1-19-13zM755 1907l18 12 22 1-18-12z"/><path class="k45" d="M931 1973l17 13 21 1-17-13zM926 1985l17 14 22 0-17-13zM901 1997l17 13 21 1-17-13zM896 2009l17 13 21 1-16-13z"/><path class="k53" d="M817 1921l18 12 22 1-18-13zM791 1931l18 13 22 1-18-13z"/><path class="k49" d="M874 1947l18 12 21 1-17-13zM870 1958l18 13 21 1-17-13zM844 1969l18 13 22 1-18-13z"/><path class="k39" d="M1002 2014l17 13 21 1-17-14zM998 2026l16 14 21 1-16-14zM993 2039l17 14 21 1-17-14zM962 2063l17 14 21 1-16-14z"/><path class="k28" d="M1140 2098l16 14 20 1-16-14z"/><path class="k34" d="M1072 2055l16 14 21 1-16-14zM1047 2067l16 14 21 1-16-14zM1042 2081l16 14 21 1-16-15zM1037 2094l16 14 21 1-16-14z"/><path class="k58" d="M718 1883l18 12 23 1-19-12z"/><path class="k44" d="M948 1986l17 13 21 1-17-13zM922 1998l17 13 21 1-17-13zM918 2010l16 13 22 1-17-13zM913 2022l16 14 22 1-17-14z"/><path class="k55" d="M777 1908l18 12 22 1-18-12zM773 1919l18 12 22 1-18-12z"/><path class="k47" d="M892 1959l17 13 22 1-18-13zM888 1971l17 13 21 1-17-13zM884 1983l17 14 21 1-17-14zM879 1996l17 13 22 1-17-13z"/><path class="k51" d="M835 1933l18 13 21 1-17-13zM831 1945l18 13 21 0-17-12zM827 1957l17 12 22 1-17-12z"/><path class="k38" d="M1019 2027l16 14 21 0-16-13zM1014 2040l17 14 21 0-17-13zM989 2052l16 14 21 1-16-14zM984 2064l16 14 21 2-16-14zM979 2077l16 14 21 1-16-14z"/><path class="k32" d="M1088 2069l16 14 20 1-15-14zM1084 2082l15 14 21 1-16-14z"/><path class="k42" d="M965 1999l16 14 21 1-16-14zM960 2012l17 13 21 1-17-13zM929 2036l17 13 21 2-16-14z"/><path class="k57" d="M736 1895l19 12 22 1-18-12z"/><path class="k36" d="M1035 2041l17 13 20 1-16-14zM1031 2054l16 13 21 1-16-14zM1026 2067l16 14 21 0-16-14zM995 2091l16 15 21 1-16-15z"/><path class="k30" d="M1104 2083l16 14 20 1-16-14zM1099 2096l16 15 21 0-16-14z"/><path class="k52" d="M813 1932l18 13 22 1-18-13zM809 1944l18 13 22 1-18-13z"/><path class="k33" d="M1068 2068l16 14 20 1-16-14zM1063 2081l16 15 20 0-15-14zM1058 2095l16 14 21 1-16-14z"/><path class="k43" d="M943 1999l17 13 21 1-16-14zM939 2011l17 13 21 1-17-13zM934 2023l17 14 21 1-16-14z"/><path class="k40" d="M977 2025l16 14 21 1-16-14zM972 2038l17 14 21 1-17-14zM967 2051l17 13 21 2-16-14z"/><path class="k48" d="M866 1970l18 13 21 1-17-13zM862 1982l17 14 22 1-17-14z"/></g>
<line x1="52.7" y1="315.3" x2="179.5" y2="294.9" stroke="#222" stroke-width="1.1" stroke-dasharray="2.4 1.4"/>
<line x1="179.5" y1="294.9" x2="322.2" y2="312" stroke="#222" stroke-width="1.1" stroke-dasharray="2.4 1.4"/>
<line x1="313.5" y1="487.7" x2="322.2" y2="312" stroke="#222" stroke-width="1.2"/>
<line x1="60.5" y1="495.5" x2="201.1" y2="546.5" stroke="#000" stroke-width="1.5"/>
<line x1="201.1" y1="546.5" x2="313.5" y2="487.7" stroke="#000" stroke-width="1.5"/>
<line x1="60.5" y1="495.5" x2="52.7" y2="315.3" stroke="#000" stroke-width="1.6"/>
<g><line x1="56.5" y1="495.5" x2="60.5" y2="495.5" stroke="#000" stroke-width="1.2"/><line x1="55.3" y1="467" x2="59.3" y2="467" stroke="#000" stroke-width="1.2"/><line x1="54" y1="437.9" x2="58" y2="437.9" stroke="#000" stroke-width="1.2"/><line x1="52.7" y1="408.3" x2="56.7" y2="408.3" stroke="#000" stroke-width="1.2"/><line x1="51.4" y1="377.9" x2="55.4" y2="377.9" stroke="#000" stroke-width="1.2"/><line x1="50.1" y1="346.9" x2="54.1" y2="346.9" stroke="#000" stroke-width="1.2"/><line x1="48.7" y1="315.3" x2="52.7" y2="315.3" stroke="#000" stroke-width="1.2"/><line x1="60.5" y1="495.5" x2="55.6" y2="497.3" stroke="#000" stroke-width="1.2"/><line x1="72.8" y1="499.9" x2="68" y2="501.8" stroke="#000" stroke-width="1.2"/><line x1="85.5" y1="504.5" x2="80.6" y2="506.5" stroke="#000" stroke-width="1.2"/><line x1="98.5" y1="509.2" x2="93.6" y2="511.2" stroke="#000" stroke-width="1.2"/><line x1="111.9" y1="514.1" x2="107" y2="516.1" stroke="#000" stroke-width="1.2"/><line x1="125.6" y1="519.1" x2="120.8" y2="521.2" stroke="#000" stroke-width="1.2"/><line x1="139.8" y1="524.2" x2="135" y2="526.4" stroke="#000" stroke-width="1.2"/><line x1="154.5" y1="529.5" x2="149.7" y2="531.8" stroke="#000" stroke-width="1.2"/><line x1="169.5" y1="535" x2="164.8" y2="537.3" stroke="#000" stroke-width="1.2"/><line x1="185.1" y1="540.6" x2="180.3" y2="543" stroke="#000" stroke-width="1.2"/><line x1="201.1" y1="546.5" x2="196.4" y2="548.9" stroke="#000" stroke-width="1.2"/><line x1="214.3" y1="539.6" x2="220" y2="541.6" stroke="#000" stroke-width="1.2"/><line x1="239.1" y1="526.6" x2="244.7" y2="528.5" stroke="#000" stroke-width="1.2"/><line x1="262.2" y1="514.5" x2="267.8" y2="516.2" stroke="#000" stroke-width="1.2"/><line x1="283.8" y1="503.2" x2="289.2" y2="504.8" stroke="#000" stroke-width="1.2"/><line x1="303.9" y1="492.7" x2="309.3" y2="494.2" stroke="#000" stroke-width="1.2"/></g>
<g><text transform="translate(56 500.5) skewY(-20) scale(0.75 1)" text-anchor="end" class="tl" style="font-size:12px">4.5</text><text transform="translate(54.8 472) skewY(-18.2) scale(0.75 1)" text-anchor="end" class="tl" style="font-size:12px">4.6</text><text transform="translate(53.5 442.9) skewY(-16.3) scale(0.75 1)" text-anchor="end" class="tl" style="font-size:12px">4.7</text><text transform="translate(52.2 413.3) skewY(-14.5) scale(0.75 1)" text-anchor="end" class="tl" style="font-size:12px">4.8</text><text transform="translate(50.9 382.9) skewY(-12.7) scale(0.75 1)" text-anchor="end" class="tl" style="font-size:12px">4.9</text><text transform="translate(49.6 351.9) skewY(-10.8) scale(0.75 1)" text-anchor="end" class="tl" style="font-size:12px">5.0</text><text transform="translate(48.2 320.3) skewY(-9) scale(0.75 1)" text-anchor="end" class="tl" style="font-size:12px">5.1</text><text transform="translate(51 500) rotate(-22) skewX(-25) scale(1.0 0.72)" text-anchor="middle" dominant-baseline="central" class="tl" style="font-size:8.5px;font-weight:normal">400</text><text transform="translate(63.3 504.4) rotate(-22) skewX(-25) scale(1.0 0.72)" text-anchor="middle" dominant-baseline="central" class="tl" style="font-size:8.5px;font-weight:normal">420</text><text transform="translate(76 509) rotate(-22) skewX(-25) scale(1.0 0.72)" text-anchor="middle" dominant-baseline="central" class="tl" style="font-size:8.5px;font-weight:normal">440</text><text transform="translate(89 513.7) rotate(-22) skewX(-25) scale(1.0 0.72)" text-anchor="middle" dominant-baseline="central" class="tl" style="font-size:8.5px;font-weight:normal">460</text><text transform="translate(102.4 518.6) rotate(-22) skewX(-25) scale(1.0 0.72)" text-anchor="middle" dominant-baseline="central" class="tl" style="font-size:8.5px;font-weight:normal">480</text><text transform="translate(116.1 523.6) rotate(-22) skewX(-25) scale(1.0 0.72)" text-anchor="middle" dominant-baseline="central" class="tl" style="font-size:8.5px;font-weight:normal">500</text><text transform="translate(130.3 528.7) rotate(-22) skewX(-25) scale(1.0 0.72)" text-anchor="middle" dominant-baseline="central" class="tl" style="font-size:8.5px;font-weight:normal">520</text><text transform="translate(145 534) rotate(-22) skewX(-25) scale(1.0 0.72)" text-anchor="middle" dominant-baseline="central" class="tl" style="font-size:8.5px;font-weight:normal">540</text><text transform="translate(160 539.5) rotate(-22) skewX(-25) scale(1.0 0.72)" text-anchor="middle" dominant-baseline="central" class="tl" style="font-size:8.5px;font-weight:normal">560</text><text transform="translate(175.6 545.1) rotate(-22) skewX(-25) scale(1.0 0.72)" text-anchor="middle" dominant-baseline="central" class="tl" style="font-size:8.5px;font-weight:normal">580</text><text transform="translate(191.6 551) rotate(-22) skewX(-25) scale(1.0 0.72)" text-anchor="middle" dominant-baseline="central" class="tl" style="font-size:8.5px;font-weight:normal">600</text><text transform="translate(219.3 543.1) rotate(20) skewX(-43) scale(1.0 0.8)" text-anchor="start" dominant-baseline="central" class="tv" style="font-size:9px;font-weight:normal">26</text><text transform="translate(244.1 530.1) rotate(20) skewX(-43) scale(1.0 0.8)" text-anchor="start" dominant-baseline="central" class="tv" style="font-size:9px;font-weight:normal">28</text><text transform="translate(267.2 518) rotate(20) skewX(-43) scale(1.0 0.8)" text-anchor="start" dominant-baseline="central" class="tv" style="font-size:9px;font-weight:normal">30</text><text transform="translate(288.8 506.7) rotate(20) skewX(-43) scale(1.0 0.8)" text-anchor="start" dominant-baseline="central" class="tv" style="font-size:9px;font-weight:normal">32</text><text transform="translate(308.9 496.2) rotate(20) skewX(-43) scale(1.0 0.8)" text-anchor="start" dominant-baseline="central" class="tv" style="font-size:9px;font-weight:normal">34</text><text transform="translate(33.3 413.8) rotate(90)" text-anchor="middle" dominant-baseline="central" class="tt" style="font-size:12.8px;font-weight:bold">thickness(mm)</text><text transform="translate(102.6 531.5) rotate(20.8) skewX(-12) scale(1 0.8)" text-anchor="middle" dominant-baseline="central" class="tt" style="font-size:10.6px;font-weight:normal">Spindle speed(r/min)</text><text transform="translate(285.4 523.2) rotate(-26.2) skewX(-27) scale(1 0.85)" text-anchor="middle" dominant-baseline="central" class="tv" style="font-size:9.4px;font-weight:normal">Working angle(°)</text><text x="4" y="315" class="pl" style="font-size:18px">(c)</text></g>
<g><line x1="409.7" y1="495.6" x2="527.7" y2="450.9" stroke="#d9d9d9" stroke-width="0.8"/><line x1="527.7" y1="450.9" x2="662.3" y2="487.7" stroke="#d9d9d9" stroke-width="0.8"/><line x1="408.6" y1="467" x2="527.7" y2="426" stroke="#d9d9d9" stroke-width="0.8"/><line x1="527.7" y1="426" x2="663.6" y2="459.7" stroke="#d9d9d9" stroke-width="0.8"/><line x1="407.5" y1="437.8" x2="527.8" y2="400.6" stroke="#d9d9d9" stroke-width="0.8"/><line x1="527.8" y1="400.6" x2="664.9" y2="431.3" stroke="#d9d9d9" stroke-width="0.8"/><line x1="406.3" y1="408" x2="527.8" y2="374.9" stroke="#d9d9d9" stroke-width="0.8"/><line x1="527.8" y1="374.9" x2="666.2" y2="402.3" stroke="#d9d9d9" stroke-width="0.8"/><line x1="405.1" y1="377.6" x2="527.8" y2="348.7" stroke="#d9d9d9" stroke-width="0.8"/><line x1="527.8" y1="348.7" x2="667.6" y2="372.7" stroke="#d9d9d9" stroke-width="0.8"/><line x1="403.9" y1="346.6" x2="527.8" y2="322.1" stroke="#d9d9d9" stroke-width="0.8"/><line x1="527.8" y1="322.1" x2="669" y2="342.6" stroke="#d9d9d9" stroke-width="0.8"/><line x1="402.7" y1="315" x2="527.9" y2="295" stroke="#d9d9d9" stroke-width="0.8"/><line x1="527.9" y1="295" x2="670.4" y2="311.8" stroke="#d9d9d9" stroke-width="0.8"/><line x1="423.3" y1="490.5" x2="417.2" y2="312.7" stroke="#d9d9d9" stroke-width="0.8"/><line x1="436.4" y1="485.5" x2="431.1" y2="310.4" stroke="#d9d9d9" stroke-width="0.8"/><line x1="449" y1="480.7" x2="444.7" y2="308.3" stroke="#d9d9d9" stroke-width="0.8"/><line x1="461.3" y1="476" x2="457.7" y2="306.2" stroke="#d9d9d9" stroke-width="0.8"/><line x1="473.2" y1="471.5" x2="470.3" y2="304.2" stroke="#d9d9d9" stroke-width="0.8"/><line x1="484.8" y1="467.2" x2="482.6" y2="302.2" stroke="#d9d9d9" stroke-width="0.8"/><line x1="496" y1="462.9" x2="494.4" y2="300.3" stroke="#d9d9d9" stroke-width="0.8"/><line x1="506.9" y1="458.8" x2="505.9" y2="298.5" stroke="#d9d9d9" stroke-width="0.8"/><line x1="517.4" y1="454.8" x2="517.1" y2="296.7" stroke="#d9d9d9" stroke-width="0.8"/><line x1="539.7" y1="454.2" x2="540.5" y2="296.5" stroke="#d9d9d9" stroke-width="0.8"/><line x1="564.6" y1="461" x2="566.8" y2="299.6" stroke="#d9d9d9" stroke-width="0.8"/><line x1="590.8" y1="468.1" x2="594.4" y2="302.8" stroke="#d9d9d9" stroke-width="0.8"/><line x1="618.3" y1="475.6" x2="623.6" y2="306.3" stroke="#d9d9d9" stroke-width="0.8"/><line x1="647.2" y1="483.6" x2="654.4" y2="309.9" stroke="#d9d9d9" stroke-width="0.8"/></g>
<path d="M409.7 495.6L551.4 546.6L662.3 487.7L527.7 450.9Z" fill="#cecece"/>
<g transform="scale(.2)" fill="none" stroke-width="5.5"><path d="M3086 2377l181 85" stroke="#7328fa"/><path d="M2905 2327l155 82 157 80" stroke="#288cfa"/><path d="M2754 2286l206 122 198 112" stroke="#1ee178"/><path d="M2632 2257l241 160 214 141" stroke="#8ce61e"/><path d="M2582 2276l121 93 110 87 95 77 87 74" stroke="#f5e61e"/><path d="M2526 2297l66 62 58 58 52 54 43 49 38 48 28 42 22 38 9 19 7 17" stroke="#fa8c28"/><path d="M2459 2322l44 56 19 26 17 27 15 24 13 24 11 25 8 21 7 22 4 19 2 21-1 18-2 18-4 15-7 16-8 14" stroke="#eb2828"/><path d="M2377 2353l17 38 11 34 6 33 1 17 0 14-2 14-2 13-4 14-5 13-7 14-8 12-10 13-9 10" stroke="#e11e1e"/><path d="M2267 2395l-2 20-4 19-6 18-8 17-10 16-12 15-15 15-17 15" stroke="#b41919"/></g>
<line x1="409.7" y1="495.6" x2="527.7" y2="450.9" stroke="#333" stroke-width="0.9"/>
<line x1="527.7" y1="450.9" x2="662.3" y2="487.7" stroke="#333" stroke-width="0.9"/>
<line x1="527.7" y1="450.9" x2="527.9" y2="295" stroke="#333" stroke-width="1.2"/>
<g transform="scale(.2)" stroke-width="2" stroke-linejoin="round"><path class="k28" d="M2627 1762l18 7 12 5-18-7zM2651 1772l19 8 12 5-19-8zM2676 1783l19 8 13 4-19-7zM2702 1794l20 8 12 5-19-8zM2709 1797l20 8 13 5-20-8z"/><path class="k27" d="M2645 1769l18 8 12 5-18-8zM2670 1780l19 8 12 4-19-7zM2695 1791l20 8 12 4-19-8zM2722 1802l20 8 12 5-20-8zM2729 1805l20 8 13 5-20-8z"/><path class="k30" d="M2615 1757l18 7 12 5-18-7zM2639 1767l18 8 13 5-19-8zM2663 1778l20 8 12 5-19-8zM2670 1781l19 8 13 5-19-8zM2696 1792l20 9 13 4-20-8z"/><path class="k26" d="M2663 1777l19 8 12 5-19-8zM2689 1788l19 7 12 5-19-8zM2715 1799l19 8 13 4-20-8zM2742 1810l20 8 13 5-21-8z"/><path class="k29" d="M2633 1764l18 8 12 5-18-8zM2657 1775l19 8 13 5-19-8zM2683 1786l19 8 13 5-20-8zM2689 1789l20 8 13 5-20-8z"/><path class="k32" d="M2602 1752l18 7 13 5-18-7zM2626 1762l18 8 13 5-18-8zM2631 1765l19 8 13 5-19-8zM2656 1776l20 8 13 5-19-8z"/><path class="k25" d="M2682 1785l19 7 11 5-18-7zM2708 1795l19 8 12 5-19-8zM2734 1807l20 8 13 5-20-9zM2762 1818l21 8 12 5-20-8z"/><path class="k31" d="M2620 1759l19 8 12 5-18-8zM2644 1770l19 8 13 5-19-8zM2650 1773l20 8 13 5-20-8zM2676 1784l20 8 13 5-20-8z"/><path class="k34" d="M2589 1747l18 7 13 5-18-7zM2594 1750l19 7 13 5-19-8zM2618 1760l19 8 13 5-19-8zM2642 1772l20 8 14 4-20-8z"/><path class="k24" d="M2701 1792l19 8 12 5-20-8zM2727 1803l20 8 12 5-20-8zM2754 1815l21 8 12 5-20-8z"/><path class="k33" d="M2607 1754l19 8 13 5-19-8zM2613 1757l18 8 13 5-18-8zM2637 1768l19 8 14 5-20-8zM2662 1780l20 8 14 4-20-8z"/><path class="k35" d="M2576 1742l18 8 13 4-18-7zM2599 1753l19 7 13 5-18-8zM2623 1764l19 8 14 4-19-8zM2628 1767l20 8 14 5-20-8z"/><path class="k23" d="M2720 1800l19 8 12 5-19-8zM2747 1811l20 9 12 4-20-8zM2775 1823l20 8 13 5-21-8z"/><path class="k37" d="M2563 1737l18 8 13 5-18-8zM2585 1748l19 8 14 4-19-7zM2590 1751l19 8 14 5-19-8z"/><path class="k22" d="M2739 1808l20 8 11 5-19-8zM2767 1820l20 8 12 5-20-9zM2795 1831l21 8 13 5-21-8z"/><path class="k36" d="M2581 1745l18 8 14 4-19-7zM2604 1756l19 8 14 4-19-8zM2609 1759l19 8 14 5-19-8z"/><path class="k39" d="M2549 1733l18 7 14 5-18-8zM2553 1736l18 7 14 5-18-8zM2576 1747l19 8 14 4-19-8z"/><path class="k21" d="M2759 1816l20 8 11 5-20-8zM2787 1828l21 8 12 5-21-8zM2816 1839l22 9 12 5-21-9z"/><path class="k38" d="M2567 1740l18 8 14 5-18-8zM2571 1743l19 8 14 5-19-8zM2595 1755l19 8 14 4-19-8z"/><path class="k40" d="M2535 1728l18 8 14 4-18-7zM2557 1739l19 8 14 4-19-8z"/><path class="k20" d="M2779 1824l20 9 12 5-21-9zM2808 1836l21 8 11 5-20-8z"/><path class="k19" d="M2799 1833l21 8 11 5-20-8zM2829 1844l21 9 12 4-22-8z"/><path class="k42" d="M2520 1723l18 8 15 5-18-8zM2542 1735l19 7 15 5-19-8z"/><path class="k18" d="M2820 1841l20 8 12 5-21-8zM2840 1849l22 8 11 5-21-8zM2850 1853l22 8 11 5-21-9z"/><path class="k41" d="M2538 1731l19 8 14 4-18-7z"/><path class="k44" d="M2505 1719l18 8 15 4-18-8zM2508 1722l18 8 16 5-19-8z"/><path class="k43" d="M2523 1727l19 8 15 4-19-8z"/><path class="k45" d="M2489 1715l19 7 15 5-18-8z"/><path class="k17" d="M2862 1857l21 9 12 5-22-9z"/><path class="k47" d="M2473 1711l19 7 16 4-19-7z"/><path class="k16" d="M2883 1866l22 8 12 5-22-8z"/><path class="k41" d="M2561 1742l19 8 15 5-19-8zM2564 1746l20 8 15 4-19-8zM2584 1754l19 8 16 4-20-8zM2588 1758l20 8 15 4-20-8z"/><path class="k24" d="M2783 1826l21 9 12 4-21-8zM2813 1838l21 9 13 5-22-9zM2821 1842l23 9 13 4-23-8z"/><path class="k26" d="M2749 1813l21 9 13 4-21-8zM2770 1822l21 8 13 5-21-9zM2778 1825l22 9 13 4-22-8z"/><path class="k43" d="M2526 1730l19 8 16 4-19-7zM2548 1742l20 8 16 4-20-8z"/><path class="k29" d="M2716 1801l20 8 13 4-20-8zM2743 1812l22 9 13 4-21-8z"/><path class="k46" d="M2492 1718l18 8 16 4-18-8zM2513 1730l19 8 16 4-19-8zM2515 1734l20 8 17 4-20-8z"/><path class="k32" d="M2682 1788l20 8 14 5-20-9zM2709 1800l21 8 13 4-20-8zM2715 1804l22 8 14 4-21-8z"/><path class="k15" d="M2905 1874l23 9 11 5-22-9zM2939 1887l23 9 12 5-23-9zM2950 1891l24 9 12 5-24-9z"/><path class="k49" d="M2457 1706l18 8 17 4-19-7zM2458 1710l19 8 17 4-19-8z"/><path class="k35" d="M2648 1775l20 8 14 5-20-8zM2654 1779l20 8 14 4-20-8z"/><path class="k17" d="M2872 1861l22 9 11 4-22-8zM2904 1873l23 9 12 5-23-9z"/><path class="k37" d="M2614 1763l20 8 14 4-20-8zM2639 1775l20 8 15 4-20-8z"/><path class="k20" d="M2838 1848l22 8 12 5-22-8zM2869 1860l23 9 12 4-22-8z"/><path class="k40" d="M2580 1750l19 8 15 5-19-8zM2603 1762l20 8 16 5-20-9z"/><path class="k23" d="M2804 1835l21 8 13 5-22-9zM2834 1847l23 8 12 5-22-8z"/><path class="k42" d="M2545 1738l19 8 16 4-19-8zM2568 1750l20 8 15 4-19-8z"/><path class="k28" d="M2736 1809l21 8 13 5-21-9zM2765 1821l21 8 14 5-22-9z"/><path class="k45" d="M2510 1726l19 8 16 4-19-8zM2532 1738l20 8 16 4-20-8z"/><path class="k31" d="M2702 1796l21 8 13 5-20-8zM2730 1808l21 8 14 5-22-9z"/><path class="k14" d="M2928 1883l23 9 11 5-23-9zM2962 1896l24 9 11 4-23-8z"/><path class="k48" d="M2475 1714l19 8 16 4-18-8zM2477 1718l19 8 17 4-19-8z"/><path class="k34" d="M2668 1783l20 8 14 5-20-8zM2674 1787l20 8 15 5-21-9z"/><path class="k16" d="M2894 1870l22 8 12 5-23-9zM2916 1878l23 9 12 5-23-9zM2927 1882l23 9 12 5-23-9z"/><path class="k50" d="M2440 1703l18 7 17 4-18-8zM2459 1714l19 8 18 4-19-8z"/><path class="k36" d="M2634 1771l20 8 14 4-20-8zM2659 1783l21 8 14 4-20-8z"/><path class="k19" d="M2860 1856l22 9 12 5-22-9zM2892 1869l23 8 12 5-23-9z"/><path class="k22" d="M2825 1843l22 9 13 4-22-8zM2857 1855l22 9 13 5-23-9z"/><path class="k39" d="M2599 1758l20 8 15 5-20-8zM2623 1770l21 9 15 4-20-8z"/><path class="k25" d="M2791 1830l22 8 12 5-21-8zM2800 1834l21 8 13 5-21-9z"/><path class="k27" d="M2757 1817l21 8 13 5-21-8zM2786 1829l22 9 13 4-21-8z"/><path class="k44" d="M2529 1734l19 8 16 4-19-8zM2552 1746l19 8 17 4-20-8z"/><path class="k30" d="M2723 1804l20 8 14 5-21-8zM2751 1816l21 9 14 4-21-8z"/><path class="k13" d="M2951 1892l23 9 11 4-23-8zM2986 1905l24 9 11 4-24-9z"/><path class="k47" d="M2494 1722l19 8 16 4-19-8zM2496 1726l19 8 17 4-19-8z"/><path class="k33" d="M2688 1791l21 9 14 4-21-8zM2694 1795l21 9 15 4-21-8z"/><path class="k18" d="M2882 1865l22 8 12 5-22-8zM2915 1877l23 9 12 5-23-9z"/><path class="k21" d="M2847 1852l22 8 13 5-22-9z"/><path class="k38" d="M2619 1766l20 9 15 4-20-8z"/><path class="k52" d="M2422 1699l19 8 17 3-18-7zM2422 1703l19 8 18 3-18-7z"/><path class="k12" d="M2974 1901l23 8 12 5-24-9z"/><path class="k51" d="M2441 1707l18 7 18 4-19-8z"/><path class="k53" d="M2404 1695l18 8 19 4-19-8z"/><path class="k11" d="M2997 1909l24 9 12 5-24-9z"/><path class="k10" d="M3021 1918l25 9 11 5-24-9z"/><path class="k55" d="M2385 1692l18 8 19 3-18-8z"/><path class="k35" d="M2680 1791l21 8 14 5-21-9zM2707 1804l22 8 15 4-22-8z"/><path class="k21" d="M2879 1864l23 9 13 4-23-8zM2913 1877l24 9 12 5-23-9z"/><path class="k49" d="M2478 1722l20 8 17 4-19-8zM2499 1735l20 8 18 4-20-8z"/><path class="k38" d="M2644 1779l20 8 16 4-21-8zM2649 1783l21 8 16 4-22-8z"/><path class="k23" d="M2844 1851l22 9 13 4-22-9zM2866 1860l23 8 13 5-23-9zM2876 1864l24 9 13 4-24-9z"/><path class="k51" d="M2441 1711l19 8 18 3-19-8zM2461 1724l19 8 19 3-20-8z"/><path class="k9" d="M3046 1927l25 10 11 4-25-9zM3085 1941l26 9 11 5-26-9z"/><path class="k40" d="M2608 1766l20 9 16 4-21-9zM2633 1779l21 8 16 4-21-8z"/><path class="k26" d="M2808 1838l22 8 14 5-23-9zM2839 1851l24 9 13 4-23-9z"/><path class="k12" d="M3010 1914l24 9 12 4-25-9zM3048 1927l25 9 12 5-26-9z"/><path class="k29" d="M2772 1825l22 8 14 5-22-9zM2803 1838l22 8 14 5-22-9z"/><path class="k54" d="M2403 1700l19 7 19 4-19-8zM2422 1712l19 8 20 4-20-9z"/><path class="k43" d="M2571 1754l20 8 17 4-20-8zM2575 1759l20 8 17 4-21-9zM2595 1767l21 8 17 4-21-8z"/><path class="k15" d="M2974 1900l24 9 12 5-24-9zM2986 1904l25 9 12 5-25-9zM3011 1913l25 10 12 4-25-9z"/><path class="k31" d="M2737 1812l21 9 14 4-21-9zM2758 1821l22 8 14 4-22-8zM2766 1825l22 9 15 4-23-9z"/><path class="k17" d="M2938 1886l24 9 12 5-24-9zM2974 1900l24 9 13 4-25-9z"/><path class="k45" d="M2535 1742l19 8 17 4-19-8zM2557 1755l21 8 17 4-20-8z"/><path class="k56" d="M2365 1688l19 8 19 4-18-8zM2382 1701l19 8 21 3-20-8z"/><path class="k34" d="M2701 1799l21 9 15 4-22-8zM2729 1812l22 9 15 4-22-9z"/><path class="k20" d="M2902 1873l24 9 12 4-23-9zM2937 1886l24 9 13 5-25-9z"/><path class="k48" d="M2498 1730l19 9 18 3-20-8zM2519 1743l20 8 18 4-20-8z"/><path class="k37" d="M2664 1787l22 8 15 4-21-8zM2670 1791l21 9 16 4-21-9z"/><path class="k8" d="M3071 1937l25 9 11 5-25-10zM3111 1950l26 10 12 5-27-10z"/><path class="k50" d="M2460 1719l19 8 19 3-20-8zM2479 1727l20 8 18 4-19-9z"/><path class="k25" d="M2830 1846l23 9 13 5-22-9zM2863 1860l23 8 14 5-24-9z"/><path class="k39" d="M2628 1775l21 8 15 4-20-8zM2654 1787l21 9 16 4-21-9z"/><path class="k11" d="M3034 1923l25 9 12 5-25-10zM3073 1936l26 10 12 4-26-9z"/><path class="k28" d="M2794 1833l23 9 13 4-22-8z"/><path class="k42" d="M2591 1762l21 9 16 4-20-9z"/><path class="k53" d="M2422 1707l19 8 19 4-19-8z"/><path class="k14" d="M2998 1909l25 9 11 5-24-9z"/><path class="k16" d="M2962 1895l24 9 12 5-24-9z"/><path class="k44" d="M2554 1750l21 9 16 3-20-8z"/><path class="k55" d="M2384 1696l18 8 20 3-19-7zM2402 1704l20 8 19 3-19-8z"/><path class="k33" d="M2722 1808l22 8 14 5-21-9z"/><path class="k19" d="M2926 1882l23 9 13 4-24-9z"/><path class="k47" d="M2517 1739l20 8 17 3-19-8z"/><path class="k36" d="M2686 1795l21 9 15 4-21-9zM2691 1800l22 8 16 4-22-8z"/><path class="k22" d="M2889 1868l24 9 13 5-24-9zM2900 1873l23 9 14 4-24-9z"/><path class="k58" d="M2344 1685l19 8 21 3-19-8zM2342 1691l18 8 22 2-19-8z"/><path class="k7" d="M3096 1946l26 9 11 5-26-9z"/><path class="k24" d="M2853 1855l23 9 13 4-23-8z"/><path class="k10" d="M3059 1932l26 9 11 5-25-9z"/><path class="k27" d="M2817 1842l22 9 14 4-23-9z"/><path class="k13" d="M3023 1918l25 9 11 5-25-9z"/><path class="k41" d="M2612 1771l21 8 16 4-21-8z"/><path class="k52" d="M2441 1715l20 9 18 3-19-8z"/><path class="k30" d="M2780 1829l23 9 14 4-23-9z"/><path class="k32" d="M2744 1816l22 9 14 4-22-8z"/><path class="k18" d="M2949 1891l25 9 12 4-24-9z"/><path class="k46" d="M2537 1747l20 8 18 4-21-9z"/><path class="k6" d="M3122 1955l27 10 11 4-27-9zM3149 1965l27 9 11 5-27-10z"/><path class="k57" d="M2363 1693l19 8 20 3-18-8z"/><path class="k59" d="M2323 1683l19 8 21 2-19-8z"/><path class="k50" d="M2480 1732l20 8 19 3-20-8zM2501 1745l21 9 19 3-21-9z"/><path class="k14" d="M3036 1923l25 9 12 4-25-9zM3049 1927l26 10 13 4-27-9zM3075 1937l27 9 12 5-26-10z"/><path class="k28" d="M2825 1846l24 9 14 5-24-9zM2834 1851l24 9 14 4-23-9zM2858 1860l24 9 14 4-24-9z"/><path class="k42" d="M2616 1775l21 9 17 3-21-8zM2620 1780l21 9 18 3-22-8z"/><path class="k16" d="M2998 1909l26 9 12 5-25-10zM3037 1923l26 9 12 5-26-10z"/><path class="k30" d="M2788 1834l23 8 14 4-22-8zM2819 1847l24 9 15 4-24-9z"/><path class="k61" d="M2300 1680l19 8 23 3-19-8zM2295 1686l19 8 24 2-19-8z"/><path class="k53" d="M2441 1720l20 9 19 3-19-8zM2440 1726l20 8 21 3-20-8z"/><path class="k19" d="M2961 1895l25 9 12 5-24-9zM2998 1909l26 10 13 4-26-9z"/><path class="k5" d="M3176 1974l27 10 11 5-27-10zM3220 1989l29 10 11 5-29-10z"/><path class="k44" d="M2578 1763l21 9 17 3-21-8zM2602 1777l21 8 18 4-21-9z"/><path class="k33" d="M2751 1821l22 9 15 4-22-9zM2781 1834l23 9 15 4-23-9z"/><path class="k55" d="M2401 1709l19 9 21 2-19-8zM2419 1723l20 8 21 3-20-8z"/><path class="k22" d="M2923 1882l25 9 13 4-24-9zM2934 1886l25 10 14 4-25-9z"/><path class="k7" d="M3137 1960l28 10 11 4-27-9zM3165 1970l27 9 11 5-27-10zM3181 1975l28 10 11 4-28-10z"/><path class="k36" d="M2713 1808l22 9 16 4-22-9zM2719 1813l23 9 16 4-23-9z"/><path class="k47" d="M2539 1751l21 9 18 3-21-8zM2541 1757l21 8 19 3-21-8z"/><path class="k10" d="M3099 1946l27 9 11 5-26-10zM3141 1960l28 10 12 5-28-10z"/><path class="k24" d="M2886 1868l24 9 13 5-23-9zM2921 1882l25 9 13 5-25-10z"/><path class="k57" d="M2360 1699l20 8 21 2-19-8zM2380 1707l19 8 21 3-19-9z"/><path class="k38" d="M2675 1796l22 8 16 4-22-8z"/><path class="k13" d="M3061 1932l27 9 11 5-26-10z"/><path class="k49" d="M2500 1740l20 8 19 3-20-8z"/><path class="k27" d="M2849 1855l23 9 14 4-23-8z"/><path class="k41" d="M2637 1784l22 8 16 4-21-9zM2641 1789l22 8 17 4-21-9z"/><path class="k15" d="M3024 1918l25 9 12 5-25-9z"/><path class="k29" d="M2811 1842l23 9 15 4-24-9z"/><path class="k60" d="M2319 1688l19 8 22 3-18-8zM2314 1694l20 8 23 2-19-8z"/><path class="k52" d="M2461 1729l20 8 19 3-20-8zM2460 1734l21 8 20 3-20-8z"/><path class="k4" d="M3203 1984l28 10 11 5-28-10z"/><path class="k18" d="M2986 1904l25 10 13 4-26-9z"/><path class="k43" d="M2599 1772l21 8 17 4-21-9z"/><path class="k32" d="M2773 1830l23 8 15 4-23-8z"/><path class="k21" d="M2948 1891l25 9 13 4-25-9zM2959 1896l26 9 13 4-25-9z"/><path class="k54" d="M2420 1718l20 8 21 3-20-9z"/><path class="k62" d="M2277 1678l18 8 24 2-19-8z"/><path class="k35" d="M2735 1817l23 9 15 4-22-9zM2742 1822l23 9 16 3-23-8z"/><path class="k46" d="M2560 1760l21 8 18 4-21-9z"/><path class="k9" d="M3126 1955l27 10 12 5-28-10z"/><path class="k23" d="M2910 1877l24 9 14 5-25-9z"/><path class="k37" d="M2697 1804l22 9 16 4-22-9z"/><path class="k12" d="M3088 1941l26 10 12 4-27-9z"/><path class="k26" d="M2872 1864l24 9 14 4-24-9z"/><path class="k48" d="M2520 1748l21 9 19 3-21-9z"/><path class="k40" d="M2659 1792l21 9 17 3-22-8z"/><path class="k51" d="M2481 1737l20 8 19 3-20-8z"/><path class="k59" d="M2338 1696l19 8 23 3-20-8z"/><path class="k3" d="M3231 1994l29 10 11 4-29-9z"/><path class="k17" d="M3011 1914l26 9 12 4-25-9z"/><path class="k31" d="M2796 1838l23 9 15 4-23-9z"/><path class="k6" d="M3192 1979l28 10 11 5-28-10z"/><path class="k20" d="M2973 1900l25 9 13 5-25-10z"/><path class="k34" d="M2758 1826l23 8 15 4-23-8z"/><path class="k8" d="M3153 1965l28 10 11 4-27-9z"/><path class="k45" d="M2581 1768l21 9 18 3-21-8z"/><path class="k11" d="M3114 1951l27 9 12 5-27-10z"/><path class="k56" d="M2399 1715l20 8 21 3-20-8z"/><path class="k25" d="M2896 1873l25 9 13 4-24-9z"/><path class="k64" d="M2252 1676l18 8 25 2-18-8z"/><path class="k39" d="M2680 1801l23 8 16 4-22-9z"/><path class="k2" d="M3260 2004l30 10 10 5-29-11z"/><path class="k58" d="M2357 1704l20 9 22 2-19-8z"/><path class="k46" d="M2562 1765l21 9 19 3-21-9zM2586 1779l22 9 19 3-22-9z"/><path class="k13" d="M3102 1946l27 10 12 4-27-9zM3145 1961l29 10 12 5-29-10z"/><path class="k63" d="M2270 1684l19 8 25 2-19-8zM2263 1691l19 8 27 2-20-9z"/><path class="k38" d="M2703 1809l22 9 17 4-23-9zM2731 1824l24 9 17 3-24-9z"/><path class="k27" d="M2882 1869l24 9 15 4-25-9zM2892 1874l25 9 14 4-25-9zM2917 1883l25 10 15 4-26-10z"/><path class="k1" d="M3290 2014l30 10 10 5-30-10z"/><path class="k15" d="M3063 1932l27 10 12 4-27-9zM3104 1947l28 10 13 4-28-9z"/><path class="k49" d="M2522 1754l21 8 19 3-21-8zM2522 1759l22 9 20 3-21-9z"/><path class="k57" d="M2377 1713l19 8 23 2-20-8zM2373 1719l20 8 24 2-21-8z"/><path class="k4" d="M3249 1999l30 10 11 5-30-10z"/><path class="k29" d="M2843 1856l24 9 15 4-24-9zM2877 1870l25 10 15 3-25-9z"/><path class="k40" d="M2663 1797l23 9 17 3-23-8zM2690 1811l24 9 17 4-23-9z"/><path class="k18" d="M3024 1919l26 9 13 4-26-9zM3064 1933l27 10 13 4-27-9z"/><path class="k7" d="M3209 1985l29 10 11 4-29-10zM3256 2000l31 10 11 5-30-10z"/><path class="k65" d="M2225 1675l19 8 26 1-18-8zM2216 1682l19 8 28 1-19-8z"/><path class="k32" d="M2804 1843l24 9 15 4-24-9z"/><path class="k51" d="M2481 1742l20 9 21 3-21-9z"/><path class="k21" d="M2985 1905l26 9 13 5-26-10zM2997 1910l26 10 14 4-26-10z"/><path class="k43" d="M2623 1785l22 9 18 3-22-8zM2627 1791l22 9 19 3-23-9z"/><path class="k59" d="M2334 1702l19 9 24 2-20-9z"/><path class="k9" d="M3169 1970l29 10 11 5-28-10z"/><path class="k34" d="M2765 1831l23 9 16 3-23-9z"/><path class="k23" d="M2946 1891l25 10 14 4-26-9z"/><path class="k54" d="M2439 1731l20 9 22 2-21-8zM2437 1738l21 8 22 2-21-8z"/><path class="k12" d="M3129 1956l28 10 12 4-28-10z"/><path class="k45" d="M2583 1774l22 8 18 3-21-8z"/><path class="k26" d="M2906 1878l25 9 15 4-25-9z"/><path class="k37" d="M2725 1818l23 9 17 4-23-9z"/><path class="k62" d="M2289 1692l20 9 25 1-20-8zM2282 1699l20 9 26 1-19-8z"/><path class="k14" d="M3090 1942l27 10 12 4-27-10zM3117 1952l28 9 12 5-28-10z"/><path class="k3" d="M3279 2009l30 10 11 5-30-10z"/><path class="k48" d="M2543 1762l21 9 19 3-21-9zM2544 1768l21 8 21 3-22-8z"/><path class="k56" d="M2396 1721l21 8 22 2-20-8zM2393 1727l21 9 23 2-20-9z"/><path class="k28" d="M2867 1865l25 9 14 4-24-9z"/><path class="k39" d="M2686 1806l22 9 17 3-22-9zM2708 1815l23 9 17 3-23-9z"/><path class="k17" d="M3050 1928l27 10 13 4-27-10z"/><path class="k6" d="M3238 1995l30 10 11 4-30-10z"/><path class="k31" d="M2828 1852l24 9 15 4-24-9z"/><path class="k64" d="M2244 1683l19 8 26 1-19-8z"/><path class="k20" d="M3011 1914l26 10 13 4-26-9z"/><path class="k50" d="M2501 1751l21 8 21 3-21-8z"/><path class="k42" d="M2645 1794l23 9 18 3-23-9z"/><path class="k8" d="M3198 1980l29 10 11 5-29-10zM3227 1990l29 10 12 5-30-10z"/><path class="k58" d="M2353 1711l20 8 23 2-19-8z"/><path class="k33" d="M2788 1840l24 9 16 3-24-9zM2812 1849l24 9 16 3-24-9z"/><path class="k22" d="M2971 1901l26 9 14 4-26-9z"/><path class="k11" d="M3157 1966l29 10 12 4-29-10z"/><path class="k53" d="M2459 1740l21 8 21 3-20-9z"/><path class="k44" d="M2605 1782l22 9 18 3-22-9z"/><path class="k25" d="M2931 1887l26 10 14 4-25-10z"/><path class="k66" d="M2197 1674l19 8 28 1-19-8z"/><path class="k36" d="M2748 1827l24 9 16 4-23-9z"/><path class="k61" d="M2309 1701l19 8 25 2-19-9z"/><path class="k47" d="M2564 1771l22 8 19 3-22-8z"/><path class="k55" d="M2417 1729l20 9 22 2-20-9z"/><path class="k16" d="M3077 1938l27 9 13 5-27-10z"/><path class="k5" d="M3268 2005l30 10 11 4-30-10z"/><path class="k30" d="M2852 1861l25 9 15 4-25-9z"/><path class="k19" d="M3037 1924l27 9 13 5-27-10z"/><path class="k41" d="M2668 1803l22 8 18 4-22-9z"/><path class="k10" d="M3186 1976l29 10 12 4-29-10z"/><path class="k52" d="M2480 1748l21 9 21 2-21-8z"/><path class="k24" d="M2957 1897l26 9 14 4-26-9z"/><path class="k35" d="M2772 1836l24 9 16 4-24-9z"/><path class="k60" d="M2328 1709l20 8 25 2-20-8z"/><path class="k67" d="M2167 1674l19 8 30 0-19-8z"/><path class="k21" d="M3023 1920l27 9 14 4-27-9zM3036 1925l28 10 14 4-28-10z"/><path class="k9" d="M3215 1986l30 10 11 4-29-10z"/><path class="k32" d="M2836 1858l25 9 16 3-25-9zM2845 1863l25 10 16 3-25-9z"/><path class="k43" d="M2649 1800l23 8 18 3-22-8zM2653 1806l23 8 19 3-23-9z"/><path class="k51" d="M2501 1757l22 8 21 3-22-9zM2500 1763l22 9 22 2-21-9z"/><path class="k23" d="M2983 1906l26 10 14 4-26-10zM3022 1921l28 10 14 4-28-10z"/><path class="k12" d="M3174 1971l29 10 12 5-29-10zM3220 1987l31 11 12 4-30-11z"/><path class="k34" d="M2796 1845l24 9 16 4-24-9zM2828 1860l25 9 17 4-25-10z"/><path class="k64" d="M2235 1690l19 9 28 0-19-8zM2224 1699l20 8 30 0-20-8z"/><path class="k59" d="M2348 1717l20 9 25 1-20-8zM2342 1725l21 8 26 1-21-8z"/><path class="k14" d="M3132 1957l29 10 13 4-29-10zM3161 1967l29 10 13 4-29-10z"/><path class="k26" d="M2942 1893l26 9 15 4-26-9zM2953 1899l27 9 15 4-27-10zM2980 1908l27 10 15 3-27-9z"/><path class="k45" d="M2608 1788l22 9 19 3-22-9zM2633 1803l23 9 20 2-23-8z"/><path class="k37" d="M2755 1833l24 9 17 3-24-9zM2761 1838l25 10 17 3-24-9z"/><path class="k53" d="M2458 1746l21 9 22 2-21-9z"/><path class="k17" d="M3091 1943l29 10 12 4-28-10zM3135 1959l29 10 14 4-30-10z"/><path class="k28" d="M2902 1880l25 9 15 4-25-10zM2938 1895l27 10 15 3-27-9z"/><path class="k47" d="M2565 1776l23 9 20 3-22-9zM2588 1785l22 9 20 3-22-9z"/><path class="k39" d="M2714 1820l23 9 18 4-24-9z"/><path class="k61" d="M2302 1708l20 8 26 1-20-8zM2294 1716l20 8 28 1-20-9z"/><path class="k66" d="M2186 1682l19 8 30 0-19-8zM2173 1691l19 9 32-1-19-9z"/><path class="k20" d="M3050 1929l28 10 13 4-27-10zM3064 1935l28 10 14 4-28-10z"/><path class="k8" d="M3245 1996l30 10 12 4-31-10z"/><path class="k56" d="M2414 1736l20 8 24 2-21-8zM2410 1743l21 8 25 2-22-9z"/><path class="k31" d="M2861 1867l25 9 16 4-25-10zM2870 1873l26 9 16 3-26-9z"/><path class="k42" d="M2672 1808l23 9 19 3-24-9zM2676 1814l24 10 19 2-24-9z"/><path class="k11" d="M3203 1981l30 10 12 5-30-10z"/><path class="k22" d="M3009 1916l27 9 14 4-27-9z"/><path class="k50" d="M2523 1765l21 9 21 2-21-8zM2522 1772l22 9 22 2-22-9z"/><path class="k33" d="M2820 1854l25 9 16 4-25-9z"/><path class="k63" d="M2254 1699l20 8 28 1-20-9zM2244 1707l20 9 30 0-20-9z"/><path class="k58" d="M2368 1726l21 8 25 2-21-9zM2363 1733l21 9 26 1-21-9z"/><path class="k25" d="M2968 1902l27 10 14 4-26-10z"/><path class="k44" d="M2630 1797l23 9 19 2-23-8z"/><path class="k68" d="M2135 1674l19 9 32-1-19-8z"/><path class="k36" d="M2779 1842l24 9 17 3-24-9zM2786 1848l24 9 18 3-25-9z"/><path class="k52" d="M2479 1755l21 8 23 2-22-8z"/><path class="k16" d="M3120 1953l28 10 13 4-29-10z"/><path class="k27" d="M2927 1889l26 10 15 3-26-9z"/><path class="k38" d="M2737 1829l24 9 18 4-24-9z"/><path class="k60" d="M2322 1716l20 9 26 1-20-9z"/><path class="k19" d="M3078 1939l28 10 14 4-29-10z"/><path class="k65" d="M2205 1690l19 9 30 0-19-9z"/><path class="k30" d="M2886 1876l26 9 15 4-25-9z"/><path class="k55" d="M2434 1744l22 9 23 2-21-9z"/><path class="k10" d="M3233 1991l30 11 12 4-30-10z"/><path class="k41" d="M2695 1817l24 9 18 3-23-9z"/><path class="k49" d="M2544 1774l22 9 22 2-23-9z"/><path class="k13" d="M3190 1977l30 10 13 4-30-10z"/><path class="k24" d="M2995 1912l27 9 14 4-27-9z"/><path class="k62" d="M2274 1707l20 9 28 0-20-8z"/><path class="k57" d="M2389 1734l21 9 24 1-20-8z"/><path class="k35" d="M2803 1851l25 9 17 3-25-9z"/><path class="k67" d="M2154 1683l19 8 32-1-19-8z"/><path class="k15" d="M3148 1963l30 10 12 4-29-10zM3178 1973l30 10 12 4-30-10z"/><path class="k46" d="M2610 1794l23 9 20 3-23-9z"/><path class="k18" d="M3106 1949l29 10 13 4-28-10z"/><path class="k29" d="M2912 1885l26 10 15 4-26-10z"/><path class="k54" d="M2456 1753l21 9 23 1-21-8z"/><path class="k40" d="M2719 1826l24 9 18 3-24-9z"/><path class="k48" d="M2566 1783l23 9 21 2-22-9z"/><path class="k69" d="M2100 1676l18 8 36-1-19-9z"/><path class="k53" d="M2477 1762l22 8 23 2-22-9zM2475 1769l22 9 24 1-22-9z"/><path class="k20" d="M3092 1945l29 10 14 4-29-10zM3107 1951l30 10 14 4-30-10zM3137 1961l30 11 14 3-30-10z"/><path class="k39" d="M2743 1835l24 10 19 3-25-10zM2773 1851l26 10 19 2-26-9z"/><path class="k31" d="M2896 1882l26 10 16 3-26-10zM2905 1888l27 10 17 3-27-9z"/><path class="k47" d="M2589 1792l23 9 21 2-23-9zM2613 1808l24 9 22 2-24-9z"/><path class="k68" d="M2118 1684l20 9 35-2-19-8zM2138 1693l19 8 35-1-19-9zM2099 1696l20 8 38-3-19-8zM2119 1704l19 9 39-3-20-9z"/><path class="k22" d="M3050 1931l28 10 14 4-28-10zM3093 1948l29 10 15 3-30-10z"/><path class="k60" d="M2314 1724l21 9 28 0-21-8zM2326 1742l22 9 29-1-21-9z"/><path class="k55" d="M2431 1751l22 9 24 2-21-9zM2427 1759l22 9 26 1-22-9z"/><path class="k41" d="M2700 1824l24 9 19 2-24-9zM2729 1839l25 10 19 2-25-9z"/><path class="k14" d="M3208 1983l30 11 13 4-31-11z"/><path class="k33" d="M2853 1869l26 10 17 3-26-9zM2888 1885l27 10 17 3-27-10z"/><path class="k25" d="M3007 1918l28 10 15 3-28-10zM3020 1924l28 10 16 4-29-10zM3048 1934l30 10 15 4-29-10z"/><path class="k49" d="M2544 1781l23 9 22 2-23-9zM2567 1790l23 9 22 2-23-9zM2567 1797l23 9 23 2-23-9z"/><path class="k66" d="M2192 1700l20 8 32-1-20-8zM2177 1710l20 8 35-1-20-9z"/><path class="k16" d="M3164 1969l31 10 13 4-30-10z"/><path class="k36" d="M2810 1857l26 9 17 3-25-9zM2818 1863l26 10 18 3-26-10z"/><path class="k44" d="M2656 1812l24 9 20 3-24-10zM2659 1819l24 9 21 2-24-9z"/><path class="k27" d="M2965 1905l27 9 15 4-27-10zM3004 1921l29 10 15 3-28-10z"/><path class="k57" d="M2384 1742l21 9 26 0-21-8z"/><path class="k19" d="M3121 1955l30 10 13 4-29-10zM3167 1972l31 10 14 4-31-11z"/><path class="k63" d="M2264 1716l21 8 29 0-20-8zM2252 1725l21 9 32-1-20-9z"/><path class="k52" d="M2499 1770l22 9 23 2-22-9zM2497 1778l23 9 24 1-23-9z"/><path class="k70" d="M2061 1679l19 8 38-3-18-8zM2037 1691l19 9 43-4-19-9z"/><path class="k38" d="M2767 1845l25 9 18 3-24-9z"/><path class="k30" d="M2922 1892l27 9 16 4-27-10zM2932 1898l28 10 16 3-27-10z"/><path class="k46" d="M2612 1801l23 9 21 2-23-9z"/><path class="k21" d="M3078 1941l29 10 14 4-29-10z"/><path class="k59" d="M2335 1733l21 8 28 1-21-9zM2356 1741l21 9 28 1-21-9z"/><path class="k40" d="M2724 1833l24 9 19 3-24-10zM2748 1842l25 9 19 3-25-9z"/><path class="k32" d="M2879 1879l26 9 17 4-26-10z"/><path class="k54" d="M2453 1760l22 9 24 1-22-8zM2449 1768l22 9 26 1-22-9z"/><path class="k24" d="M3035 1928l29 10 14 3-28-10z"/><path class="k65" d="M2212 1708l20 9 32-1-20-9z"/><path class="k15" d="M3195 1979l30 11 13 4-30-11z"/><path class="k35" d="M2836 1866l26 10 17 3-26-10zM2844 1873l26 9 18 3-26-9z"/><path class="k43" d="M2680 1821l24 9 20 3-24-9zM2683 1828l25 9 21 2-25-9z"/><path class="k26" d="M2992 1914l28 10 15 4-28-10z"/><path class="k56" d="M2405 1751l22 8 26 1-22-9z"/><path class="k18" d="M3151 1965l30 10 14 4-31-10z"/><path class="k51" d="M2521 1779l23 9 23 2-23-9z"/><path class="k62" d="M2285 1724l20 9 30 0-21-9z"/><path class="k69" d="M2080 1687l19 9 39-3-20-9z"/><path class="k37" d="M2792 1854l26 9 18 3-26-9z"/><path class="k29" d="M2949 1901l27 10 16 3-27-9z"/><path class="k45" d="M2635 1810l24 9 21 2-24-9z"/><path class="k67" d="M2157 1701l20 9 35-2-20-8z"/><path class="k23" d="M3064 1938l29 10 14 3-29-10z"/><path class="k48" d="M2590 1799l23 9 22 2-23-9z"/><path class="k64" d="M2232 1717l20 8 33-1-21-8z"/><path class="k34" d="M2862 1876l26 9 17 3-26-9z"/><path class="k42" d="M2704 1830l25 9 19 3-24-9z"/><path class="k17" d="M3181 1975l31 11 13 4-30-11z"/><path class="k71" d="M2018 1683l19 8 43-4-19-8z"/><path class="k50" d="M2544 1788l23 9 23 2-23-9z"/><path class="k61" d="M2305 1733l21 9 30-1-21-8z"/><path class="k28" d="M2976 1911l28 10 16 3-28-10z"/><path class="k58" d="M2377 1750l22 9 28 0-22-8z"/><path class="k65" d="M2197 1718l20 9 35-2-20-8zM2179 1730l21 9 38-3-21-9z"/><path class="k30" d="M2960 1908l28 10 16 3-28-10zM2971 1915l29 10 16 3-28-10z"/><path class="k21" d="M3122 1958l31 10 14 4-30-11z"/><path class="k38" d="M2799 1861l26 9 19 3-26-10zM2805 1868l27 10 20 2-27-10zM2832 1878l27 9 20 3-27-10z"/><path class="k51" d="M2520 1787l23 9 24 1-23-9zM2540 1805l24 9 26 0-24-9z"/><path class="k57" d="M2399 1759l22 9 28 0-22-9zM2391 1768l23 10 29-1-22-9z"/><path class="k46" d="M2637 1817l25 9 21 2-24-9zM2639 1825l25 9 22 2-24-10z"/><path class="k62" d="M2273 1734l21 9 32-1-21-9zM2259 1745l22 9 35-2-22-9z"/><path class="k32" d="M2915 1895l28 10 17 3-28-10zM2953 1912l29 10 18 3-29-10z"/><path class="k24" d="M3078 1944l29 10 15 4-29-10zM3122 1962l32 10 15 3-31-10z"/><path class="k40" d="M2754 1849l25 9 20 3-26-10zM2785 1866l27 10 20 2-27-10z"/><path class="k54" d="M2471 1777l23 9 26 1-23-9zM2466 1786l23 9 28 0-23-9z"/><path class="k69" d="M2056 1700l20 9 43-5-20-8z"/><path class="k26" d="M3033 1931l29 10 16 3-30-10zM3076 1948l30 11 16 3-30-11z"/><path class="k48" d="M2590 1806l24 9 23 2-24-9zM2615 1824l24 9 25 1-25-9z"/><path class="k34" d="M2870 1882l27 10 18 3-27-10zM2897 1892l28 10 18 3-28-10zM2906 1900l29 10 18 2-28-10z"/><path class="k59" d="M2348 1751l21 8 30 0-22-9zM2337 1761l22 9 32-2-22-9z"/><path class="k67" d="M2138 1713l21 9 38-4-20-8zM2095 1717l21 9 43-4-21-9z"/><path class="k43" d="M2708 1837l25 10 21 2-25-10zM2712 1845l25 10 22 1-26-9z"/><path class="k29" d="M2988 1918l28 10 17 3-29-10zM3000 1925l29 10 17 3-30-10zM3029 1935l30 10 17 3-30-10z"/><path class="k20" d="M3153 1968l31 11 14 3-31-10z"/><path class="k64" d="M2217 1727l21 9 35-2-21-9zM2200 1739l21 9 38-3-21-9z"/><path class="k37" d="M2825 1870l27 10 18 2-26-9zM2859 1887l28 10 19 3-27-10z"/><path class="k50" d="M2543 1796l23 9 24 1-23-9zM2564 1814l25 9 26 1-25-10z"/><path class="k56" d="M2421 1768l22 9 28 0-22-9zM2414 1778l23 9 29-1-23-9z"/><path class="k45" d="M2662 1826l24 10 22 1-25-9zM2664 1834l25 10 23 1-26-9zM2689 1844l26 9 22 2-25-10z"/><path class="k23" d="M3107 1954l31 11 15 3-31-10z"/><path class="k31" d="M2943 1905l28 10 17 3-28-10zM2982 1922l29 10 18 3-29-10z"/><path class="k61" d="M2294 1743l22 9 32-1-22-9zM2281 1754l22 9 34-2-21-9z"/><path class="k39" d="M2779 1858l26 10 20 2-26-9zM2812 1876l27 10 20 1-27-9z"/><path class="k25" d="M3062 1941l30 10 15 3-29-10zM3092 1951l30 11 16 3-31-11zM3106 1959l32 10 16 3-32-10z"/><path class="k53" d="M2494 1786l23 9 26 1-23-9zM2489 1795l24 10 27 0-23-10z"/><path class="k47" d="M2614 1815l25 10 23 1-25-9z"/><path class="k68" d="M2076 1709l19 8 43-4-19-9z"/><path class="k58" d="M2369 1759l22 9 30 0-22-9zM2359 1770l23 9 32-1-23-10z"/><path class="k42" d="M2733 1847l26 9 20 2-25-9zM2737 1855l27 9 21 2-26-10z"/><path class="k66" d="M2159 1722l20 8 38-3-20-9zM2116 1726l20 9 43-5-20-8zM2136 1735l21 9 43-5-21-9z"/><path class="k28" d="M3016 1928l30 10 16 3-29-10z"/><path class="k36" d="M2852 1880l27 10 18 2-27-10z"/><path class="k63" d="M2238 1736l21 9 35-2-21-9zM2221 1748l21 9 39-3-22-9z"/><path class="k49" d="M2566 1805l24 9 24 1-24-9zM2590 1814l25 10 24 1-25-10z"/><path class="k55" d="M2443 1777l23 9 28 0-23-9zM2437 1787l23 9 29-1-23-9z"/><path class="k44" d="M2686 1836l26 9 21 2-25-10z"/><path class="k22" d="M3138 1965l31 10 15 4-31-11z"/><path class="k60" d="M2316 1752l21 9 32-2-21-8z"/><path class="k33" d="M2925 1902l28 10 18 3-28-10z"/><path class="k52" d="M2517 1795l23 10 26 0-23-9z"/><path class="k41" d="M2759 1856l26 10 20 2-26-10z"/><path class="k27" d="M3046 1938l30 10 16 3-30-10z"/><path class="k35" d="M2879 1890l27 10 19 2-28-10z"/><path class="k33" d="M2935 1910l29 10 18 2-29-10zM2964 1920l29 10 18 2-29-10zM2974 1928l30 10 19 2-30-10zM3016 1947l32 11 19 2-32-11z"/><path class="k60" d="M2303 1763l22 9 34-2-22-9zM2287 1776l22 9 38-4-22-9zM2267 1790l23 10 42-6-23-9z"/><path class="k47" d="M2639 1833l26 10 24 1-25-10zM2639 1843l26 9 26 1-26-10zM2665 1863l27 10 27-1-27-10z"/><path class="k28" d="M3059 1945l31 11 16 3-30-11z"/><path class="k41" d="M2764 1864l26 10 22 2-27-10zM2790 1874l28 10 21 2-27-10zM2795 1883l28 10 23 1-28-10z"/><path class="k52" d="M2513 1805l24 9 27 0-24-9zM2508 1815l25 9 29-1-25-9zM2533 1824l25 10 29-1-25-10zM2526 1836l26 10 31-2-25-10z"/><path class="k36" d="M2887 1897l28 10 20 3-29-10zM2895 1906l29 10 20 2-29-11zM2924 1916l30 10 20 2-30-10zM2933 1925l31 11 21 1-31-11z"/><path class="k57" d="M2382 1779l23 9 32-1-23-9zM2370 1791l24 9 34-2-23-10zM2356 1804l24 10 38-4-24-10z"/><path class="k30" d="M3011 1932l31 11 17 2-30-10zM3054 1951l32 11 18 2-32-11z"/><path class="k44" d="M2715 1853l26 10 23 1-27-9zM2717 1862l27 10 24 1-27-10zM2746 1882l29 10 25 0-28-10z"/><path class="k49" d="M2589 1823l25 10 25 0-24-9zM2587 1833l25 10 27 0-25-10zM2612 1843l26 10 27-1-26-9z"/><path class="k38" d="M2839 1886l28 10 20 1-28-10zM2874 1904l29 11 21 1-29-10z"/><path class="k54" d="M2460 1796l24 9 29 0-24-10zM2452 1807l24 9 32-1-24-10zM2476 1816l25 10 32-2-25-9z"/><path class="k65" d="M2157 1744l21 9 43-5-21-9z"/><path class="k62" d="M2242 1757l22 9 39-3-22-9zM2222 1772l22 9 43-5-23-10z"/><path class="k27" d="M3090 1956l31 10 17 3-32-10z"/><path class="k46" d="M2665 1843l26 10 24 0-26-9zM2665 1852l27 10 25 0-26-9zM2692 1862l27 10 25 0-27-10z"/><path class="k59" d="M2325 1772l22 9 35-2-23-9zM2309 1785l23 9 38-3-23-10z"/><path class="k51" d="M2537 1814l25 9 27 0-25-9zM2558 1834l25 10 29-1-25-10z"/><path class="k35" d="M2915 1907l29 11 20 2-29-10zM2954 1926l31 11 19 1-30-10z"/><path class="k56" d="M2405 1788l23 10 32-2-23-9zM2394 1800l24 10 34-3-24-9zM2418 1810l24 9 34-3-24-9z"/><path class="k29" d="M3042 1943l30 10 18 3-31-11zM3072 1953l32 11 17 2-31-10z"/><path class="k43" d="M2741 1863l27 10 22 1-26-10zM2744 1872l28 10 23 1-27-10z"/><path class="k48" d="M2614 1833l25 10 26 0-26-10zM2638 1853l27 10 27-1-27-10z"/><path class="k37" d="M2867 1896l28 10 20 1-28-10zM2903 1915l30 10 21 1-30-10z"/><path class="k53" d="M2484 1805l24 10 29-1-24-9zM2501 1826l25 10 32-2-25-10z"/><path class="k64" d="M2178 1753l22 9 42-5-21-9z"/><path class="k32" d="M2993 1930l30 10 19 3-31-11zM3004 1938l31 11 19 2-31-11zM3035 1949l32 11 19 2-32-11z"/><path class="k61" d="M2264 1766l23 10 38-4-22-9zM2244 1781l23 9 42-5-22-9z"/><path class="k45" d="M2691 1853l26 9 24 1-26-10zM2719 1872l27 10 26 0-28-10z"/><path class="k40" d="M2818 1884l28 10 21 2-28-10zM2823 1893l29 10 22 1-28-10z"/><path class="k58" d="M2347 1781l23 10 35-3-23-9zM2332 1794l24 10 38-4-24-9z"/><path class="k50" d="M2562 1823l25 10 27 0-25-10zM2583 1844l26 10 29-1-26-10z"/><path class="k34" d="M2944 1918l30 10 19 2-29-10zM2985 1937l31 10 19 2-31-11z"/><path class="k55" d="M2428 1798l24 9 32-2-24-9zM2442 1819l25 10 34-3-25-10z"/><path class="k42" d="M2768 1873l27 10 23 1-28-10zM2772 1882l28 10 23 1-28-10zM2800 1892l28 11 24 0-29-10z"/><path class="k31" d="M3023 1940l31 11 18 2-30-10z"/><path class="k63" d="M2200 1762l22 10 42-6-22-9z"/><path class="k39" d="M2846 1894l28 10 21 2-28-10zM2852 1903l29 11 22 1-29-11zM2881 1914l30 10 22 1-30-10z"/><path class="k49" d="M2609 1854l27 10 29-1-27-10zM2605 1866l27 10 31-2-27-10zM2598 1879l28 11 34-4-28-10zM2626 1890l29 10 33-3-28-11zM2618 1906l29 10 37-5-29-11zM2605 1924l31 11 41-8-30-11z"/><path class="k59" d="M2290 1800l23 10 43-6-24-10z"/><path class="k35" d="M2964 1936l31 10 21 1-31-10zM2995 1946l32 11 21 1-32-11z"/><path class="k56" d="M2380 1814l24 9 38-4-24-9zM2404 1823l25 10 38-4-25-10zM2362 1829l25 10 42-6-25-10zM2387 1839l25 10 42-6-25-10z"/><path class="k41" d="M2828 1903l30 10 23 1-29-11zM2833 1913l30 11 25 0-30-11zM2868 1936l31 11 27-1-32-11zM2871 1949l33 11 28-2-33-11z"/><path class="k46" d="M2692 1873l28 10 26-1-27-10zM2691 1884l28 10 29-1-28-10zM2718 1907l29 11 31-2-30-11zM2714 1922l31 11 33-4-31-11zM2708 1939l31 11 37-6-31-11zM2698 1958l32 11 41-8-32-11zM2730 1969l34 12 40-8-33-12z"/><path class="k54" d="M2467 1829l25 10 34-3-25-10zM2454 1843l26 10 38-4-26-10zM2438 1860l26 10 42-7-26-10z"/><path class="k51" d="M2552 1846l26 10 31-2-26-10zM2544 1859l27 10 34-3-27-10zM2533 1874l28 10 37-5-27-10zM2519 1891l28 11 42-7-28-11z"/><path class="k38" d="M2911 1924l31 11 22 1-31-11zM2919 1934l31 11 23 0-31-10z"/><path class="k43" d="M2775 1892l28 11 25 0-28-11zM2777 1903l29 11 27-1-30-10zM2806 1914l31 11 26-1-30-11zM2808 1926l32 11 28-1-31-11zM2809 1940l32 11 30-2-31-12zM2841 1951l33 12 30-3-33-11z"/><path class="k48" d="M2636 1864l27 10 29-1-27-10zM2632 1876l28 10 31-2-28-10zM2655 1900l29 11 34-4-30-10zM2647 1916l30 11 37-5-30-11zM2636 1935l30 11 42-7-31-12z"/><path class="k58" d="M2313 1810l24 9 43-5-24-10z"/><path class="k40" d="M2858 1913l30 11 23 0-30-10zM2863 1924l31 11 25-1-31-10zM2894 1935l32 11 24-1-31-11zM2899 1947l33 11 26-1-32-11z"/><path class="k45" d="M2720 1883l28 10 27-1-29-10zM2719 1894l29 11 29-2-29-10zM2748 1905l30 11 28-2-29-11zM2747 1918l31 11 30-3-30-10zM2745 1933l31 11 33-4-31-11zM2739 1950l32 11 37-5-32-12zM2771 1961l33 12 37-6-33-11z"/><path class="k53" d="M2492 1839l26 10 34-3-26-10zM2480 1853l26 10 38-4-26-10zM2464 1870l27 10 42-6-27-11z"/><path class="k37" d="M2942 1935l31 10 22 1-31-10zM2950 1945l32 11 23 0-32-11z"/><path class="k50" d="M2578 1856l27 10 31-2-27-10zM2571 1869l27 10 34-3-27-10zM2561 1884l28 11 37-5-28-11zM2589 1895l29 11 37-6-29-10zM2547 1902l29 11 42-7-29-11zM2576 1913l29 11 42-8-29-10z"/><path class="k42" d="M2803 1903l30 10 25 0-30-10zM2837 1925l31 11 26-1-31-11zM2840 1937l31 12 28-2-31-11z"/><path class="k47" d="M2663 1874l28 10 29-1-28-10zM2660 1886l28 11 31-3-28-10zM2688 1897l30 10 30-2-29-11zM2684 1911l30 11 33-4-29-11zM2677 1927l31 12 37-6-31-11zM2666 1946l32 12 41-8-31-11z"/><path class="k57" d="M2337 1819l25 10 42-6-24-9z"/><path class="k39" d="M2888 1924l31 10 23 1-31-11zM2926 1946l32 11 24-1-32-11z"/><path class="k55" d="M2429 1833l25 10 38-4-25-10zM2412 1849l26 11 42-7-26-10z"/><path class="k44" d="M2748 1893l29 10 26 0-28-11zM2778 1916l30 10 29-1-31-11zM2778 1929l31 11 31-3-32-11zM2776 1944l32 12 33-5-32-11zM2808 1956l33 11 33-4-33-12z"/><path class="k52" d="M2518 1849l26 10 34-3-26-10zM2506 1863l27 11 38-5-27-10zM2491 1880l28 11 42-7-28-10z"/><path class="k36" d="M2973 1945l32 11 22 1-32-11z"/></g>
<line x1="402.7" y1="315" x2="527.9" y2="295" stroke="#222" stroke-width="1.1" stroke-dasharray="2.4 1.4"/>
<line x1="527.9" y1="295" x2="670.4" y2="311.8" stroke="#222" stroke-width="1.1" stroke-dasharray="2.4 1.4"/>
<line x1="662.3" y1="487.7" x2="670.4" y2="311.8" stroke="#222" stroke-width="1.2"/>
<line x1="409.7" y1="495.6" x2="551.4" y2="546.6" stroke="#000" stroke-width="1.5"/>
<line x1="551.4" y1="546.6" x2="662.3" y2="487.7" stroke="#000" stroke-width="1.5"/>
<line x1="409.7" y1="495.6" x2="402.7" y2="315" stroke="#000" stroke-width="1.6"/>
<g><line x1="405.7" y1="495.6" x2="409.7" y2="495.6" stroke="#000" stroke-width="1.2"/><line x1="404.6" y1="467" x2="408.6" y2="467" stroke="#000" stroke-width="1.2"/><line x1="403.5" y1="437.8" x2="407.5" y2="437.8" stroke="#000" stroke-width="1.2"/><line x1="402.3" y1="408" x2="406.3" y2="408" stroke="#000" stroke-width="1.2"/><line x1="401.1" y1="377.6" x2="405.1" y2="377.6" stroke="#000" stroke-width="1.2"/><line x1="399.9" y1="346.6" x2="403.9" y2="346.6" stroke="#000" stroke-width="1.2"/><line x1="398.7" y1="315" x2="402.7" y2="315" stroke="#000" stroke-width="1.2"/><line x1="422.1" y1="500.1" x2="417.3" y2="502" stroke="#000" stroke-width="1.2"/><line x1="447.9" y1="509.4" x2="443.1" y2="511.4" stroke="#000" stroke-width="1.2"/><line x1="475.3" y1="519.2" x2="470.5" y2="521.4" stroke="#000" stroke-width="1.2"/><line x1="504.3" y1="529.7" x2="499.6" y2="532" stroke="#000" stroke-width="1.2"/><line x1="535.2" y1="540.8" x2="530.5" y2="543.2" stroke="#000" stroke-width="1.2"/><line x1="551.4" y1="546.6" x2="557.1" y2="548.7" stroke="#000" stroke-width="1.2"/><line x1="564.3" y1="539.7" x2="570.1" y2="541.8" stroke="#000" stroke-width="1.2"/><line x1="576.8" y1="533.1" x2="582.5" y2="535" stroke="#000" stroke-width="1.2"/><line x1="588.9" y1="526.7" x2="594.5" y2="528.6" stroke="#000" stroke-width="1.2"/><line x1="600.5" y1="520.5" x2="606.1" y2="522.3" stroke="#000" stroke-width="1.2"/><line x1="611.7" y1="514.6" x2="617.3" y2="516.3" stroke="#000" stroke-width="1.2"/><line x1="622.5" y1="508.8" x2="628.1" y2="510.5" stroke="#000" stroke-width="1.2"/><line x1="633" y1="503.3" x2="638.5" y2="504.9" stroke="#000" stroke-width="1.2"/><line x1="643.1" y1="497.9" x2="648.5" y2="499.5" stroke="#000" stroke-width="1.2"/><line x1="652.8" y1="492.7" x2="658.3" y2="494.2" stroke="#000" stroke-width="1.2"/><line x1="662.3" y1="487.7" x2="667.7" y2="489.1" stroke="#000" stroke-width="1.2"/></g>
<g><text transform="translate(405.2 500.6) skewY(-20) scale(0.75 1)" text-anchor="end" class="tl" style="font-size:12px">4.5</text><text transform="translate(404.1 472) skewY(-18.2) scale(0.75 1)" text-anchor="end" class="tl" style="font-size:12px">4.6</text><text transform="translate(403 442.8) skewY(-16.3) scale(0.75 1)" text-anchor="end" class="tl" style="font-size:12px">4.7</text><text transform="translate(401.8 413) skewY(-14.5) scale(0.75 1)" text-anchor="end" class="tl" style="font-size:12px">4.8</text><text transform="translate(400.6 382.6) skewY(-12.7) scale(0.75 1)" text-anchor="end" class="tl" style="font-size:12px">4.9</text><text transform="translate(399.4 351.6) skewY(-10.8) scale(0.75 1)" text-anchor="end" class="tl" style="font-size:12px">5.0</text><text transform="translate(398.2 320) skewY(-9) scale(0.75 1)" text-anchor="end" class="tl" style="font-size:12px">5.1</text><text transform="translate(413.6 503.9) rotate(-40) skewX(-20) scale(1.0 0.75)" text-anchor="middle" dominant-baseline="central" class="tl" style="font-size:9px;font-weight:bold">26</text><text transform="translate(439.4 513.2) rotate(-40) skewX(-20) scale(1.0 0.75)" text-anchor="middle" dominant-baseline="central" class="tl" style="font-size:9px;font-weight:bold">28</text><text transform="translate(466.8 523) rotate(-40) skewX(-20) scale(1.0 0.75)" text-anchor="middle" dominant-baseline="central" class="tl" style="font-size:9px;font-weight:bold">30</text><text transform="translate(495.8 533.5) rotate(-40) skewX(-20) scale(1.0 0.75)" text-anchor="middle" dominant-baseline="central" class="tl" style="font-size:9px;font-weight:bold">32</text><text transform="translate(526.7 544.6) rotate(-40) skewX(-20) scale(1.0 0.75)" text-anchor="middle" dominant-baseline="central" class="tl" style="font-size:9px;font-weight:bold">34</text><text transform="translate(556.4 550.1) rotate(20) skewX(-43) scale(1.0 0.8)" text-anchor="start" dominant-baseline="central" class="tv" style="font-size:9px;font-weight:bold">0.10</text><text transform="translate(569.3 543.2) rotate(20) skewX(-43) scale(1.0 0.8)" text-anchor="start" dominant-baseline="central" class="tv" style="font-size:9px;font-weight:bold">0.12</text><text transform="translate(581.8 536.6) rotate(20) skewX(-43) scale(1.0 0.8)" text-anchor="start" dominant-baseline="central" class="tv" style="font-size:9px;font-weight:bold">0.14</text><text transform="translate(593.9 530.2) rotate(20) skewX(-43) scale(1.0 0.8)" text-anchor="start" dominant-baseline="central" class="tv" style="font-size:9px;font-weight:bold">0.16</text><text transform="translate(605.5 524) rotate(20) skewX(-43) scale(1.0 0.8)" text-anchor="start" dominant-baseline="central" class="tv" style="font-size:9px;font-weight:bold">0.18</text><text transform="translate(616.7 518.1) rotate(20) skewX(-43) scale(1.0 0.8)" text-anchor="start" dominant-baseline="central" class="tv" style="font-size:9px;font-weight:bold">0.20</text><text transform="translate(627.5 512.3) rotate(20) skewX(-43) scale(1.0 0.8)" text-anchor="start" dominant-baseline="central" class="tv" style="font-size:9px;font-weight:bold">0.22</text><text transform="translate(638 506.8) rotate(20) skewX(-43) scale(1.0 0.8)" text-anchor="start" dominant-baseline="central" class="tv" style="font-size:9px;font-weight:bold">0.24</text><text transform="translate(648.1 501.4) rotate(20) skewX(-43) scale(1.0 0.8)" text-anchor="start" dominant-baseline="central" class="tv" style="font-size:9px;font-weight:bold">0.26</text><text transform="translate(657.8 496.2) rotate(20) skewX(-43) scale(1.0 0.8)" text-anchor="start" dominant-baseline="central" class="tv" style="font-size:9px;font-weight:bold">0.28</text><text transform="translate(667.3 491.2) rotate(20) skewX(-43) scale(1.0 0.8)" text-anchor="start" dominant-baseline="central" class="tv" style="font-size:9px;font-weight:bold">0.30</text><text transform="translate(381.3 413.4) rotate(90)" text-anchor="middle" dominant-baseline="central" class="tt" style="font-size:12.85px;font-weight:bold">thickness(mm)</text><text transform="translate(456.4 529) rotate(22) skewX(-12) scale(1 0.8)" text-anchor="middle" dominant-baseline="central" class="tt" style="font-size:10.3px;font-weight:bold">Working angle(°)</text><text transform="translate(641 525) rotate(-26.6) skewX(-27) scale(1 0.85)" text-anchor="middle" dominant-baseline="central" class="tv" style="font-size:9.15px;font-weight:bold">Friction factor</text><text x="350" y="316" class="pl" style="font-size:18px">(d)</text></g>
</svg></body></html>
